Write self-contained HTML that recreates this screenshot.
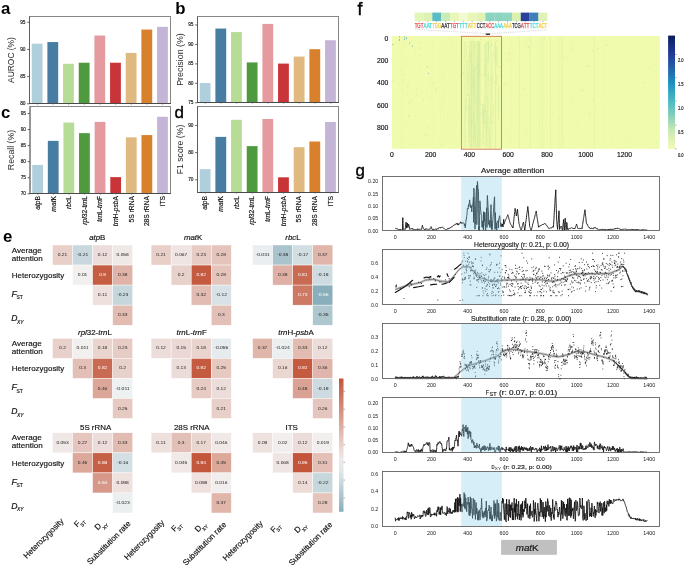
<!DOCTYPE html>
<html><head><meta charset="utf-8"><style>
html,body{margin:0;padding:0;background:#fff;}
svg{display:block;font-family:"Liberation Sans", sans-serif;will-change:transform;}
.gp{text-rendering:geometricPrecision;}
</style></head><body>
<svg width="685" height="565" viewBox="0 0 685 565">
<rect width="685" height="565" fill="#fff"/>
<text x="0.90" y="14.10" font-size="16.8" font-weight="bold">a</text>
<text x="175.20" y="14.00" font-size="16.8" font-weight="bold">b</text>
<text x="1.00" y="118.40" font-size="16.8" font-weight="bold">c</text>
<text x="174.60" y="118.20" font-size="17.0" stroke="#000" stroke-width="0.35">d</text>
<text x="3.00" y="242.00" font-size="16.8" font-weight="bold">e</text>
<text x="357.40" y="14.90" font-size="17.5" stroke="#000" stroke-width="0.45">f</text>
<text x="355.40" y="175.70" font-size="16.0" textLength="9.40" lengthAdjust="spacingAndGlyphs" stroke="#000" stroke-width="0.35">g</text>
<rect x="31.73" y="43.69" width="10.81" height="59.81" fill="#b0cfdc"/>
<rect x="47.39" y="42.06" width="10.81" height="61.44" fill="#477da2"/>
<rect x="63.06" y="63.81" width="10.81" height="39.69" fill="#b7dc96"/>
<rect x="78.73" y="62.72" width="10.81" height="40.78" fill="#4f9a3f"/>
<rect x="94.39" y="35.53" width="10.81" height="67.97" fill="#e49a9e"/>
<rect x="110.06" y="62.72" width="10.81" height="40.78" fill="#c93438"/>
<rect x="125.73" y="52.93" width="10.81" height="50.57" fill="#dfb97f"/>
<rect x="141.40" y="29.55" width="10.81" height="73.95" fill="#d9802c"/>
<rect x="157.06" y="26.83" width="10.81" height="76.67" fill="#c4b5d6"/>
<rect x="29.50" y="16.50" width="141.00" height="87.00" fill="none" stroke="#7a7a7a" stroke-width="0.9"/>
<line x1="29.10" y1="103.50" x2="170.90" y2="103.50" stroke="#444" stroke-width="0.9"/>
<line x1="29.50" y1="16.50" x2="29.50" y2="103.50" stroke="#555" stroke-width="0.8"/>
<line x1="27.10" y1="103.80" x2="29.50" y2="103.80" stroke="#444" stroke-width="0.8"/>
<text x="25.50" y="105.20" font-size="4.8" text-anchor="end" fill="#222" stroke="#222" stroke-width="0.16">80</text>
<line x1="27.10" y1="76.61" x2="29.50" y2="76.61" stroke="#444" stroke-width="0.8"/>
<text x="25.50" y="78.01" font-size="4.8" text-anchor="end" fill="#222" stroke="#222" stroke-width="0.16">85</text>
<line x1="27.10" y1="49.42" x2="29.50" y2="49.42" stroke="#444" stroke-width="0.8"/>
<text x="25.50" y="50.83" font-size="4.8" text-anchor="end" fill="#222" stroke="#222" stroke-width="0.16">90</text>
<line x1="27.10" y1="22.24" x2="29.50" y2="22.24" stroke="#444" stroke-width="0.8"/>
<text x="25.50" y="23.64" font-size="4.8" text-anchor="end" fill="#222" stroke="#222" stroke-width="0.16">95</text>
<line x1="37.33" y1="103.50" x2="37.33" y2="105.10" stroke="#666" stroke-width="0.5"/>
<line x1="53.00" y1="103.50" x2="53.00" y2="105.10" stroke="#666" stroke-width="0.5"/>
<line x1="68.67" y1="103.50" x2="68.67" y2="105.10" stroke="#666" stroke-width="0.5"/>
<line x1="84.33" y1="103.50" x2="84.33" y2="105.10" stroke="#666" stroke-width="0.5"/>
<line x1="100.00" y1="103.50" x2="100.00" y2="105.10" stroke="#666" stroke-width="0.5"/>
<line x1="115.67" y1="103.50" x2="115.67" y2="105.10" stroke="#666" stroke-width="0.5"/>
<line x1="131.33" y1="103.50" x2="131.33" y2="105.10" stroke="#666" stroke-width="0.5"/>
<line x1="147.00" y1="103.50" x2="147.00" y2="105.10" stroke="#666" stroke-width="0.5"/>
<line x1="162.67" y1="103.50" x2="162.67" y2="105.10" stroke="#666" stroke-width="0.5"/>
<text transform="translate(14.10,60.00) rotate(-90)" font-size="8.7" text-anchor="middle" fill="#2a2a2a" stroke="none" textLength="45.8" lengthAdjust="spacingAndGlyphs">AUROC (%)</text>
<rect x="199.73" y="83.04" width="10.81" height="19.46" fill="#b0cfdc"/>
<rect x="215.40" y="28.56" width="10.81" height="73.94" fill="#477da2"/>
<rect x="231.06" y="32.07" width="10.81" height="70.43" fill="#b7dc96"/>
<rect x="246.73" y="62.42" width="10.81" height="40.08" fill="#4f9a3f"/>
<rect x="262.40" y="23.89" width="10.81" height="78.61" fill="#e49a9e"/>
<rect x="278.06" y="63.59" width="10.81" height="38.91" fill="#c93438"/>
<rect x="293.73" y="56.58" width="10.81" height="45.92" fill="#dfb97f"/>
<rect x="309.40" y="49.19" width="10.81" height="53.31" fill="#d9802c"/>
<rect x="325.06" y="40.24" width="10.81" height="62.26" fill="#c4b5d6"/>
<rect x="197.50" y="16.50" width="141.00" height="86.00" fill="none" stroke="#7a7a7a" stroke-width="0.9"/>
<line x1="197.10" y1="102.50" x2="338.90" y2="102.50" stroke="#444" stroke-width="0.9"/>
<line x1="197.50" y1="16.50" x2="197.50" y2="102.50" stroke="#555" stroke-width="0.8"/>
<line x1="195.10" y1="102.80" x2="197.50" y2="102.80" stroke="#444" stroke-width="0.8"/>
<text x="193.50" y="104.20" font-size="4.8" text-anchor="end" fill="#222" stroke="#222" stroke-width="0.16">75</text>
<line x1="195.10" y1="83.34" x2="197.50" y2="83.34" stroke="#444" stroke-width="0.8"/>
<text x="193.50" y="84.74" font-size="4.8" text-anchor="end" fill="#222" stroke="#222" stroke-width="0.16">80</text>
<line x1="195.10" y1="63.89" x2="197.50" y2="63.89" stroke="#444" stroke-width="0.8"/>
<text x="193.50" y="65.29" font-size="4.8" text-anchor="end" fill="#222" stroke="#222" stroke-width="0.16">85</text>
<line x1="195.10" y1="44.43" x2="197.50" y2="44.43" stroke="#444" stroke-width="0.8"/>
<text x="193.50" y="45.83" font-size="4.8" text-anchor="end" fill="#222" stroke="#222" stroke-width="0.16">90</text>
<line x1="195.10" y1="24.97" x2="197.50" y2="24.97" stroke="#444" stroke-width="0.8"/>
<text x="193.50" y="26.37" font-size="4.8" text-anchor="end" fill="#222" stroke="#222" stroke-width="0.16">95</text>
<line x1="205.33" y1="102.50" x2="205.33" y2="104.10" stroke="#666" stroke-width="0.5"/>
<line x1="221.00" y1="102.50" x2="221.00" y2="104.10" stroke="#666" stroke-width="0.5"/>
<line x1="236.67" y1="102.50" x2="236.67" y2="104.10" stroke="#666" stroke-width="0.5"/>
<line x1="252.33" y1="102.50" x2="252.33" y2="104.10" stroke="#666" stroke-width="0.5"/>
<line x1="268.00" y1="102.50" x2="268.00" y2="104.10" stroke="#666" stroke-width="0.5"/>
<line x1="283.67" y1="102.50" x2="283.67" y2="104.10" stroke="#666" stroke-width="0.5"/>
<line x1="299.33" y1="102.50" x2="299.33" y2="104.10" stroke="#666" stroke-width="0.5"/>
<line x1="315.00" y1="102.50" x2="315.00" y2="104.10" stroke="#666" stroke-width="0.5"/>
<line x1="330.67" y1="102.50" x2="330.67" y2="104.10" stroke="#666" stroke-width="0.5"/>
<text transform="translate(183.20,59.50) rotate(-90)" font-size="8.7" text-anchor="middle" fill="#2a2a2a" stroke="none" textLength="52.6" lengthAdjust="spacingAndGlyphs">Precision (%)</text>
<rect x="32.22" y="164.93" width="10.77" height="28.57" fill="#b0cfdc"/>
<rect x="47.83" y="140.85" width="10.77" height="52.65" fill="#477da2"/>
<rect x="63.44" y="122.55" width="10.77" height="70.95" fill="#b7dc96"/>
<rect x="79.05" y="133.15" width="10.77" height="60.35" fill="#4f9a3f"/>
<rect x="94.66" y="121.91" width="10.77" height="71.59" fill="#e49a9e"/>
<rect x="110.28" y="177.13" width="10.77" height="16.37" fill="#c93438"/>
<rect x="125.89" y="137.32" width="10.77" height="56.18" fill="#dfb97f"/>
<rect x="141.50" y="135.07" width="10.77" height="58.43" fill="#d9802c"/>
<rect x="157.11" y="116.77" width="10.77" height="76.73" fill="#c4b5d6"/>
<rect x="30.00" y="106.50" width="140.50" height="87.00" fill="none" stroke="#7a7a7a" stroke-width="0.9"/>
<line x1="29.60" y1="193.50" x2="170.90" y2="193.50" stroke="#444" stroke-width="0.9"/>
<line x1="30.00" y1="106.50" x2="30.00" y2="193.50" stroke="#555" stroke-width="0.8"/>
<line x1="27.60" y1="193.80" x2="30.00" y2="193.80" stroke="#444" stroke-width="0.8"/>
<text x="26.00" y="195.20" font-size="4.8" text-anchor="end" fill="#222" stroke="#222" stroke-width="0.16">70</text>
<line x1="27.60" y1="177.75" x2="30.00" y2="177.75" stroke="#444" stroke-width="0.8"/>
<text x="26.00" y="179.15" font-size="4.8" text-anchor="end" fill="#222" stroke="#222" stroke-width="0.16">75</text>
<line x1="27.60" y1="161.70" x2="30.00" y2="161.70" stroke="#444" stroke-width="0.8"/>
<text x="26.00" y="163.10" font-size="4.8" text-anchor="end" fill="#222" stroke="#222" stroke-width="0.16">80</text>
<line x1="27.60" y1="145.65" x2="30.00" y2="145.65" stroke="#444" stroke-width="0.8"/>
<text x="26.00" y="147.05" font-size="4.8" text-anchor="end" fill="#222" stroke="#222" stroke-width="0.16">85</text>
<line x1="27.60" y1="129.59" x2="30.00" y2="129.59" stroke="#444" stroke-width="0.8"/>
<text x="26.00" y="130.99" font-size="4.8" text-anchor="end" fill="#222" stroke="#222" stroke-width="0.16">90</text>
<line x1="27.60" y1="113.54" x2="30.00" y2="113.54" stroke="#444" stroke-width="0.8"/>
<text x="26.00" y="114.94" font-size="4.8" text-anchor="end" fill="#222" stroke="#222" stroke-width="0.16">95</text>
<line x1="37.81" y1="193.50" x2="37.81" y2="195.10" stroke="#666" stroke-width="0.5"/>
<line x1="53.42" y1="193.50" x2="53.42" y2="195.10" stroke="#666" stroke-width="0.5"/>
<line x1="69.03" y1="193.50" x2="69.03" y2="195.10" stroke="#666" stroke-width="0.5"/>
<line x1="84.64" y1="193.50" x2="84.64" y2="195.10" stroke="#666" stroke-width="0.5"/>
<line x1="100.25" y1="193.50" x2="100.25" y2="195.10" stroke="#666" stroke-width="0.5"/>
<line x1="115.86" y1="193.50" x2="115.86" y2="195.10" stroke="#666" stroke-width="0.5"/>
<line x1="131.47" y1="193.50" x2="131.47" y2="195.10" stroke="#666" stroke-width="0.5"/>
<line x1="147.08" y1="193.50" x2="147.08" y2="195.10" stroke="#666" stroke-width="0.5"/>
<line x1="162.69" y1="193.50" x2="162.69" y2="195.10" stroke="#666" stroke-width="0.5"/>
<text transform="translate(14.10,150.00) rotate(-90)" font-size="8.7" text-anchor="middle" fill="#2a2a2a" stroke="none" textLength="40.3" lengthAdjust="spacingAndGlyphs">Recall (%)</text>
<rect x="199.73" y="169.17" width="10.81" height="23.33" fill="#b0cfdc"/>
<rect x="215.40" y="136.88" width="10.81" height="55.62" fill="#477da2"/>
<rect x="231.06" y="119.79" width="10.81" height="72.71" fill="#b7dc96"/>
<rect x="246.73" y="146.11" width="10.81" height="46.39" fill="#4f9a3f"/>
<rect x="262.40" y="118.98" width="10.81" height="73.52" fill="#e49a9e"/>
<rect x="278.06" y="177.31" width="10.81" height="15.19" fill="#c93438"/>
<rect x="293.73" y="147.19" width="10.81" height="45.31" fill="#dfb97f"/>
<rect x="309.40" y="141.50" width="10.81" height="51.00" fill="#d9802c"/>
<rect x="325.06" y="121.96" width="10.81" height="70.54" fill="#c4b5d6"/>
<rect x="197.50" y="106.50" width="141.00" height="86.00" fill="none" stroke="#7a7a7a" stroke-width="0.9"/>
<line x1="197.10" y1="192.50" x2="338.90" y2="192.50" stroke="#444" stroke-width="0.9"/>
<line x1="197.50" y1="106.50" x2="197.50" y2="192.50" stroke="#555" stroke-width="0.8"/>
<line x1="195.10" y1="179.78" x2="197.50" y2="179.78" stroke="#444" stroke-width="0.8"/>
<text x="193.50" y="181.18" font-size="4.8" text-anchor="end" fill="#222" stroke="#222" stroke-width="0.16">70</text>
<line x1="195.10" y1="152.65" x2="197.50" y2="152.65" stroke="#444" stroke-width="0.8"/>
<text x="193.50" y="154.05" font-size="4.8" text-anchor="end" fill="#222" stroke="#222" stroke-width="0.16">80</text>
<line x1="195.10" y1="125.52" x2="197.50" y2="125.52" stroke="#444" stroke-width="0.8"/>
<text x="193.50" y="126.92" font-size="4.8" text-anchor="end" fill="#222" stroke="#222" stroke-width="0.16">90</text>
<line x1="205.33" y1="192.50" x2="205.33" y2="194.10" stroke="#666" stroke-width="0.5"/>
<line x1="221.00" y1="192.50" x2="221.00" y2="194.10" stroke="#666" stroke-width="0.5"/>
<line x1="236.67" y1="192.50" x2="236.67" y2="194.10" stroke="#666" stroke-width="0.5"/>
<line x1="252.33" y1="192.50" x2="252.33" y2="194.10" stroke="#666" stroke-width="0.5"/>
<line x1="268.00" y1="192.50" x2="268.00" y2="194.10" stroke="#666" stroke-width="0.5"/>
<line x1="283.67" y1="192.50" x2="283.67" y2="194.10" stroke="#666" stroke-width="0.5"/>
<line x1="299.33" y1="192.50" x2="299.33" y2="194.10" stroke="#666" stroke-width="0.5"/>
<line x1="315.00" y1="192.50" x2="315.00" y2="194.10" stroke="#666" stroke-width="0.5"/>
<line x1="330.67" y1="192.50" x2="330.67" y2="194.10" stroke="#666" stroke-width="0.5"/>
<text transform="translate(183.20,149.50) rotate(-90)" font-size="8.7" text-anchor="middle" fill="#2a2a2a" stroke="none" textLength="49.6" lengthAdjust="spacingAndGlyphs">F1 score (%)</text>
<text transform="translate(40.00,196.0) rotate(-90)" font-size="6.7" text-anchor="end" fill="#111" stroke="#111" stroke-width="0.16"><tspan font-style="italic">atp</tspan><tspan>B</tspan></text>
<text transform="translate(55.60,196.0) rotate(-90)" font-size="6.7" text-anchor="end" fill="#111" stroke="#111" stroke-width="0.16"><tspan font-style="italic">mat</tspan><tspan>K</tspan></text>
<text transform="translate(71.20,196.0) rotate(-90)" font-size="6.7" text-anchor="end" fill="#111" stroke="#111" stroke-width="0.16"><tspan font-style="italic">rbc</tspan><tspan>L</tspan></text>
<text transform="translate(86.80,196.0) rotate(-90)" font-size="6.7" text-anchor="end" fill="#111" stroke="#111" stroke-width="0.16"><tspan font-style="italic">rpl</tspan><tspan>32-</tspan><tspan font-style="italic">trn</tspan><tspan>L</tspan></text>
<text transform="translate(102.40,196.0) rotate(-90)" font-size="6.7" text-anchor="end" fill="#111" stroke="#111" stroke-width="0.16"><tspan font-style="italic">trn</tspan><tspan>L-</tspan><tspan font-style="italic">trn</tspan><tspan>F</tspan></text>
<text transform="translate(118.00,196.0) rotate(-90)" font-size="6.7" text-anchor="end" fill="#111" stroke="#111" stroke-width="0.16"><tspan font-style="italic">trn</tspan><tspan>H-</tspan><tspan font-style="italic">psb</tspan><tspan>A</tspan></text>
<text transform="translate(133.60,196.0) rotate(-90)" font-size="6.7" text-anchor="end" fill="#111" stroke="#111" stroke-width="0.16">5S rRNA</text>
<text transform="translate(149.20,196.0) rotate(-90)" font-size="6.7" text-anchor="end" fill="#111" stroke="#111" stroke-width="0.16">28S rRNA</text>
<text transform="translate(164.80,196.0) rotate(-90)" font-size="6.7" text-anchor="end" fill="#111" stroke="#111" stroke-width="0.16">ITS</text>
<text transform="translate(207.24,196.0) rotate(-90)" font-size="6.7" text-anchor="end" fill="#111" stroke="#111" stroke-width="0.16"><tspan font-style="italic">atp</tspan><tspan>B</tspan></text>
<text transform="translate(222.92,196.0) rotate(-90)" font-size="6.7" text-anchor="end" fill="#111" stroke="#111" stroke-width="0.16"><tspan font-style="italic">mat</tspan><tspan>K</tspan></text>
<text transform="translate(238.59,196.0) rotate(-90)" font-size="6.7" text-anchor="end" fill="#111" stroke="#111" stroke-width="0.16"><tspan font-style="italic">rbc</tspan><tspan>L</tspan></text>
<text transform="translate(254.27,196.0) rotate(-90)" font-size="6.7" text-anchor="end" fill="#111" stroke="#111" stroke-width="0.16"><tspan font-style="italic">rpl</tspan><tspan>32-</tspan><tspan font-style="italic">trn</tspan><tspan>L</tspan></text>
<text transform="translate(269.95,196.0) rotate(-90)" font-size="6.7" text-anchor="end" fill="#111" stroke="#111" stroke-width="0.16"><tspan font-style="italic">trn</tspan><tspan>L-</tspan><tspan font-style="italic">trn</tspan><tspan>F</tspan></text>
<text transform="translate(285.63,196.0) rotate(-90)" font-size="6.7" text-anchor="end" fill="#111" stroke="#111" stroke-width="0.16"><tspan font-style="italic">trn</tspan><tspan>H-</tspan><tspan font-style="italic">psb</tspan><tspan>A</tspan></text>
<text transform="translate(301.31,196.0) rotate(-90)" font-size="6.7" text-anchor="end" fill="#111" stroke="#111" stroke-width="0.16">5S rRNA</text>
<text transform="translate(316.98,196.0) rotate(-90)" font-size="6.7" text-anchor="end" fill="#111" stroke="#111" stroke-width="0.16">28S rRNA</text>
<text transform="translate(332.66,196.0) rotate(-90)" font-size="6.7" text-anchor="end" fill="#111" stroke="#111" stroke-width="0.16">ITS</text>
<rect x="52.50" y="245.00" width="20.05" height="20.05" fill="#e8cfc8" stroke="#fff" stroke-width="0.45"/>
<text x="62.52" y="256.12" font-size="4.35" text-anchor="middle" fill="#262626" textLength="9.46" lengthAdjust="spacingAndGlyphs" class="gp">0.21</text>
<rect x="72.55" y="245.00" width="20.05" height="20.05" fill="#c8d8de" stroke="#fff" stroke-width="0.45"/>
<text x="82.58" y="256.12" font-size="4.35" text-anchor="middle" fill="#262626" textLength="11.37" lengthAdjust="spacingAndGlyphs" class="gp">-0.21</text>
<rect x="92.60" y="245.00" width="20.05" height="20.05" fill="#ecddda" stroke="#fff" stroke-width="0.45"/>
<text x="102.62" y="256.12" font-size="4.35" text-anchor="middle" fill="#262626" textLength="9.46" lengthAdjust="spacingAndGlyphs" class="gp">0.12</text>
<rect x="112.65" y="245.00" width="20.05" height="20.05" fill="#f0e8e7" stroke="#fff" stroke-width="0.45"/>
<text x="122.68" y="256.12" font-size="4.35" text-anchor="middle" fill="#262626" textLength="12.16" lengthAdjust="spacingAndGlyphs" class="gp">0.058</text>
<rect x="72.55" y="265.05" width="20.05" height="20.05" fill="#f2f0ef" stroke="#fff" stroke-width="0.45"/>
<text x="82.58" y="276.18" font-size="4.35" text-anchor="middle" fill="#262626" textLength="9.46" lengthAdjust="spacingAndGlyphs" class="gp">0.01</text>
<rect x="92.60" y="265.05" width="20.05" height="20.05" fill="#c55d42" stroke="#fff" stroke-width="0.45"/>
<text x="102.62" y="276.18" font-size="4.35" text-anchor="middle" fill="#ffffff" textLength="6.76" lengthAdjust="spacingAndGlyphs" class="gp">0.9</text>
<rect x="112.65" y="265.05" width="20.05" height="20.05" fill="#dfb3a7" stroke="#fff" stroke-width="0.45"/>
<text x="122.68" y="276.18" font-size="4.35" text-anchor="middle" fill="#262626" textLength="9.46" lengthAdjust="spacingAndGlyphs" class="gp">0.38</text>
<rect x="92.60" y="285.10" width="20.05" height="20.05" fill="#ede0dd" stroke="#fff" stroke-width="0.45"/>
<text x="102.62" y="296.23" font-size="4.35" text-anchor="middle" fill="#262626" textLength="9.46" lengthAdjust="spacingAndGlyphs" class="gp">0.11</text>
<rect x="112.65" y="285.10" width="20.05" height="20.05" fill="#c6d7dc" stroke="#fff" stroke-width="0.45"/>
<text x="122.68" y="296.23" font-size="4.35" text-anchor="middle" fill="#262626" textLength="11.37" lengthAdjust="spacingAndGlyphs" class="gp">-0.23</text>
<rect x="112.65" y="305.15" width="20.05" height="20.05" fill="#e2bbb1" stroke="#fff" stroke-width="0.45"/>
<text x="122.68" y="316.27" font-size="4.35" text-anchor="middle" fill="#262626" textLength="9.46" lengthAdjust="spacingAndGlyphs" class="gp">0.33</text>
<text x="97.25" y="239.60" font-size="7.9" text-anchor="middle" fill="#111" stroke="#111" stroke-width="0.16"><tspan font-style="italic">atp</tspan><tspan>B</tspan></text>
<text x="11.8" y="252.60" font-size="8.1" fill="#111" stroke="#111" stroke-width="0.16">Average</text>
<text x="11.8" y="260.60" font-size="8.1" fill="#111" stroke="#111" stroke-width="0.16">attention</text>
<text x="11.8" y="278.10" font-size="7.95" fill="#111" stroke="#111" stroke-width="0.16">Heterozygosity</text>
<text x="11.4" y="296.70" font-size="8.9" fill="#111" font-style="italic" stroke="#111" stroke-width="0.16">F</text>
<text x="16.6" y="299.30" font-size="4.9" fill="#111" stroke="#111" stroke-width="0.16">ST</text>
<text x="11.200000000000001" y="320.80" font-size="8.6" fill="#111" font-style="italic" stroke="#111" stroke-width="0.16">D</text>
<text x="17.0" y="323.60" font-size="4.9" fill="#111" font-style="italic" stroke="#111" stroke-width="0.16">XY</text>
<rect x="151.10" y="245.00" width="20.05" height="20.05" fill="#e8cfc8" stroke="#fff" stroke-width="0.45"/>
<text x="161.12" y="256.12" font-size="4.35" text-anchor="middle" fill="#262626" textLength="9.46" lengthAdjust="spacingAndGlyphs" class="gp">0.21</text>
<rect x="171.15" y="245.00" width="20.05" height="20.05" fill="#efe6e4" stroke="#fff" stroke-width="0.45"/>
<text x="181.18" y="256.12" font-size="4.35" text-anchor="middle" fill="#262626" textLength="12.16" lengthAdjust="spacingAndGlyphs" class="gp">0.067</text>
<rect x="191.20" y="245.00" width="20.05" height="20.05" fill="#e7ccc6" stroke="#fff" stroke-width="0.45"/>
<text x="201.22" y="256.12" font-size="4.35" text-anchor="middle" fill="#262626" textLength="9.46" lengthAdjust="spacingAndGlyphs" class="gp">0.23</text>
<rect x="211.25" y="245.00" width="20.05" height="20.05" fill="#e5c4bb" stroke="#fff" stroke-width="0.45"/>
<text x="221.28" y="256.12" font-size="4.35" text-anchor="middle" fill="#262626" textLength="9.46" lengthAdjust="spacingAndGlyphs" class="gp">0.28</text>
<rect x="171.15" y="265.05" width="20.05" height="20.05" fill="#e9d1cb" stroke="#fff" stroke-width="0.45"/>
<text x="181.18" y="276.18" font-size="4.35" text-anchor="middle" fill="#262626" textLength="6.76" lengthAdjust="spacingAndGlyphs" class="gp">0.2</text>
<rect x="191.20" y="265.05" width="20.05" height="20.05" fill="#c45a3f" stroke="#fff" stroke-width="0.45"/>
<text x="201.22" y="276.18" font-size="4.35" text-anchor="middle" fill="#ffffff" textLength="9.46" lengthAdjust="spacingAndGlyphs" class="gp">0.92</text>
<rect x="211.25" y="265.05" width="20.05" height="20.05" fill="#e5c4bb" stroke="#fff" stroke-width="0.45"/>
<text x="221.28" y="276.18" font-size="4.35" text-anchor="middle" fill="#262626" textLength="9.46" lengthAdjust="spacingAndGlyphs" class="gp">0.28</text>
<rect x="191.20" y="285.10" width="20.05" height="20.05" fill="#e2bcb3" stroke="#fff" stroke-width="0.45"/>
<text x="201.22" y="296.23" font-size="4.35" text-anchor="middle" fill="#262626" textLength="9.46" lengthAdjust="spacingAndGlyphs" class="gp">0.32</text>
<rect x="211.25" y="285.10" width="20.05" height="20.05" fill="#d9e3e7" stroke="#fff" stroke-width="0.45"/>
<text x="221.28" y="296.23" font-size="4.35" text-anchor="middle" fill="#262626" textLength="11.37" lengthAdjust="spacingAndGlyphs" class="gp">-0.12</text>
<rect x="211.25" y="305.15" width="20.05" height="20.05" fill="#e3c0b7" stroke="#fff" stroke-width="0.45"/>
<text x="221.28" y="316.27" font-size="4.35" text-anchor="middle" fill="#262626" textLength="6.76" lengthAdjust="spacingAndGlyphs" class="gp">0.3</text>
<text x="193.10" y="239.60" font-size="7.9" text-anchor="middle" fill="#111" stroke="#111" stroke-width="0.16"><tspan font-style="italic">mat</tspan><tspan>K</tspan></text>
<rect x="252.60" y="245.00" width="20.05" height="20.05" fill="#eaeef0" stroke="#fff" stroke-width="0.45"/>
<text x="262.62" y="256.12" font-size="4.35" text-anchor="middle" fill="#262626" textLength="14.08" lengthAdjust="spacingAndGlyphs" class="gp">-0.031</text>
<rect x="272.65" y="245.00" width="20.05" height="20.05" fill="#a9c4cc" stroke="#fff" stroke-width="0.45"/>
<text x="282.67" y="256.12" font-size="4.35" text-anchor="middle" fill="#262626" textLength="11.37" lengthAdjust="spacingAndGlyphs" class="gp">-0.38</text>
<rect x="292.70" y="245.00" width="20.05" height="20.05" fill="#d1dee2" stroke="#fff" stroke-width="0.45"/>
<text x="302.72" y="256.12" font-size="4.35" text-anchor="middle" fill="#262626" textLength="11.37" lengthAdjust="spacingAndGlyphs" class="gp">-0.17</text>
<rect x="312.75" y="245.00" width="20.05" height="20.05" fill="#e0b5aa" stroke="#fff" stroke-width="0.45"/>
<text x="322.77" y="256.12" font-size="4.35" text-anchor="middle" fill="#262626" textLength="9.46" lengthAdjust="spacingAndGlyphs" class="gp">0.37</text>
<rect x="272.65" y="265.05" width="20.05" height="20.05" fill="#dfb1a6" stroke="#fff" stroke-width="0.45"/>
<text x="282.67" y="276.18" font-size="4.35" text-anchor="middle" fill="#262626" textLength="9.46" lengthAdjust="spacingAndGlyphs" class="gp">0.39</text>
<rect x="292.70" y="265.05" width="20.05" height="20.05" fill="#c96b53" stroke="#fff" stroke-width="0.45"/>
<text x="302.72" y="276.18" font-size="4.35" text-anchor="middle" fill="#ffffff" textLength="9.46" lengthAdjust="spacingAndGlyphs" class="gp">0.81</text>
<rect x="312.75" y="265.05" width="20.05" height="20.05" fill="#cedce1" stroke="#fff" stroke-width="0.45"/>
<text x="322.77" y="276.18" font-size="4.35" text-anchor="middle" fill="#262626" textLength="11.37" lengthAdjust="spacingAndGlyphs" class="gp">-0.18</text>
<rect x="292.70" y="285.10" width="20.05" height="20.05" fill="#ce7963" stroke="#fff" stroke-width="0.45"/>
<text x="302.72" y="296.23" font-size="4.35" text-anchor="middle" fill="#ffffff" textLength="9.46" lengthAdjust="spacingAndGlyphs" class="gp">0.73</text>
<rect x="312.75" y="285.10" width="20.05" height="20.05" fill="#88afbb" stroke="#fff" stroke-width="0.45"/>
<text x="322.77" y="296.23" font-size="4.35" text-anchor="middle" fill="#ffffff" textLength="11.37" lengthAdjust="spacingAndGlyphs" class="gp">-0.55</text>
<rect x="312.75" y="305.15" width="20.05" height="20.05" fill="#aec7cf" stroke="#fff" stroke-width="0.45"/>
<text x="322.77" y="316.27" font-size="4.35" text-anchor="middle" fill="#262626" textLength="11.37" lengthAdjust="spacingAndGlyphs" class="gp">-0.35</text>
<text x="293.00" y="239.60" font-size="7.9" text-anchor="middle" fill="#111" stroke="#111" stroke-width="0.16"><tspan font-style="italic">rbc</tspan><tspan>L</tspan></text>
<rect x="52.50" y="338.30" width="20.05" height="20.05" fill="#e9d1cb" stroke="#fff" stroke-width="0.45"/>
<text x="62.52" y="349.43" font-size="4.35" text-anchor="middle" fill="#262626" textLength="6.76" lengthAdjust="spacingAndGlyphs" class="gp">0.2</text>
<rect x="72.55" y="338.30" width="20.05" height="20.05" fill="#f2f0ef" stroke="#fff" stroke-width="0.45"/>
<text x="82.58" y="349.43" font-size="4.35" text-anchor="middle" fill="#262626" textLength="12.16" lengthAdjust="spacingAndGlyphs" class="gp">0.011</text>
<rect x="92.60" y="338.30" width="20.05" height="20.05" fill="#e9d4ce" stroke="#fff" stroke-width="0.45"/>
<text x="102.62" y="349.43" font-size="4.35" text-anchor="middle" fill="#262626" textLength="9.46" lengthAdjust="spacingAndGlyphs" class="gp">0.18</text>
<rect x="112.65" y="338.30" width="20.05" height="20.05" fill="#e7ccc6" stroke="#fff" stroke-width="0.45"/>
<text x="122.68" y="349.43" font-size="4.35" text-anchor="middle" fill="#262626" textLength="9.46" lengthAdjust="spacingAndGlyphs" class="gp">0.23</text>
<rect x="72.55" y="358.35" width="20.05" height="20.05" fill="#e3c0b7" stroke="#fff" stroke-width="0.45"/>
<text x="82.58" y="369.48" font-size="4.35" text-anchor="middle" fill="#262626" textLength="6.76" lengthAdjust="spacingAndGlyphs" class="gp">0.3</text>
<rect x="92.60" y="358.35" width="20.05" height="20.05" fill="#c96a52" stroke="#fff" stroke-width="0.45"/>
<text x="102.62" y="369.48" font-size="4.35" text-anchor="middle" fill="#ffffff" textLength="9.46" lengthAdjust="spacingAndGlyphs" class="gp">0.82</text>
<rect x="112.65" y="358.35" width="20.05" height="20.05" fill="#e9d1cb" stroke="#fff" stroke-width="0.45"/>
<text x="122.68" y="369.48" font-size="4.35" text-anchor="middle" fill="#262626" textLength="6.76" lengthAdjust="spacingAndGlyphs" class="gp">0.2</text>
<rect x="92.60" y="378.40" width="20.05" height="20.05" fill="#dca699" stroke="#fff" stroke-width="0.45"/>
<text x="102.62" y="389.53" font-size="4.35" text-anchor="middle" fill="#262626" textLength="9.46" lengthAdjust="spacingAndGlyphs" class="gp">0.46</text>
<rect x="112.65" y="378.40" width="20.05" height="20.05" fill="#eef1f2" stroke="#fff" stroke-width="0.45"/>
<text x="122.68" y="389.53" font-size="4.35" text-anchor="middle" fill="#262626" textLength="14.08" lengthAdjust="spacingAndGlyphs" class="gp">-0.011</text>
<rect x="112.65" y="398.45" width="20.05" height="20.05" fill="#e6c9c1" stroke="#fff" stroke-width="0.45"/>
<text x="122.68" y="409.58" font-size="4.35" text-anchor="middle" fill="#262626" textLength="9.46" lengthAdjust="spacingAndGlyphs" class="gp">0.25</text>
<text x="94.90" y="335.00" font-size="7.9" text-anchor="middle" fill="#111" stroke="#111" stroke-width="0.16"><tspan font-style="italic">rpl</tspan><tspan>32-</tspan><tspan font-style="italic">trn</tspan><tspan>L</tspan></text>
<text x="11.8" y="345.90" font-size="8.1" fill="#111" stroke="#111" stroke-width="0.16">Average</text>
<text x="11.8" y="353.90" font-size="8.1" fill="#111" stroke="#111" stroke-width="0.16">attention</text>
<text x="11.8" y="371.40" font-size="7.95" fill="#111" stroke="#111" stroke-width="0.16">Heterozygosity</text>
<text x="11.4" y="390.00" font-size="8.9" fill="#111" font-style="italic" stroke="#111" stroke-width="0.16">F</text>
<text x="16.6" y="392.60" font-size="4.9" fill="#111" stroke="#111" stroke-width="0.16">ST</text>
<text x="11.200000000000001" y="414.10" font-size="8.6" fill="#111" font-style="italic" stroke="#111" stroke-width="0.16">D</text>
<text x="17.0" y="416.90" font-size="4.9" fill="#111" font-style="italic" stroke="#111" stroke-width="0.16">XY</text>
<rect x="151.10" y="338.30" width="20.05" height="20.05" fill="#ecddda" stroke="#fff" stroke-width="0.45"/>
<text x="161.12" y="349.43" font-size="4.35" text-anchor="middle" fill="#262626" textLength="9.46" lengthAdjust="spacingAndGlyphs" class="gp">0.12</text>
<rect x="171.15" y="338.30" width="20.05" height="20.05" fill="#ebd8d4" stroke="#fff" stroke-width="0.45"/>
<text x="181.18" y="349.43" font-size="4.35" text-anchor="middle" fill="#262626" textLength="9.46" lengthAdjust="spacingAndGlyphs" class="gp">0.15</text>
<rect x="191.20" y="338.30" width="20.05" height="20.05" fill="#e9d4ce" stroke="#fff" stroke-width="0.45"/>
<text x="201.22" y="349.43" font-size="4.35" text-anchor="middle" fill="#262626" textLength="9.46" lengthAdjust="spacingAndGlyphs" class="gp">0.18</text>
<rect x="211.25" y="338.30" width="20.05" height="20.05" fill="#e6ebed" stroke="#fff" stroke-width="0.45"/>
<text x="221.28" y="349.43" font-size="4.35" text-anchor="middle" fill="#262626" textLength="14.08" lengthAdjust="spacingAndGlyphs" class="gp">-0.055</text>
<rect x="171.15" y="358.35" width="20.05" height="20.05" fill="#ecdcd8" stroke="#fff" stroke-width="0.45"/>
<text x="181.18" y="369.48" font-size="4.35" text-anchor="middle" fill="#262626" textLength="9.46" lengthAdjust="spacingAndGlyphs" class="gp">0.13</text>
<rect x="191.20" y="358.35" width="20.05" height="20.05" fill="#c45a3f" stroke="#fff" stroke-width="0.45"/>
<text x="201.22" y="369.48" font-size="4.35" text-anchor="middle" fill="#ffffff" textLength="9.46" lengthAdjust="spacingAndGlyphs" class="gp">0.92</text>
<rect x="211.25" y="358.35" width="20.05" height="20.05" fill="#e6c9c1" stroke="#fff" stroke-width="0.45"/>
<text x="221.28" y="369.48" font-size="4.35" text-anchor="middle" fill="#262626" textLength="9.46" lengthAdjust="spacingAndGlyphs" class="gp">0.25</text>
<rect x="191.20" y="378.40" width="20.05" height="20.05" fill="#e6cac3" stroke="#fff" stroke-width="0.45"/>
<text x="201.22" y="389.53" font-size="4.35" text-anchor="middle" fill="#262626" textLength="9.46" lengthAdjust="spacingAndGlyphs" class="gp">0.24</text>
<rect x="211.25" y="378.40" width="20.05" height="20.05" fill="#ecddda" stroke="#fff" stroke-width="0.45"/>
<text x="221.28" y="389.53" font-size="4.35" text-anchor="middle" fill="#262626" textLength="9.46" lengthAdjust="spacingAndGlyphs" class="gp">0.12</text>
<rect x="211.25" y="398.45" width="20.05" height="20.05" fill="#e8cfc8" stroke="#fff" stroke-width="0.45"/>
<text x="221.28" y="409.58" font-size="4.35" text-anchor="middle" fill="#262626" textLength="9.46" lengthAdjust="spacingAndGlyphs" class="gp">0.21</text>
<text x="191.70" y="335.00" font-size="7.9" text-anchor="middle" fill="#111" stroke="#111" stroke-width="0.16"><tspan font-style="italic">trn</tspan><tspan>L-</tspan><tspan font-style="italic">trn</tspan><tspan>F</tspan></text>
<rect x="252.60" y="338.30" width="20.05" height="20.05" fill="#e0b5aa" stroke="#fff" stroke-width="0.45"/>
<text x="262.62" y="349.43" font-size="4.35" text-anchor="middle" fill="#262626" textLength="9.46" lengthAdjust="spacingAndGlyphs" class="gp">0.37</text>
<rect x="272.65" y="338.30" width="20.05" height="20.05" fill="#ebeff0" stroke="#fff" stroke-width="0.45"/>
<text x="282.67" y="349.43" font-size="4.35" text-anchor="middle" fill="#262626" textLength="14.08" lengthAdjust="spacingAndGlyphs" class="gp">-0.024</text>
<rect x="292.70" y="338.30" width="20.05" height="20.05" fill="#e2bbb1" stroke="#fff" stroke-width="0.45"/>
<text x="302.72" y="349.43" font-size="4.35" text-anchor="middle" fill="#262626" textLength="9.46" lengthAdjust="spacingAndGlyphs" class="gp">0.33</text>
<rect x="312.75" y="338.30" width="20.05" height="20.05" fill="#ecddda" stroke="#fff" stroke-width="0.45"/>
<text x="322.77" y="349.43" font-size="4.35" text-anchor="middle" fill="#262626" textLength="9.46" lengthAdjust="spacingAndGlyphs" class="gp">0.12</text>
<rect x="272.65" y="358.35" width="20.05" height="20.05" fill="#ebd7d2" stroke="#fff" stroke-width="0.45"/>
<text x="282.67" y="369.48" font-size="4.35" text-anchor="middle" fill="#262626" textLength="9.46" lengthAdjust="spacingAndGlyphs" class="gp">0.16</text>
<rect x="292.70" y="358.35" width="20.05" height="20.05" fill="#c45a3f" stroke="#fff" stroke-width="0.45"/>
<text x="302.72" y="369.48" font-size="4.35" text-anchor="middle" fill="#ffffff" textLength="9.46" lengthAdjust="spacingAndGlyphs" class="gp">0.92</text>
<rect x="312.75" y="358.35" width="20.05" height="20.05" fill="#e0b6ac" stroke="#fff" stroke-width="0.45"/>
<text x="322.77" y="369.48" font-size="4.35" text-anchor="middle" fill="#262626" textLength="9.46" lengthAdjust="spacingAndGlyphs" class="gp">0.36</text>
<rect x="292.70" y="378.40" width="20.05" height="20.05" fill="#daa294" stroke="#fff" stroke-width="0.45"/>
<text x="302.72" y="389.53" font-size="4.35" text-anchor="middle" fill="#262626" textLength="9.46" lengthAdjust="spacingAndGlyphs" class="gp">0.48</text>
<rect x="312.75" y="378.40" width="20.05" height="20.05" fill="#cddbe0" stroke="#fff" stroke-width="0.45"/>
<text x="322.77" y="389.53" font-size="4.35" text-anchor="middle" fill="#262626" textLength="11.37" lengthAdjust="spacingAndGlyphs" class="gp">-0.19</text>
<rect x="312.75" y="398.45" width="20.05" height="20.05" fill="#e5c6be" stroke="#fff" stroke-width="0.45"/>
<text x="322.77" y="409.58" font-size="4.35" text-anchor="middle" fill="#262626" textLength="9.46" lengthAdjust="spacingAndGlyphs" class="gp">0.26</text>
<text x="296.00" y="335.00" font-size="7.9" text-anchor="middle" fill="#111" stroke="#111" stroke-width="0.16"><tspan font-style="italic">trn</tspan><tspan>H-</tspan><tspan font-style="italic">psb</tspan><tspan>A</tspan></text>
<rect x="52.50" y="432.80" width="20.05" height="20.05" fill="#f0e8e7" stroke="#fff" stroke-width="0.45"/>
<text x="62.52" y="443.93" font-size="4.35" text-anchor="middle" fill="#262626" textLength="12.16" lengthAdjust="spacingAndGlyphs" class="gp">0.053</text>
<rect x="72.55" y="432.80" width="20.05" height="20.05" fill="#e5c5bd" stroke="#fff" stroke-width="0.45"/>
<text x="82.58" y="443.93" font-size="4.35" text-anchor="middle" fill="#262626" textLength="9.46" lengthAdjust="spacingAndGlyphs" class="gp">0.27</text>
<rect x="92.60" y="432.80" width="20.05" height="20.05" fill="#ecddda" stroke="#fff" stroke-width="0.45"/>
<text x="102.62" y="443.93" font-size="4.35" text-anchor="middle" fill="#262626" textLength="9.46" lengthAdjust="spacingAndGlyphs" class="gp">0.12</text>
<rect x="112.65" y="432.80" width="20.05" height="20.05" fill="#e2bbb1" stroke="#fff" stroke-width="0.45"/>
<text x="122.68" y="443.93" font-size="4.35" text-anchor="middle" fill="#262626" textLength="9.46" lengthAdjust="spacingAndGlyphs" class="gp">0.33</text>
<rect x="72.55" y="452.85" width="20.05" height="20.05" fill="#dca89a" stroke="#fff" stroke-width="0.45"/>
<text x="82.58" y="463.98" font-size="4.35" text-anchor="middle" fill="#262626" textLength="9.46" lengthAdjust="spacingAndGlyphs" class="gp">0.45</text>
<rect x="92.60" y="452.85" width="20.05" height="20.05" fill="#c66047" stroke="#fff" stroke-width="0.45"/>
<text x="102.62" y="463.98" font-size="4.35" text-anchor="middle" fill="#ffffff" textLength="9.46" lengthAdjust="spacingAndGlyphs" class="gp">0.88</text>
<rect x="112.65" y="452.85" width="20.05" height="20.05" fill="#d2dfe3" stroke="#fff" stroke-width="0.45"/>
<text x="122.68" y="463.98" font-size="4.35" text-anchor="middle" fill="#262626" textLength="11.37" lengthAdjust="spacingAndGlyphs" class="gp">-0.16</text>
<rect x="92.60" y="472.90" width="20.05" height="20.05" fill="#d79889" stroke="#fff" stroke-width="0.45"/>
<text x="102.62" y="484.03" font-size="4.35" text-anchor="middle" fill="#ffffff" textLength="9.46" lengthAdjust="spacingAndGlyphs" class="gp">0.54</text>
<rect x="112.65" y="472.90" width="20.05" height="20.05" fill="#eee1de" stroke="#fff" stroke-width="0.45"/>
<text x="122.68" y="484.03" font-size="4.35" text-anchor="middle" fill="#262626" textLength="12.16" lengthAdjust="spacingAndGlyphs" class="gp">0.098</text>
<rect x="112.65" y="492.95" width="20.05" height="20.05" fill="#ebeff0" stroke="#fff" stroke-width="0.45"/>
<text x="122.68" y="504.08" font-size="4.35" text-anchor="middle" fill="#262626" textLength="14.08" lengthAdjust="spacingAndGlyphs" class="gp">-0.023</text>
<text x="95.60" y="430.40" font-size="7.9" text-anchor="middle" fill="#111" stroke="#111" stroke-width="0.16">5S rRNA</text>
<text x="11.8" y="440.40" font-size="8.1" fill="#111" stroke="#111" stroke-width="0.16">Average</text>
<text x="11.8" y="448.40" font-size="8.1" fill="#111" stroke="#111" stroke-width="0.16">attention</text>
<text x="11.8" y="465.90" font-size="7.95" fill="#111" stroke="#111" stroke-width="0.16">Heterozygosity</text>
<text x="11.4" y="484.50" font-size="8.9" fill="#111" font-style="italic" stroke="#111" stroke-width="0.16">F</text>
<text x="16.6" y="487.10" font-size="4.9" fill="#111" stroke="#111" stroke-width="0.16">ST</text>
<text x="11.200000000000001" y="508.60" font-size="8.6" fill="#111" font-style="italic" stroke="#111" stroke-width="0.16">D</text>
<text x="17.0" y="511.40" font-size="4.9" fill="#111" font-style="italic" stroke="#111" stroke-width="0.16">XY</text>
<text transform="translate(64.20,521.60) rotate(-45)" font-size="8.0" text-anchor="end" fill="#111" stroke="#111" stroke-width="0.16">Heterozygosity</text>
<text transform="translate(77.20,527.60) rotate(-45)" font-size="8.0" fill="#111" stroke="#111" stroke-width="0.16">F</text>
<text transform="translate(82.20,527.00) rotate(-45)" font-size="4.8" fill="#111" stroke="#111" stroke-width="0.16">ST</text>
<text transform="translate(97.80,530.50) rotate(-45)" font-size="8.0" fill="#111" stroke="#111" stroke-width="0.16">D</text>
<text transform="translate(104.40,530.00) rotate(-45)" font-size="4.8" fill="#111" stroke="#111" stroke-width="0.16">XY</text>
<text transform="translate(131.20,524.20) rotate(-45)" font-size="8.0" text-anchor="end" fill="#111" stroke="#111" stroke-width="0.16">Substitution rate</text>
<rect x="151.10" y="432.80" width="20.05" height="20.05" fill="#ede0dd" stroke="#fff" stroke-width="0.45"/>
<text x="161.12" y="443.93" font-size="4.35" text-anchor="middle" fill="#262626" textLength="9.46" lengthAdjust="spacingAndGlyphs" class="gp">0.11</text>
<rect x="171.15" y="432.80" width="20.05" height="20.05" fill="#e3c0b7" stroke="#fff" stroke-width="0.45"/>
<text x="181.18" y="443.93" font-size="4.35" text-anchor="middle" fill="#262626" textLength="6.76" lengthAdjust="spacingAndGlyphs" class="gp">0.3</text>
<rect x="191.20" y="432.80" width="20.05" height="20.05" fill="#ead6d1" stroke="#fff" stroke-width="0.45"/>
<text x="201.22" y="443.93" font-size="4.35" text-anchor="middle" fill="#262626" textLength="9.46" lengthAdjust="spacingAndGlyphs" class="gp">0.17</text>
<rect x="211.25" y="432.80" width="20.05" height="20.05" fill="#f0e9e8" stroke="#fff" stroke-width="0.45"/>
<text x="221.28" y="443.93" font-size="4.35" text-anchor="middle" fill="#262626" textLength="12.16" lengthAdjust="spacingAndGlyphs" class="gp">0.046</text>
<rect x="171.15" y="452.85" width="20.05" height="20.05" fill="#f0e9e8" stroke="#fff" stroke-width="0.45"/>
<text x="181.18" y="463.98" font-size="4.35" text-anchor="middle" fill="#262626" textLength="12.16" lengthAdjust="spacingAndGlyphs" class="gp">0.045</text>
<rect x="191.20" y="452.85" width="20.05" height="20.05" fill="#c3573b" stroke="#fff" stroke-width="0.45"/>
<text x="201.22" y="463.98" font-size="4.35" text-anchor="middle" fill="#ffffff" textLength="9.46" lengthAdjust="spacingAndGlyphs" class="gp">0.94</text>
<rect x="211.25" y="452.85" width="20.05" height="20.05" fill="#dca89a" stroke="#fff" stroke-width="0.45"/>
<text x="221.28" y="463.98" font-size="4.35" text-anchor="middle" fill="#262626" textLength="9.46" lengthAdjust="spacingAndGlyphs" class="gp">0.45</text>
<rect x="191.20" y="472.90" width="20.05" height="20.05" fill="#eee1de" stroke="#fff" stroke-width="0.45"/>
<text x="201.22" y="484.03" font-size="4.35" text-anchor="middle" fill="#262626" textLength="12.16" lengthAdjust="spacingAndGlyphs" class="gp">0.098</text>
<rect x="211.25" y="472.90" width="20.05" height="20.05" fill="#f2eeee" stroke="#fff" stroke-width="0.45"/>
<text x="221.28" y="484.03" font-size="4.35" text-anchor="middle" fill="#262626" textLength="12.16" lengthAdjust="spacingAndGlyphs" class="gp">0.016</text>
<rect x="211.25" y="492.95" width="20.05" height="20.05" fill="#e0b5aa" stroke="#fff" stroke-width="0.45"/>
<text x="221.28" y="504.08" font-size="4.35" text-anchor="middle" fill="#262626" textLength="9.46" lengthAdjust="spacingAndGlyphs" class="gp">0.37</text>
<text x="191.70" y="430.40" font-size="7.9" text-anchor="middle" fill="#111" stroke="#111" stroke-width="0.16">28S rRNA</text>
<text transform="translate(164.80,523.10) rotate(-45)" font-size="8.0" text-anchor="end" fill="#111" stroke="#111" stroke-width="0.16">Heterozygosity</text>
<text transform="translate(174.40,532.00) rotate(-45)" font-size="8.0" fill="#111" stroke="#111" stroke-width="0.16">F</text>
<text transform="translate(179.30,531.00) rotate(-45)" font-size="4.8" fill="#111" stroke="#111" stroke-width="0.16">ST</text>
<text transform="translate(197.90,532.50) rotate(-45)" font-size="8.0" fill="#111" stroke="#111" stroke-width="0.16">D</text>
<text transform="translate(204.10,531.20) rotate(-45)" font-size="4.8" fill="#111" stroke="#111" stroke-width="0.16">XY</text>
<text transform="translate(226.80,525.20) rotate(-45)" font-size="8.0" text-anchor="end" fill="#111" stroke="#111" stroke-width="0.16">Substitution rate</text>
<rect x="252.60" y="432.80" width="20.05" height="20.05" fill="#eee2df" stroke="#fff" stroke-width="0.45"/>
<text x="262.62" y="443.93" font-size="4.35" text-anchor="middle" fill="#262626" textLength="9.46" lengthAdjust="spacingAndGlyphs" class="gp">0.09</text>
<rect x="272.65" y="432.80" width="20.05" height="20.05" fill="#f2eeee" stroke="#fff" stroke-width="0.45"/>
<text x="282.67" y="443.93" font-size="4.35" text-anchor="middle" fill="#262626" textLength="9.46" lengthAdjust="spacingAndGlyphs" class="gp">0.02</text>
<rect x="292.70" y="432.80" width="20.05" height="20.05" fill="#ecddda" stroke="#fff" stroke-width="0.45"/>
<text x="302.72" y="443.93" font-size="4.35" text-anchor="middle" fill="#262626" textLength="9.46" lengthAdjust="spacingAndGlyphs" class="gp">0.12</text>
<rect x="312.75" y="432.80" width="20.05" height="20.05" fill="#f2eeee" stroke="#fff" stroke-width="0.45"/>
<text x="322.77" y="443.93" font-size="4.35" text-anchor="middle" fill="#262626" textLength="12.16" lengthAdjust="spacingAndGlyphs" class="gp">0.019</text>
<rect x="272.65" y="452.85" width="20.05" height="20.05" fill="#efe6e4" stroke="#fff" stroke-width="0.45"/>
<text x="282.67" y="463.98" font-size="4.35" text-anchor="middle" fill="#262626" textLength="12.16" lengthAdjust="spacingAndGlyphs" class="gp">0.068</text>
<rect x="292.70" y="452.85" width="20.05" height="20.05" fill="#c3553a" stroke="#fff" stroke-width="0.45"/>
<text x="302.72" y="463.98" font-size="4.35" text-anchor="middle" fill="#ffffff" textLength="9.46" lengthAdjust="spacingAndGlyphs" class="gp">0.95</text>
<rect x="312.75" y="452.85" width="20.05" height="20.05" fill="#e3bfb6" stroke="#fff" stroke-width="0.45"/>
<text x="322.77" y="463.98" font-size="4.35" text-anchor="middle" fill="#262626" textLength="9.46" lengthAdjust="spacingAndGlyphs" class="gp">0.31</text>
<rect x="292.70" y="472.90" width="20.05" height="20.05" fill="#ecdbd7" stroke="#fff" stroke-width="0.45"/>
<text x="302.72" y="484.03" font-size="4.35" text-anchor="middle" fill="#262626" textLength="9.46" lengthAdjust="spacingAndGlyphs" class="gp">0.14</text>
<rect x="312.75" y="472.90" width="20.05" height="20.05" fill="#c7d8dd" stroke="#fff" stroke-width="0.45"/>
<text x="322.77" y="484.03" font-size="4.35" text-anchor="middle" fill="#262626" textLength="11.37" lengthAdjust="spacingAndGlyphs" class="gp">-0.22</text>
<rect x="312.75" y="492.95" width="20.05" height="20.05" fill="#e5c4bb" stroke="#fff" stroke-width="0.45"/>
<text x="322.77" y="504.08" font-size="4.35" text-anchor="middle" fill="#262626" textLength="9.46" lengthAdjust="spacingAndGlyphs" class="gp">0.28</text>
<text x="291.70" y="430.40" font-size="7.9" text-anchor="middle" fill="#111" stroke="#111" stroke-width="0.16">ITS</text>
<text transform="translate(263.30,523.90) rotate(-45)" font-size="8.0" text-anchor="end" fill="#111" stroke="#111" stroke-width="0.16">Heterozygosity</text>
<text transform="translate(273.80,533.10) rotate(-45)" font-size="8.0" fill="#111" stroke="#111" stroke-width="0.16">F</text>
<text transform="translate(278.30,532.00) rotate(-45)" font-size="4.8" fill="#111" stroke="#111" stroke-width="0.16">ST</text>
<text transform="translate(297.50,533.50) rotate(-45)" font-size="8.0" fill="#111" stroke="#111" stroke-width="0.16">D</text>
<text transform="translate(304.00,532.00) rotate(-45)" font-size="4.8" fill="#111" stroke="#111" stroke-width="0.16">XY</text>
<text transform="translate(332.80,525.20) rotate(-45)" font-size="8.0" text-anchor="end" fill="#111" stroke="#111" stroke-width="0.16">Substitution rate</text>
<defs><linearGradient id="gE" x1="0" y1="1" x2="0" y2="0">
<stop offset="0.000" stop-color="#88afbb"/>
<stop offset="0.100" stop-color="#a6c2cb"/>
<stop offset="0.200" stop-color="#c2d4da"/>
<stop offset="0.300" stop-color="#dde6e9"/>
<stop offset="0.400" stop-color="#f0e9e8"/>
<stop offset="0.500" stop-color="#e9d1cb"/>
<stop offset="0.600" stop-color="#e1b7ad"/>
<stop offset="0.700" stop-color="#d99f90"/>
<stop offset="0.800" stop-color="#d28673"/>
<stop offset="0.900" stop-color="#ca6e56"/>
<stop offset="1.000" stop-color="#c3553a"/>
</linearGradient></defs>
<rect x="339.0" y="378.5" width="4.5" height="133.3" fill="url(#gE)"/>
<line x1="343.5" y1="391.4" x2="345.0" y2="391.4" stroke="#555" stroke-width="0.5"/>
<line x1="343.5" y1="409.2" x2="345.0" y2="409.2" stroke="#555" stroke-width="0.5"/>
<line x1="343.5" y1="427.0" x2="345.0" y2="427.0" stroke="#555" stroke-width="0.5"/>
<line x1="343.5" y1="444.7" x2="345.0" y2="444.7" stroke="#555" stroke-width="0.5"/>
<line x1="343.5" y1="462.3" x2="345.0" y2="462.3" stroke="#555" stroke-width="0.5"/>
<line x1="343.5" y1="480.1" x2="345.0" y2="480.1" stroke="#555" stroke-width="0.5"/>
<line x1="343.5" y1="497.9" x2="345.0" y2="497.9" stroke="#555" stroke-width="0.5"/>
<rect x="414.60" y="12.6" width="8.90" height="8.5" fill="#e3f5b8"/>
<rect x="418.67" y="21.4" width="0.7" height="0.7" fill="#555"/>
<rect x="423.45" y="12.6" width="8.90" height="8.5" fill="#dcf1b2"/>
<rect x="427.52" y="21.4" width="0.7" height="0.7" fill="#555"/>
<rect x="432.29" y="12.6" width="8.90" height="8.5" fill="#5bbcc3"/>
<rect x="436.37" y="21.4" width="0.7" height="0.7" fill="#555"/>
<rect x="441.14" y="12.6" width="8.90" height="8.5" fill="#c8ebb8"/>
<rect x="445.21" y="21.4" width="0.7" height="0.7" fill="#555"/>
<rect x="449.99" y="12.6" width="8.90" height="8.5" fill="#e9f7b8"/>
<rect x="454.06" y="21.4" width="0.7" height="0.7" fill="#555"/>
<rect x="458.83" y="12.6" width="8.90" height="8.5" fill="#f4fad0"/>
<rect x="462.91" y="21.4" width="0.7" height="0.7" fill="#555"/>
<rect x="467.68" y="12.6" width="8.90" height="8.5" fill="#e8f6b6"/>
<rect x="471.75" y="21.4" width="0.7" height="0.7" fill="#555"/>
<rect x="476.53" y="12.6" width="8.90" height="8.5" fill="#e2f4b4"/>
<rect x="480.60" y="21.4" width="0.7" height="0.7" fill="#555"/>
<rect x="485.37" y="12.6" width="8.90" height="8.5" fill="#89d3c0"/>
<rect x="489.45" y="21.4" width="0.7" height="0.7" fill="#555"/>
<rect x="494.22" y="12.6" width="8.90" height="8.5" fill="#8cd4c0"/>
<rect x="498.29" y="21.4" width="0.7" height="0.7" fill="#555"/>
<rect x="503.07" y="12.6" width="8.90" height="8.5" fill="#90d5bf"/>
<rect x="507.14" y="21.4" width="0.7" height="0.7" fill="#555"/>
<rect x="511.91" y="12.6" width="8.90" height="8.5" fill="#dbf1b0"/>
<rect x="515.99" y="21.4" width="0.7" height="0.7" fill="#555"/>
<rect x="520.76" y="12.6" width="8.90" height="8.5" fill="#2a3e9c"/>
<rect x="524.83" y="21.4" width="0.7" height="0.7" fill="#555"/>
<rect x="529.61" y="12.6" width="8.90" height="8.5" fill="#3f80bb"/>
<rect x="533.68" y="21.4" width="0.7" height="0.7" fill="#555"/>
<rect x="538.45" y="12.6" width="8.90" height="8.5" fill="#e0f3b6"/>
<rect x="542.53" y="21.4" width="0.7" height="0.7" fill="#555"/>
<text x="414.70" y="28.2" font-size="6.4" fill="#e04848" stroke="#e04848" stroke-width="0.25" textLength="8.65" lengthAdjust="spacingAndGlyphs">TGT</text>
<text x="423.55" y="28.2" font-size="6.4" fill="#3fd5d8" stroke="#3fd5d8" stroke-width="0.25" textLength="8.65" lengthAdjust="spacingAndGlyphs">AAT</text>
<text x="432.39" y="28.2" font-size="6.4" fill="#eecb3a" stroke="#eecb3a" stroke-width="0.25" textLength="8.65" lengthAdjust="spacingAndGlyphs">TGG</text>
<text x="441.24" y="28.2" font-size="6.4" fill="#2a2a2a" stroke="#2a2a2a" stroke-width="0.25" textLength="8.65" lengthAdjust="spacingAndGlyphs">AAT</text>
<text x="450.09" y="28.2" font-size="6.4" fill="#e04848" stroke="#e04848" stroke-width="0.25" textLength="8.65" lengthAdjust="spacingAndGlyphs">TGT</text>
<text x="458.93" y="28.2" font-size="6.4" fill="#3fd5d8" stroke="#3fd5d8" stroke-width="0.25" textLength="8.65" lengthAdjust="spacingAndGlyphs">TTT</text>
<text x="467.78" y="28.2" font-size="6.4" fill="#eecb3a" stroke="#eecb3a" stroke-width="0.25" textLength="8.65" lengthAdjust="spacingAndGlyphs">ATT</text>
<text x="476.63" y="28.2" font-size="6.4" fill="#2a2a2a" stroke="#2a2a2a" stroke-width="0.25" textLength="8.65" lengthAdjust="spacingAndGlyphs">CCT</text>
<text x="485.47" y="28.2" font-size="6.4" fill="#e04848" stroke="#e04848" stroke-width="0.25" textLength="8.65" lengthAdjust="spacingAndGlyphs">ACC</text>
<text x="494.32" y="28.2" font-size="6.4" fill="#3fd5d8" stroke="#3fd5d8" stroke-width="0.25" textLength="8.65" lengthAdjust="spacingAndGlyphs">AAA</text>
<text x="503.17" y="28.2" font-size="6.4" fill="#eecb3a" stroke="#eecb3a" stroke-width="0.25" textLength="8.65" lengthAdjust="spacingAndGlyphs">AAA</text>
<text x="512.01" y="28.2" font-size="6.4" fill="#2a2a2a" stroke="#2a2a2a" stroke-width="0.25" textLength="8.65" lengthAdjust="spacingAndGlyphs">TCG</text>
<text x="520.86" y="28.2" font-size="6.4" fill="#e04848" stroke="#e04848" stroke-width="0.25" textLength="8.65" lengthAdjust="spacingAndGlyphs">ATT</text>
<text x="529.71" y="28.2" font-size="6.4" fill="#3fd5d8" stroke="#3fd5d8" stroke-width="0.25" textLength="8.65" lengthAdjust="spacingAndGlyphs">TCT</text>
<text x="538.55" y="28.2" font-size="6.4" fill="#eecb3a" stroke="#eecb3a" stroke-width="0.25" textLength="8.65" lengthAdjust="spacingAndGlyphs">ACT</text>
<path d="M415.5,29.3 Q450,31.5 486,33.6" fill="none" stroke="#999" stroke-width="0.55" stroke-dasharray="0.7,1.1"/>
<path d="M490,33.6 Q520,32 547.5,29.6" fill="none" stroke="#999" stroke-width="0.55" stroke-dasharray="0.7,1.1"/>
<rect x="485.8" y="33.5" width="4.2" height="1.4" fill="#222"/>
<rect x="391.8" y="36.0" width="268.0" height="112.8" fill="#f1fbad"/>
<rect x="558.7" y="36.0" width="0.66" height="112.8" fill="#eaf7aa" opacity="0.45"/>
<rect x="451.9" y="36.0" width="0.42" height="112.8" fill="#e5f4a9" opacity="0.45"/>
<rect x="625.0" y="36.0" width="0.30" height="112.8" fill="#eaf7aa" opacity="0.45"/>
<rect x="604.6" y="36.0" width="0.49" height="112.8" fill="#e5f4a9" opacity="0.45"/>
<rect x="472.7" y="36.0" width="0.41" height="112.8" fill="#e5f4a9" opacity="0.45"/>
<rect x="510.6" y="36.0" width="0.50" height="112.8" fill="#e8f6a9" opacity="0.45"/>
<rect x="539.6" y="36.0" width="0.70" height="112.8" fill="#e5f4a9" opacity="0.45"/>
<rect x="557.9" y="36.0" width="0.70" height="112.8" fill="#e5f4a9" opacity="0.45"/>
<rect x="449.3" y="36.0" width="0.36" height="112.8" fill="#e5f4a9" opacity="0.45"/>
<rect x="403.5" y="36.0" width="0.31" height="112.8" fill="#eaf7aa" opacity="0.45"/>
<rect x="529.3" y="36.0" width="0.49" height="112.8" fill="#e5f4a9" opacity="0.45"/>
<rect x="559.8" y="36.0" width="0.51" height="112.8" fill="#e5f4a9" opacity="0.45"/>
<rect x="524.5" y="36.0" width="0.40" height="112.8" fill="#e5f4a9" opacity="0.45"/>
<rect x="443.2" y="36.0" width="0.58" height="112.8" fill="#e8f6a9" opacity="0.45"/>
<rect x="445.4" y="36.0" width="0.45" height="112.8" fill="#eaf7aa" opacity="0.45"/>
<rect x="613.4" y="36.0" width="0.36" height="112.8" fill="#e8f6a9" opacity="0.45"/>
<rect x="463.2" y="36.0" width="0.65" height="112.8" fill="#e8f6a9" opacity="0.45"/>
<rect x="618.0" y="36.0" width="0.56" height="112.8" fill="#eaf7aa" opacity="0.45"/>
<rect x="589.9" y="36.0" width="0.34" height="112.8" fill="#e8f6a9" opacity="0.45"/>
<rect x="527.4" y="36.0" width="0.65" height="112.8" fill="#eaf7aa" opacity="0.45"/>
<rect x="488.3" y="36.0" width="0.54" height="112.8" fill="#e8f6a9" opacity="0.45"/>
<rect x="495.3" y="36.0" width="0.43" height="112.8" fill="#e8f6a9" opacity="0.45"/>
<rect x="431.9" y="36.0" width="0.63" height="112.8" fill="#eaf7aa" opacity="0.45"/>
<rect x="653.1" y="36.0" width="0.54" height="112.8" fill="#eaf7aa" opacity="0.45"/>
<rect x="553.4" y="36.0" width="0.56" height="112.8" fill="#eaf7aa" opacity="0.45"/>
<rect x="432.1" y="36.0" width="0.48" height="112.8" fill="#e5f4a9" opacity="0.45"/>
<rect x="455.8" y="36.0" width="0.46" height="112.8" fill="#e5f4a9" opacity="0.45"/>
<rect x="650.2" y="36.0" width="0.39" height="112.8" fill="#e8f6a9" opacity="0.45"/>
<rect x="571.2" y="36.0" width="0.42" height="112.8" fill="#eaf7aa" opacity="0.45"/>
<rect x="568.6" y="36.0" width="0.35" height="112.8" fill="#e5f4a9" opacity="0.45"/>
<rect x="617.4" y="36.0" width="0.68" height="112.8" fill="#eaf7aa" opacity="0.45"/>
<rect x="543.9" y="36.0" width="0.36" height="112.8" fill="#e5f4a9" opacity="0.45"/>
<rect x="443.2" y="36.0" width="0.67" height="112.8" fill="#e8f6a9" opacity="0.45"/>
<rect x="440.0" y="36.0" width="0.65" height="112.8" fill="#eaf7aa" opacity="0.45"/>
<rect x="563.1" y="36.0" width="0.53" height="112.8" fill="#e8f6a9" opacity="0.45"/>
<rect x="501.5" y="36.0" width="0.40" height="112.8" fill="#eaf7aa" opacity="0.45"/>
<rect x="402.0" y="36.0" width="0.65" height="112.8" fill="#eaf7aa" opacity="0.45"/>
<rect x="538.0" y="36.0" width="0.43" height="112.8" fill="#eaf7aa" opacity="0.45"/>
<rect x="592.4" y="36.0" width="0.31" height="112.8" fill="#e5f4a9" opacity="0.45"/>
<rect x="399.9" y="36.0" width="0.35" height="112.8" fill="#eaf7aa" opacity="0.45"/>
<rect x="519.0" y="36.0" width="0.8" height="112.8" fill="#e0f1a7" opacity="0.8"/>
<rect x="541.9" y="36.0" width="0.8" height="112.8" fill="#e0f1a7" opacity="0.8"/>
<rect x="561.6" y="36.0" width="0.8" height="112.8" fill="#e0f1a7" opacity="0.8"/>
<rect x="594.0" y="36.0" width="0.8" height="112.8" fill="#e0f1a7" opacity="0.8"/>
<rect x="530.0" y="36.0" width="0.8" height="112.8" fill="#e0f1a7" opacity="0.8"/>
<rect x="550.0" y="36.0" width="0.8" height="112.8" fill="#e0f1a7" opacity="0.8"/>
<rect x="468.8" y="41.0" width="7.4" height="106.8" fill="#e6f4a8"/>
<rect x="476.8" y="41.0" width="3.7" height="106.8" fill="#dcf0a6"/>
<rect x="485.5" y="41.0" width="0.9" height="106.8" fill="#dcefa5"/>
<rect x="487.6" y="41.0" width="0.8" height="106.8" fill="#dcefa5"/>
<rect x="495.0" y="41.0" width="0.8" height="106.8" fill="#dcefa5"/>
<rect x="464.5" y="41.0" width="0.8" height="106.8" fill="#e0f1a6"/>
<rect x="471.0" y="41.0" width="0.8" height="106.8" fill="#d8eea4"/>
<rect x="473.5" y="41.0" width="0.7" height="106.8" fill="#d8eea4"/>
<rect x="490.5" y="41.0" width="0.7" height="106.8" fill="#e0f1a6"/>
<rect x="497.9" y="98.4" width="0.84" height="20.6" fill="#d4eca2" opacity="0.8"/>
<rect x="476.7" y="92.4" width="0.58" height="29.2" fill="#cfe9a2" opacity="0.8"/>
<rect x="482.6" y="108.0" width="0.87" height="36.9" fill="#daeea6" opacity="0.8"/>
<rect x="465.2" y="106.9" width="0.47" height="33.6" fill="#d4eca2" opacity="0.8"/>
<rect x="479.2" y="112.4" width="0.80" height="6.5" fill="#daeea6" opacity="0.8"/>
<rect x="482.4" y="104.5" width="0.50" height="13.7" fill="#cfe9a2" opacity="0.8"/>
<rect x="477.3" y="55.9" width="0.69" height="17.8" fill="#d4eca2" opacity="0.8"/>
<rect x="476.6" y="64.1" width="0.62" height="38.4" fill="#daeea6" opacity="0.8"/>
<rect x="498.3" y="85.8" width="0.77" height="23.7" fill="#daeea6" opacity="0.8"/>
<rect x="484.7" y="77.9" width="0.61" height="35.9" fill="#daeea6" opacity="0.8"/>
<rect x="496.4" y="46.1" width="0.88" height="20.6" fill="#d4eca2" opacity="0.8"/>
<rect x="473.5" y="111.6" width="0.76" height="29.0" fill="#cfe9a2" opacity="0.8"/>
<rect x="486.4" y="126.3" width="0.50" height="17.3" fill="#cfe9a2" opacity="0.8"/>
<rect x="466.7" y="58.9" width="0.82" height="37.1" fill="#cfe9a2" opacity="0.8"/>
<rect x="468.8" y="93.6" width="0.73" height="22.3" fill="#d4eca2" opacity="0.8"/>
<rect x="475.4" y="125.4" width="0.71" height="21.8" fill="#cfe9a2" opacity="0.8"/>
<rect x="486.6" y="56.3" width="0.78" height="8.1" fill="#daeea6" opacity="0.8"/>
<rect x="492.7" y="104.8" width="0.86" height="9.8" fill="#cfe9a2" opacity="0.8"/>
<rect x="492.3" y="117.9" width="0.42" height="23.8" fill="#daeea6" opacity="0.8"/>
<rect x="466.0" y="41.8" width="0.52" height="14.6" fill="#daeea6" opacity="0.8"/>
<rect x="471.4" y="90.4" width="0.48" height="7.3" fill="#d4eca2" opacity="0.8"/>
<rect x="488.0" y="41.9" width="0.87" height="16.6" fill="#cfe9a2" opacity="0.8"/>
<rect x="483.3" y="112.1" width="0.50" height="28.4" fill="#d4eca2" opacity="0.8"/>
<rect x="484.5" y="43.5" width="0.88" height="33.3" fill="#cfe9a2" opacity="0.8"/>
<rect x="494.0" y="44.5" width="0.46" height="17.5" fill="#daeea6" opacity="0.8"/>
<rect x="486.3" y="110.8" width="0.83" height="16.7" fill="#d4eca2" opacity="0.8"/>
<rect x="492.1" y="51.5" width="0.50" height="32.1" fill="#daeea6" opacity="0.8"/>
<rect x="484.5" y="96.7" width="0.45" height="26.7" fill="#daeea6" opacity="0.8"/>
<rect x="487.5" y="96.1" width="0.56" height="34.0" fill="#daeea6" opacity="0.8"/>
<rect x="489.5" y="117.0" width="0.48" height="31.8" fill="#daeea6" opacity="0.8"/>
<rect x="465.9" y="97.8" width="0.87" height="13.3" fill="#d4eca2" opacity="0.8"/>
<rect x="477.9" y="62.4" width="0.73" height="21.5" fill="#cfe9a2" opacity="0.8"/>
<rect x="468.4" y="73.8" width="0.82" height="10.5" fill="#d4eca2" opacity="0.8"/>
<rect x="477.8" y="73.0" width="0.51" height="24.3" fill="#cfe9a2" opacity="0.8"/>
<rect x="473.4" y="69.3" width="0.78" height="21.6" fill="#cfe9a2" opacity="0.8"/>
<rect x="484.7" y="66.6" width="0.78" height="8.6" fill="#d4eca2" opacity="0.8"/>
<rect x="469.5" y="51.8" width="0.85" height="10.4" fill="#cfe9a2" opacity="0.8"/>
<rect x="474.2" y="67.2" width="0.71" height="34.3" fill="#d4eca2" opacity="0.8"/>
<rect x="471.4" y="78.6" width="0.76" height="36.1" fill="#daeea6" opacity="0.8"/>
<rect x="468.3" y="104.6" width="0.81" height="32.4" fill="#cfe9a2" opacity="0.8"/>
<rect x="487.9" y="72.9" width="0.78" height="8.2" fill="#d4eca2" opacity="0.8"/>
<rect x="471.5" y="63.6" width="0.77" height="24.2" fill="#cfe9a2" opacity="0.8"/>
<rect x="495.5" y="51.2" width="0.72" height="12.3" fill="#d4eca2" opacity="0.8"/>
<rect x="489.5" y="128.5" width="0.82" height="20.3" fill="#daeea6" opacity="0.8"/>
<rect x="491.4" y="75.1" width="0.78" height="27.8" fill="#d4eca2" opacity="0.8"/>
<rect x="490.8" y="104.1" width="0.59" height="21.1" fill="#d4eca2" opacity="0.8"/>
<rect x="479.3" y="43.0" width="0.59" height="34.7" fill="#cfe9a2" opacity="0.8"/>
<rect x="483.6" y="104.1" width="0.82" height="19.0" fill="#cfe9a2" opacity="0.8"/>
<rect x="496.3" y="74.4" width="0.90" height="10.7" fill="#d4eca2" opacity="0.8"/>
<rect x="470.0" y="103.3" width="0.86" height="34.1" fill="#daeea6" opacity="0.8"/>
<rect x="466.7" y="47.2" width="0.7" height="0.7" fill="#dbf0a8"/>
<rect x="468.7" y="100.7" width="0.7" height="1.0" fill="#c4e5aa"/>
<rect x="490.5" y="58.1" width="0.7" height="0.8" fill="#d0eba6"/>
<rect x="491.2" y="44.5" width="0.7" height="1.1" fill="#c4e5aa"/>
<rect x="463.2" y="71.8" width="0.7" height="1.3" fill="#d0eba6"/>
<rect x="479.3" y="43.3" width="0.7" height="1.6" fill="#d0eba6"/>
<rect x="495.8" y="138.5" width="0.7" height="1.0" fill="#dbf0a8"/>
<rect x="470.6" y="50.8" width="0.7" height="0.6" fill="#d6eea6"/>
<rect x="481.1" y="50.6" width="0.7" height="1.5" fill="#d6eea6"/>
<rect x="480.4" y="57.4" width="0.7" height="1.3" fill="#d6eea6"/>
<rect x="472.1" y="95.4" width="0.7" height="1.1" fill="#c4e5aa"/>
<rect x="485.9" y="96.4" width="0.7" height="1.0" fill="#d0eba6"/>
<rect x="492.1" y="133.8" width="0.7" height="0.7" fill="#d0eba6"/>
<rect x="466.3" y="145.5" width="0.7" height="1.5" fill="#d6eea6"/>
<rect x="470.8" y="144.5" width="0.7" height="1.1" fill="#c4e5aa"/>
<rect x="480.9" y="138.4" width="0.7" height="0.6" fill="#d6eea6"/>
<rect x="474.0" y="103.5" width="0.7" height="0.8" fill="#c4e5aa"/>
<rect x="479.7" y="134.6" width="0.7" height="1.4" fill="#d6eea6"/>
<rect x="493.5" y="121.3" width="0.7" height="1.4" fill="#c4e5aa"/>
<rect x="487.9" y="118.5" width="0.7" height="0.9" fill="#dbf0a8"/>
<rect x="468.4" y="120.8" width="0.7" height="1.5" fill="#c4e5aa"/>
<rect x="484.7" y="73.5" width="0.7" height="1.5" fill="#d6eea6"/>
<rect x="467.9" y="94.0" width="0.7" height="1.6" fill="#d0eba6"/>
<rect x="483.9" y="126.0" width="0.7" height="0.9" fill="#d6eea6"/>
<rect x="492.5" y="114.9" width="0.7" height="1.6" fill="#c4e5aa"/>
<rect x="478.5" y="83.0" width="0.7" height="1.3" fill="#dbf0a8"/>
<rect x="493.7" y="74.1" width="0.7" height="0.8" fill="#d0eba6"/>
<rect x="483.0" y="122.2" width="0.7" height="0.7" fill="#dbf0a8"/>
<rect x="489.7" y="38.7" width="0.7" height="1.1" fill="#dbf0a8"/>
<rect x="477.5" y="116.8" width="0.7" height="1.1" fill="#c4e5aa"/>
<rect x="489.8" y="46.4" width="0.7" height="1.2" fill="#c4e5aa"/>
<rect x="497.4" y="41.4" width="0.7" height="1.1" fill="#dbf0a8"/>
<rect x="486.0" y="98.0" width="0.7" height="1.2" fill="#c4e5aa"/>
<rect x="470.4" y="58.7" width="0.7" height="1.5" fill="#d6eea6"/>
<rect x="469.5" y="87.3" width="0.7" height="1.3" fill="#c4e5aa"/>
<rect x="483.0" y="126.4" width="0.7" height="1.1" fill="#c4e5aa"/>
<rect x="485.6" y="127.7" width="0.7" height="1.2" fill="#d0eba6"/>
<rect x="477.4" y="98.9" width="0.7" height="1.0" fill="#dbf0a8"/>
<rect x="490.3" y="79.2" width="0.7" height="1.4" fill="#d0eba6"/>
<rect x="481.1" y="74.5" width="0.7" height="1.4" fill="#d0eba6"/>
<rect x="476.5" y="130.6" width="0.7" height="1.0" fill="#d6eea6"/>
<rect x="489.1" y="40.8" width="0.7" height="1.0" fill="#c4e5aa"/>
<rect x="494.7" y="101.2" width="0.7" height="1.3" fill="#d0eba6"/>
<rect x="487.8" y="101.7" width="0.7" height="1.0" fill="#dbf0a8"/>
<rect x="469.0" y="69.4" width="0.7" height="1.0" fill="#dbf0a8"/>
<rect x="500.0" y="76.1" width="0.7" height="1.0" fill="#d0eba6"/>
<rect x="476.1" y="101.4" width="0.7" height="1.5" fill="#c4e5aa"/>
<rect x="476.3" y="66.6" width="0.7" height="1.5" fill="#c4e5aa"/>
<rect x="480.8" y="113.0" width="0.7" height="1.5" fill="#d6eea6"/>
<rect x="473.9" y="91.8" width="0.7" height="0.8" fill="#d6eea6"/>
<rect x="478.0" y="128.7" width="0.7" height="1.1" fill="#d0eba6"/>
<rect x="491.2" y="87.8" width="0.7" height="1.0" fill="#c4e5aa"/>
<rect x="482.7" y="59.3" width="0.7" height="1.3" fill="#dbf0a8"/>
<rect x="491.3" y="43.3" width="0.7" height="1.3" fill="#d0eba6"/>
<rect x="493.1" y="86.3" width="0.7" height="1.3" fill="#d6eea6"/>
<rect x="471.4" y="108.3" width="0.7" height="1.0" fill="#d6eea6"/>
<rect x="486.2" y="65.6" width="0.7" height="1.1" fill="#d0eba6"/>
<rect x="486.0" y="59.5" width="0.7" height="1.6" fill="#d0eba6"/>
<rect x="473.0" y="70.9" width="0.7" height="0.7" fill="#d6eea6"/>
<rect x="478.1" y="122.5" width="0.7" height="1.3" fill="#d0eba6"/>
<rect x="469.4" y="52.2" width="0.7" height="1.4" fill="#d6eea6"/>
<rect x="480.5" y="139.3" width="0.7" height="1.3" fill="#d0eba6"/>
<rect x="485.6" y="122.1" width="0.7" height="0.9" fill="#d0eba6"/>
<rect x="471.8" y="85.5" width="0.7" height="1.1" fill="#c4e5aa"/>
<rect x="467.4" y="85.9" width="0.7" height="0.7" fill="#d6eea6"/>
<rect x="467.2" y="56.2" width="0.7" height="0.9" fill="#dbf0a8"/>
<rect x="498.5" y="39.9" width="0.7" height="0.8" fill="#d6eea6"/>
<rect x="480.0" y="38.7" width="0.7" height="1.1" fill="#d6eea6"/>
<rect x="468.2" y="66.9" width="0.7" height="0.8" fill="#c4e5aa"/>
<rect x="485.5" y="82.0" width="0.7" height="1.0" fill="#c4e5aa"/>
<rect x="493.0" y="54.8" width="0.7" height="1.5" fill="#dbf0a8"/>
<rect x="487.4" y="42.5" width="0.7" height="1.3" fill="#c4e5aa"/>
<rect x="484.8" y="122.6" width="0.7" height="1.6" fill="#c4e5aa"/>
<rect x="495.7" y="49.7" width="0.7" height="0.9" fill="#d6eea6"/>
<rect x="463.2" y="129.1" width="0.7" height="1.6" fill="#dbf0a8"/>
<rect x="485.3" y="110.8" width="0.7" height="1.3" fill="#c4e5aa"/>
<rect x="483.7" y="142.5" width="0.7" height="0.9" fill="#c4e5aa"/>
<rect x="481.5" y="39.1" width="0.7" height="1.3" fill="#dbf0a8"/>
<rect x="488.4" y="83.7" width="0.7" height="1.4" fill="#dbf0a8"/>
<rect x="474.8" y="45.6" width="0.7" height="0.7" fill="#c4e5aa"/>
<rect x="469.0" y="70.7" width="0.7" height="1.5" fill="#c4e5aa"/>
<rect x="472.6" y="136.6" width="0.7" height="1.3" fill="#d0eba6"/>
<rect x="494.4" y="81.7" width="0.7" height="1.4" fill="#d0eba6"/>
<rect x="471.3" y="52.8" width="0.7" height="1.4" fill="#d6eea6"/>
<rect x="488.1" y="60.5" width="0.7" height="1.5" fill="#d6eea6"/>
<rect x="472.2" y="114.8" width="0.7" height="0.7" fill="#d0eba6"/>
<rect x="493.0" y="50.0" width="0.7" height="0.6" fill="#c4e5aa"/>
<rect x="482.9" y="130.8" width="0.7" height="0.7" fill="#dbf0a8"/>
<rect x="472.4" y="121.7" width="0.7" height="0.9" fill="#c4e5aa"/>
<rect x="485.9" y="87.4" width="0.7" height="1.5" fill="#dbf0a8"/>
<rect x="470.7" y="121.0" width="0.7" height="1.3" fill="#c4e5aa"/>
<rect x="493.4" y="117.3" width="0.7" height="1.3" fill="#dbf0a8"/>
<rect x="495.9" y="39.9" width="0.7" height="1.3" fill="#d0eba6"/>
<rect x="447.3" y="118.0" width="0.7" height="0.9" fill="#c4e5aa"/>
<rect x="517.6" y="132.3" width="0.7" height="0.9" fill="#d0eba6"/>
<rect x="474.1" y="45.5" width="0.7" height="0.8" fill="#d0eba6"/>
<rect x="464.9" y="56.2" width="0.7" height="1.1" fill="#dbf0a8"/>
<rect x="449.8" y="118.9" width="0.7" height="1.5" fill="#d6eea6"/>
<rect x="465.4" y="100.4" width="0.7" height="0.7" fill="#dbf0a8"/>
<rect x="426.0" y="135.0" width="0.7" height="1.1" fill="#dbf0a8"/>
<rect x="606.8" y="44.4" width="0.7" height="1.5" fill="#c4e5aa"/>
<rect x="623.4" y="37.6" width="0.7" height="1.1" fill="#dbf0a8"/>
<rect x="491.0" y="121.2" width="0.7" height="0.9" fill="#c4e5aa"/>
<rect x="609.0" y="89.0" width="0.7" height="1.1" fill="#d6eea6"/>
<rect x="650.4" y="72.4" width="0.7" height="1.0" fill="#d0eba6"/>
<rect x="433.6" y="46.1" width="0.7" height="1.2" fill="#d6eea6"/>
<rect x="646.5" y="101.2" width="0.7" height="0.9" fill="#dbf0a8"/>
<rect x="544.7" y="120.3" width="0.7" height="1.2" fill="#dbf0a8"/>
<rect x="606.3" y="98.0" width="0.7" height="1.2" fill="#d0eba6"/>
<rect x="523.4" y="55.4" width="0.7" height="1.2" fill="#d6eea6"/>
<rect x="610.1" y="52.0" width="0.7" height="1.3" fill="#c4e5aa"/>
<rect x="500.0" y="66.9" width="0.7" height="1.0" fill="#dbf0a8"/>
<rect x="536.9" y="113.1" width="0.7" height="0.7" fill="#d6eea6"/>
<rect x="610.4" y="139.4" width="0.7" height="0.7" fill="#dbf0a8"/>
<rect x="459.2" y="56.2" width="0.7" height="1.5" fill="#dbf0a8"/>
<rect x="404.6" y="73.8" width="0.7" height="0.8" fill="#c4e5aa"/>
<rect x="517.7" y="139.1" width="0.7" height="0.8" fill="#c4e5aa"/>
<rect x="522.3" y="95.1" width="0.7" height="1.3" fill="#d6eea6"/>
<rect x="509.2" y="52.6" width="0.7" height="1.6" fill="#c4e5aa"/>
<rect x="592.5" y="49.9" width="0.7" height="1.4" fill="#d0eba6"/>
<rect x="475.5" y="123.6" width="0.7" height="1.5" fill="#d0eba6"/>
<rect x="436.0" y="87.5" width="0.7" height="1.3" fill="#d6eea6"/>
<rect x="527.9" y="55.3" width="0.7" height="0.9" fill="#d0eba6"/>
<rect x="406.7" y="61.0" width="0.7" height="0.7" fill="#d6eea6"/>
<rect x="516.4" y="76.5" width="0.7" height="0.9" fill="#d0eba6"/>
<rect x="401.8" y="73.7" width="0.7" height="1.4" fill="#dbf0a8"/>
<rect x="460.9" y="81.8" width="0.7" height="1.0" fill="#d0eba6"/>
<rect x="628.8" y="138.7" width="0.7" height="0.9" fill="#c4e5aa"/>
<rect x="588.6" y="65.0" width="0.7" height="1.0" fill="#d0eba6"/>
<rect x="553.1" y="140.7" width="0.7" height="0.7" fill="#d6eea6"/>
<rect x="582.3" y="89.7" width="0.7" height="1.6" fill="#c4e5aa"/>
<rect x="577.9" y="51.3" width="0.7" height="1.5" fill="#d6eea6"/>
<rect x="420.2" y="47.3" width="0.7" height="1.5" fill="#c4e5aa"/>
<rect x="401.6" y="138.7" width="0.7" height="1.2" fill="#d0eba6"/>
<rect x="410.6" y="100.0" width="0.7" height="1.2" fill="#c4e5aa"/>
<rect x="588.9" y="112.2" width="0.7" height="1.6" fill="#d0eba6"/>
<rect x="434.5" y="127.1" width="0.7" height="1.4" fill="#d0eba6"/>
<rect x="630.0" y="146.9" width="0.7" height="0.9" fill="#d0eba6"/>
<rect x="513.3" y="141.5" width="0.7" height="1.0" fill="#d0eba6"/>
<rect x="642.9" y="82.0" width="0.7" height="1.0" fill="#c4e5aa"/>
<rect x="594.1" y="89.2" width="0.7" height="1.0" fill="#d0eba6"/>
<rect x="507.9" y="52.5" width="0.7" height="0.7" fill="#d0eba6"/>
<rect x="593.4" y="99.5" width="0.7" height="1.4" fill="#d0eba6"/>
<rect x="454.0" y="62.9" width="0.7" height="0.9" fill="#dbf0a8"/>
<rect x="473.6" y="121.3" width="0.7" height="0.9" fill="#dbf0a8"/>
<rect x="562.1" y="57.7" width="0.7" height="0.7" fill="#d0eba6"/>
<rect x="578.2" y="120.8" width="0.7" height="1.2" fill="#d0eba6"/>
<rect x="401.9" y="81.8" width="0.7" height="1.2" fill="#d0eba6"/>
<rect x="460.2" y="75.6" width="0.7" height="1.2" fill="#c4e5aa"/>
<rect x="433.8" y="115.3" width="0.7" height="0.7" fill="#dbf0a8"/>
<rect x="650.7" y="59.4" width="0.7" height="0.8" fill="#dbf0a8"/>
<rect x="656.5" y="68.8" width="0.7" height="1.2" fill="#d0eba6"/>
<rect x="656.3" y="142.3" width="0.7" height="1.1" fill="#c4e5aa"/>
<rect x="552.7" y="114.8" width="0.7" height="0.9" fill="#d6eea6"/>
<rect x="480.0" y="37.5" width="0.7" height="1.2" fill="#d0eba6"/>
<rect x="413.0" y="59.4" width="0.7" height="0.9" fill="#d6eea6"/>
<rect x="411.5" y="40.4" width="0.7" height="1.0" fill="#d6eea6"/>
<rect x="447.3" y="115.5" width="0.7" height="0.6" fill="#c4e5aa"/>
<rect x="458.0" y="143.5" width="0.7" height="1.2" fill="#dbf0a8"/>
<rect x="417.6" y="72.2" width="0.7" height="0.6" fill="#c4e5aa"/>
<rect x="451.1" y="39.8" width="0.7" height="1.2" fill="#d6eea6"/>
<rect x="419.5" y="54.3" width="0.7" height="1.5" fill="#d6eea6"/>
<rect x="482.0" y="73.9" width="0.7" height="1.4" fill="#d6eea6"/>
<rect x="572.7" y="97.6" width="0.7" height="1.2" fill="#d6eea6"/>
<rect x="419.5" y="65.8" width="0.7" height="1.6" fill="#d6eea6"/>
<rect x="610.2" y="108.0" width="0.7" height="1.1" fill="#dbf0a8"/>
<rect x="396.8" y="135.7" width="0.7" height="0.7" fill="#d0eba6"/>
<rect x="577.2" y="127.0" width="0.7" height="1.4" fill="#d6eea6"/>
<rect x="513.1" y="56.6" width="0.7" height="1.5" fill="#dbf0a8"/>
<rect x="652.9" y="64.1" width="0.7" height="1.5" fill="#d6eea6"/>
<rect x="499.9" y="71.5" width="0.7" height="0.6" fill="#d0eba6"/>
<rect x="510.6" y="59.1" width="0.7" height="1.3" fill="#dbf0a8"/>
<rect x="526.5" y="133.3" width="0.7" height="0.9" fill="#c4e5aa"/>
<rect x="467.4" y="141.1" width="0.7" height="1.1" fill="#c4e5aa"/>
<rect x="418.5" y="42.1" width="0.7" height="1.2" fill="#d0eba6"/>
<rect x="407.3" y="93.6" width="0.7" height="1.1" fill="#c4e5aa"/>
<rect x="508.6" y="142.4" width="0.7" height="0.7" fill="#d0eba6"/>
<rect x="433.2" y="82.1" width="0.7" height="1.4" fill="#c4e5aa"/>
<rect x="558.7" y="117.9" width="0.7" height="0.8" fill="#c4e5aa"/>
<rect x="610.3" y="38.6" width="0.7" height="1.3" fill="#dbf0a8"/>
<rect x="444.5" y="89.2" width="0.7" height="1.1" fill="#d0eba6"/>
<rect x="407.9" y="84.5" width="0.7" height="1.3" fill="#c4e5aa"/>
<rect x="407.9" y="65.0" width="0.7" height="1.1" fill="#dbf0a8"/>
<rect x="494.3" y="92.8" width="0.7" height="0.9" fill="#d6eea6"/>
<rect x="567.5" y="56.2" width="0.7" height="1.6" fill="#dbf0a8"/>
<rect x="523.9" y="88.6" width="0.7" height="1.5" fill="#c4e5aa"/>
<rect x="469.9" y="126.0" width="0.7" height="1.3" fill="#dbf0a8"/>
<rect x="481.6" y="103.8" width="0.7" height="1.5" fill="#d0eba6"/>
<rect x="407.3" y="126.4" width="0.7" height="1.0" fill="#dbf0a8"/>
<rect x="486.0" y="44.7" width="0.7" height="0.9" fill="#dbf0a8"/>
<rect x="558.6" y="47.8" width="0.7" height="1.6" fill="#dbf0a8"/>
<rect x="653.7" y="135.5" width="0.7" height="1.4" fill="#dbf0a8"/>
<rect x="440.1" y="144.5" width="0.7" height="1.5" fill="#d0eba6"/>
<rect x="626.3" y="105.9" width="0.7" height="1.1" fill="#d6eea6"/>
<rect x="446.1" y="94.6" width="0.7" height="0.7" fill="#c4e5aa"/>
<rect x="426.9" y="125.8" width="0.7" height="1.5" fill="#d0eba6"/>
<rect x="430.5" y="38.5" width="0.7" height="0.7" fill="#d0eba6"/>
<rect x="443.0" y="101.6" width="0.7" height="1.0" fill="#d0eba6"/>
<rect x="507.0" y="59.8" width="0.7" height="0.9" fill="#c4e5aa"/>
<rect x="499.0" y="88.3" width="0.7" height="1.5" fill="#dbf0a8"/>
<rect x="458.3" y="116.6" width="0.7" height="1.5" fill="#d0eba6"/>
<rect x="497.6" y="93.0" width="0.7" height="1.5" fill="#d0eba6"/>
<rect x="571.8" y="47.5" width="0.7" height="1.6" fill="#c4e5aa"/>
<rect x="400.5" y="70.3" width="0.7" height="1.6" fill="#d6eea6"/>
<rect x="396.8" y="54.9" width="0.7" height="0.7" fill="#d0eba6"/>
<rect x="518.3" y="102.6" width="0.7" height="0.9" fill="#d6eea6"/>
<rect x="421.7" y="126.9" width="0.7" height="1.2" fill="#dbf0a8"/>
<rect x="429.4" y="97.0" width="0.7" height="1.2" fill="#c4e5aa"/>
<rect x="506.7" y="132.7" width="0.7" height="1.1" fill="#d0eba6"/>
<rect x="423.2" y="99.4" width="0.7" height="1.4" fill="#d0eba6"/>
<rect x="587.3" y="65.5" width="0.7" height="1.3" fill="#c4e5aa"/>
<rect x="505.5" y="83.0" width="0.7" height="1.4" fill="#c4e5aa"/>
<rect x="439.5" y="107.9" width="0.7" height="1.1" fill="#dbf0a8"/>
<rect x="625.1" y="88.9" width="0.7" height="1.1" fill="#dbf0a8"/>
<rect x="468.5" y="138.9" width="0.7" height="1.3" fill="#c4e5aa"/>
<rect x="501.7" y="140.6" width="0.7" height="1.5" fill="#d0eba6"/>
<rect x="400.8" y="147.2" width="0.7" height="0.7" fill="#d0eba6"/>
<rect x="525.0" y="42.5" width="0.7" height="1.1" fill="#dbf0a8"/>
<rect x="442.1" y="77.8" width="0.7" height="1.2" fill="#dbf0a8"/>
<rect x="611.5" y="140.8" width="0.7" height="0.9" fill="#d0eba6"/>
<rect x="544.3" y="37.7" width="0.7" height="1.6" fill="#c4e5aa"/>
<rect x="424.4" y="133.4" width="0.7" height="1.3" fill="#d0eba6"/>
<rect x="471.0" y="123.2" width="0.7" height="1.5" fill="#c4e5aa"/>
<rect x="414.8" y="50.2" width="0.7" height="1.4" fill="#d0eba6"/>
<rect x="512.3" y="53.3" width="0.7" height="0.9" fill="#c4e5aa"/>
<rect x="538.9" y="119.4" width="0.7" height="1.5" fill="#dbf0a8"/>
<rect x="408.5" y="102.6" width="0.7" height="1.1" fill="#d6eea6"/>
<rect x="597.5" y="47.8" width="0.7" height="1.5" fill="#c4e5aa"/>
<rect x="547.6" y="135.4" width="0.7" height="1.5" fill="#dbf0a8"/>
<rect x="408.0" y="116.3" width="0.7" height="0.8" fill="#c4e5aa"/>
<rect x="463.5" y="73.0" width="0.7" height="1.2" fill="#dbf0a8"/>
<rect x="640.6" y="38.4" width="0.7" height="0.8" fill="#dbf0a8"/>
<rect x="489.1" y="127.6" width="0.7" height="1.1" fill="#d0eba6"/>
<rect x="595.0" y="109.6" width="0.7" height="0.9" fill="#dbf0a8"/>
<rect x="416.0" y="88.2" width="0.7" height="1.2" fill="#d0eba6"/>
<rect x="407.0" y="85.8" width="0.7" height="1.0" fill="#c4e5aa"/>
<rect x="547.7" y="102.1" width="0.7" height="0.9" fill="#d6eea6"/>
<rect x="501.4" y="105.0" width="0.7" height="1.5" fill="#c4e5aa"/>
<rect x="580.6" y="89.2" width="0.7" height="1.1" fill="#dbf0a8"/>
<rect x="649.1" y="68.3" width="0.7" height="0.7" fill="#c4e5aa"/>
<rect x="613.7" y="69.9" width="0.7" height="1.2" fill="#d0eba6"/>
<rect x="528.2" y="46.6" width="0.7" height="1.4" fill="#c4e5aa"/>
<rect x="410.3" y="143.9" width="0.7" height="0.9" fill="#c4e5aa"/>
<rect x="426.8" y="135.1" width="0.7" height="1.1" fill="#c4e5aa"/>
<rect x="426.0" y="92.2" width="0.7" height="1.0" fill="#c4e5aa"/>
<rect x="563.1" y="138.4" width="0.7" height="1.4" fill="#d6eea6"/>
<rect x="435.6" y="89.9" width="0.7" height="1.6" fill="#c4e5aa"/>
<rect x="415.9" y="93.6" width="0.7" height="1.5" fill="#d0eba6"/>
<rect x="498.9" y="66.0" width="0.7" height="0.9" fill="#c4e5aa"/>
<rect x="639.4" y="46.4" width="0.7" height="0.8" fill="#dbf0a8"/>
<rect x="415.1" y="115.9" width="0.7" height="1.5" fill="#d6eea6"/>
<rect x="630.5" y="140.8" width="0.7" height="0.9" fill="#d0eba6"/>
<rect x="393.0" y="79.9" width="0.7" height="1.4" fill="#c4e5aa"/>
<rect x="408.7" y="114.8" width="0.7" height="1.5" fill="#c4e5aa"/>
<rect x="650.2" y="116.3" width="0.7" height="1.4" fill="#dbf0a8"/>
<rect x="488.1" y="48.0" width="0.7" height="1.3" fill="#c4e5aa"/>
<rect x="429.2" y="79.6" width="0.7" height="1.2" fill="#c4e5aa"/>
<rect x="531.6" y="142.0" width="0.7" height="0.9" fill="#c4e5aa"/>
<rect x="658.6" y="138.0" width="0.7" height="0.9" fill="#d6eea6"/>
<rect x="426.5" y="138.5" width="0.7" height="0.8" fill="#d0eba6"/>
<rect x="399.1" y="36.3" width="0.8" height="1.2" fill="#4f9fbf" opacity="0.9"/>
<rect x="399.1" y="39.2" width="0.8" height="1.5" fill="#4f9fbf" opacity="0.9"/>
<rect x="404.0" y="36.5" width="0.8" height="1.0" fill="#4f9fbf" opacity="0.9"/>
<rect x="404.2" y="38.6" width="0.8" height="1.6" fill="#4f9fbf" opacity="0.9"/>
<rect x="406.2" y="37.3" width="0.8" height="1.8" fill="#4f9fbf" opacity="0.9"/>
<rect x="409.3" y="42.6" width="0.8" height="1.0" fill="#4f9fbf" opacity="0.9"/>
<rect x="412.2" y="45.6" width="0.8" height="1.0" fill="#4f9fbf" opacity="0.9"/>
<rect x="392.5" y="44.0" width="0.8" height="1.0" fill="#4f9fbf" opacity="0.9"/>
<rect x="426.8" y="66.4" width="0.8" height="0.8" fill="#4f9fbf" opacity="0.9"/>
<rect x="428.2" y="73.0" width="0.8" height="0.8" fill="#4f9fbf" opacity="0.9"/>
<rect x="461.4" y="36.3" width="40.1" height="112.9" fill="none" stroke="#d6704a" stroke-width="0.85"/>
<text x="388.30" y="41.20" font-size="6.8" text-anchor="end" fill="#111" stroke="#111" stroke-width="0.16">0</text>
<text x="388.30" y="63.30" font-size="6.8" text-anchor="end" fill="#111" stroke="#111" stroke-width="0.16">200</text>
<text x="388.30" y="85.40" font-size="6.8" text-anchor="end" fill="#111" stroke="#111" stroke-width="0.16">400</text>
<text x="388.30" y="107.50" font-size="6.8" text-anchor="end" fill="#111" stroke="#111" stroke-width="0.16">600</text>
<text x="388.30" y="129.60" font-size="6.8" text-anchor="end" fill="#111" stroke="#111" stroke-width="0.16">800</text>
<text x="391.80" y="156.70" font-size="6.8" text-anchor="middle" fill="#111" stroke="#111" stroke-width="0.16">0</text>
<text x="430.60" y="156.70" font-size="6.8" text-anchor="middle" fill="#111" stroke="#111" stroke-width="0.16">200</text>
<text x="469.40" y="156.70" font-size="6.8" text-anchor="middle" fill="#111" stroke="#111" stroke-width="0.16">400</text>
<text x="508.20" y="156.70" font-size="6.8" text-anchor="middle" fill="#111" stroke="#111" stroke-width="0.16">600</text>
<text x="547.00" y="156.70" font-size="6.8" text-anchor="middle" fill="#111" stroke="#111" stroke-width="0.16">800</text>
<text x="585.80" y="156.70" font-size="6.8" text-anchor="middle" fill="#111" stroke="#111" stroke-width="0.16">1000</text>
<text x="624.60" y="156.70" font-size="6.8" text-anchor="middle" fill="#111" stroke="#111" stroke-width="0.16">1200</text>
<defs><linearGradient id="gF" x1="0" y1="1" x2="0" y2="0">
<stop offset="0.000" stop-color="#f1faba"/>
<stop offset="0.083" stop-color="#dff2b2"/>
<stop offset="0.167" stop-color="#c6e9b4"/>
<stop offset="0.250" stop-color="#9cd8b8"/>
<stop offset="0.333" stop-color="#73c8bd"/>
<stop offset="0.417" stop-color="#4ebbc2"/>
<stop offset="0.500" stop-color="#33a7c2"/>
<stop offset="0.583" stop-color="#1d91c0"/>
<stop offset="0.667" stop-color="#2072b1"/>
<stop offset="0.750" stop-color="#2355a4"/>
<stop offset="0.833" stop-color="#243c98"/>
<stop offset="0.917" stop-color="#192b7c"/>
<stop offset="1.000" stop-color="#081d58"/>
</linearGradient></defs>
<rect x="668.1" y="35.6" width="6.9" height="113.4" fill="url(#gF)"/>
<line x1="675.0" y1="54.4" x2="676.4" y2="54.4" stroke="#444" stroke-width="0.5"/>
<text x="678.00" y="62.30" font-size="4.8" fill="#111" textLength="5.60" lengthAdjust="spacingAndGlyphs" stroke="#111" stroke-width="0.16">2.0</text>
<line x1="675.0" y1="77.7" x2="676.4" y2="77.7" stroke="#444" stroke-width="0.5"/>
<text x="678.00" y="86.20" font-size="4.8" fill="#111" textLength="5.60" lengthAdjust="spacingAndGlyphs" stroke="#111" stroke-width="0.16">1.5</text>
<line x1="675.0" y1="101.1" x2="676.4" y2="101.1" stroke="#444" stroke-width="0.5"/>
<text x="678.00" y="109.90" font-size="4.8" fill="#111" textLength="5.60" lengthAdjust="spacingAndGlyphs" stroke="#111" stroke-width="0.16">1.0</text>
<line x1="675.0" y1="125.2" x2="676.4" y2="125.2" stroke="#444" stroke-width="0.5"/>
<text x="678.00" y="133.60" font-size="4.8" fill="#111" textLength="5.60" lengthAdjust="spacingAndGlyphs" stroke="#111" stroke-width="0.16">0.5</text>
<line x1="675.0" y1="148.8" x2="676.4" y2="148.8" stroke="#444" stroke-width="0.5"/>
<text x="678.00" y="157.40" font-size="4.8" fill="#111" textLength="5.60" lengthAdjust="spacingAndGlyphs" stroke="#111" stroke-width="0.16">0.0</text>
<path d="M395.2,228.2 L395.4,228.3 L395.6,228.4 L395.7,228.6 L395.9,228.8 L396.1,228.7 L396.3,228.6 L396.5,228.8 L396.7,229.0 L396.8,229.0 L397.0,228.9 L397.2,228.8 L397.4,228.7 L397.6,228.9 L397.7,229.2 L397.9,229.5 L398.1,229.7 L398.3,229.6 L398.5,229.6 L398.6,229.7 L398.8,229.8 L399.0,229.8 L399.2,229.8 L399.4,229.4 L399.6,229.1 L399.7,229.3 L399.9,229.5 L400.1,229.7 L400.3,230.0 L400.5,229.7 L400.6,229.4 L400.8,229.4 L401.0,229.3 L401.2,229.6 L401.4,229.8 L401.6,229.9 L401.7,230.0 L401.9,229.9 L402.1,229.9 L402.3,229.8 L402.5,229.8 L402.6,223.7 L402.8,217.6 L403.0,223.6 L403.2,229.5 L403.4,229.4 L403.5,229.4 L403.7,229.3 L403.9,229.2 L404.1,229.2 L404.3,229.1 L404.5,229.1 L404.6,229.1 L404.8,229.4 L405.0,229.6 L405.2,229.4 L405.4,227.7 L405.5,226.2 L405.7,224.8 L405.9,223.4 L406.1,222.1 L406.3,224.0 L406.4,225.8 L406.6,228.1 L406.8,227.0 L407.0,225.9 L407.2,224.7 L407.4,223.1 L407.5,224.3 L407.7,225.9 L407.9,227.5 L408.1,226.7 L408.3,226.0 L408.4,225.1 L408.6,224.2 L408.8,224.9 L409.0,225.5 L409.2,226.3 L409.4,227.1 L409.5,228.2 L409.7,229.4 L409.9,229.1 L410.1,228.9 L410.3,228.9 L410.4,228.9 L410.6,229.0 L410.8,229.1 L411.0,228.9 L411.2,228.8 L411.3,228.6 L411.5,228.5 L411.7,228.8 L411.9,229.1 L412.1,229.2 L412.3,229.3 L412.4,228.9 L412.6,228.4 L412.8,228.8 L413.0,229.2 L413.2,229.3 L413.3,229.5 L413.5,229.3 L413.7,229.1 L413.9,229.1 L414.1,229.1 L414.3,229.3 L414.4,229.5 L414.6,229.3 L414.8,229.1 L415.0,229.3 L415.2,229.5 L415.3,229.6 L415.5,229.7 L415.7,229.6 L415.9,229.4 L416.1,229.4 L416.2,229.3 L416.4,229.5 L416.6,229.8 L416.8,229.6 L417.0,229.5 L417.2,229.6 L417.3,229.6 L417.5,229.2 L417.7,228.7 L417.9,229.3 L418.1,229.8 L418.2,229.4 L418.4,229.1 L418.6,229.3 L418.8,229.5 L419.0,229.5 L419.1,229.5 L419.3,229.4 L419.5,229.3 L419.7,229.2 L419.9,229.2 L420.1,229.1 L420.2,229.1 L420.4,229.2 L420.6,229.3 L420.8,229.4 L421.0,229.6 L421.1,229.6 L421.3,229.5 L421.5,229.4 L421.7,228.5 L421.9,227.7 L422.1,227.0 L422.2,226.1 L422.4,225.3 L422.6,226.1 L422.8,226.9 L423.0,227.5 L423.1,228.1 L423.3,228.7 L423.5,228.7 L423.7,228.9 L423.9,229.1 L424.0,229.3 L424.2,229.6 L424.4,229.6 L424.6,229.5 L424.8,229.6 L425.0,229.6 L425.1,229.2 L425.3,228.7 L425.5,229.1 L425.7,229.5 L425.9,229.2 L426.0,228.9 L426.2,229.0 L426.4,229.1 L426.6,228.9 L426.8,228.8 L427.0,228.9 L427.1,229.0 L427.3,229.1 L427.5,229.3 L427.7,229.3 L427.9,229.4 L428.0,229.3 L428.2,229.3 L428.4,229.3 L428.6,229.3 L428.8,229.4 L428.9,229.5 L429.1,229.4 L429.3,229.4 L429.5,229.1 L429.7,228.9 L429.9,229.0 L430.0,229.2 L430.2,228.6 L430.4,227.9 L430.6,227.8 L430.8,227.6 L430.9,227.1 L431.1,226.6 L431.3,227.0 L431.5,227.4 L431.7,228.0 L431.8,228.6 L432.0,229.0 L432.2,229.4 L432.4,229.7 L432.6,230.0 L432.8,229.6 L432.9,229.2 L433.1,229.4 L433.3,229.7 L433.5,229.5 L433.7,229.3 L433.8,229.3 L434.0,229.4 L434.2,229.8 L434.4,230.2 L434.6,229.9 L434.8,229.6 L434.9,229.4 L435.1,229.2 L435.3,229.0 L435.5,228.8 L435.7,229.0 L435.8,229.2 L436.0,229.1 L436.2,229.1 L436.4,229.4 L436.6,229.6 L436.7,229.1 L436.9,228.7 L437.1,228.6 L437.3,228.5 L437.5,228.7 L437.7,228.9 L437.8,228.8 L438.0,228.8 L438.2,228.9 L438.4,229.1 L438.6,228.6 L438.7,228.2 L438.9,227.9 L439.1,227.5 L439.3,227.8 L439.5,228.0 L439.7,227.8 L439.8,227.7 L440.0,227.7 L440.2,227.8 L440.4,227.9 L440.6,228.1 L440.7,227.7 L440.9,227.3 L441.1,227.6 L441.3,227.9 L441.5,227.7 L441.6,227.5 L441.8,227.3 L442.0,227.2 L442.2,227.1 L442.4,226.9 L442.6,227.1 L442.7,227.3 L442.9,227.4 L443.1,227.5 L443.3,227.8 L443.5,228.1 L443.6,228.3 L443.8,228.5 L444.0,228.4 L444.2,228.4 L444.4,228.6 L444.5,228.8 L444.7,229.1 L444.9,229.3 L445.1,229.4 L445.3,229.5 L445.5,229.5 L445.6,229.5 L445.8,229.8 L446.0,230.2 L446.2,230.0 L446.4,229.9 L446.5,229.8 L446.7,229.8 L446.9,229.5 L447.1,229.1 L447.3,229.0 L447.5,228.9 L447.6,228.6 L447.8,228.3 L448.0,228.7 L448.2,229.2 L448.4,229.0 L448.5,228.8 L448.7,228.5 L448.9,228.2 L449.1,228.3 L449.3,228.4 L449.4,228.3 L449.6,228.2 L449.8,227.8 L450.0,227.4 L450.2,227.6 L450.4,227.7 L450.5,227.7 L450.7,227.7 L450.9,227.6 L451.1,227.5 L451.3,227.2 L451.4,226.8 L451.6,226.7 L451.8,226.6 L452.0,226.7 L452.2,226.8 L452.4,226.6 L452.5,226.5 L452.7,226.1 L452.9,225.8 L453.1,225.6 L453.3,225.5 L453.4,225.6 L453.6,225.6 L453.8,225.3 L454.0,225.0 L454.2,224.9 L454.3,224.8 L454.5,225.0 L454.7,225.2 L454.9,224.9 L455.1,224.5 L455.3,224.3 L455.4,224.1 L455.6,224.1 L455.8,224.1 L456.0,224.2 L456.2,224.3 L456.3,223.9 L456.5,223.5 L456.7,223.3 L456.9,223.0 L457.1,223.1 L457.2,223.1 L457.4,223.9 L457.6,224.7 L457.8,224.1 L458.0,223.6 L458.2,224.4 L458.3,225.1 L458.5,225.0 L458.7,224.9 L458.9,224.5 L459.1,224.2 L459.2,223.9 L459.4,223.6 L459.6,223.4 L459.8,223.2 L460.0,223.1 L460.2,223.0 L460.3,222.4 L460.5,221.8 L460.7,222.2 L460.9,222.6 L461.1,223.1 L461.2,223.6 L461.4,223.0 L461.6,222.4 L461.8,222.7 L462.0,223.0 L462.1,222.8 L462.3,222.7 L462.5,223.1 L462.7,223.5 L462.9,223.1 L463.1,222.8 L463.2,222.8 L463.4,222.8 L463.6,222.8 L463.8,222.9 L464.0,223.1 L464.1,223.4 L464.3,224.7 L464.5,225.9 L464.7,224.9 L464.9,224.0 L465.1,226.0 L465.2,228.0 L465.4,226.6 L465.6,225.1 L465.8,222.3 L466.0,219.6 L466.1,219.7 L466.3,219.8 L466.5,218.0 L466.7,216.2 L466.9,215.2 L467.0,214.3 L467.2,211.4 L467.4,208.5 L467.6,208.2 L467.8,208.0 L468.0,208.4 L468.1,208.9 L468.3,206.8 L468.5,204.6 L468.7,205.7 L468.9,206.8 L469.0,205.5 L469.2,204.1 L469.4,202.0 L469.6,199.9 L469.8,201.2 L469.9,204.1 L470.1,204.1 L470.3,204.0 L470.5,205.9 L470.7,207.8 L470.9,207.3 L471.0,206.7 L471.2,206.1 L471.4,205.5 L471.6,208.7 L471.8,211.9 L471.9,209.5 L472.1,207.0 L472.3,206.7 L472.5,206.3 L472.7,205.1 L472.9,203.8 L473.0,202.4 L473.2,201.1 L473.4,196.9 L473.6,222.3 L473.8,216.3 L473.9,188.1 L474.1,196.3 L474.3,204.6 L474.5,212.1 L474.7,219.7 L474.8,224.5 L475.0,229.2 L475.2,222.0 L475.4,223.4 L475.6,205.5 L475.8,200.7 L475.9,197.5 L476.1,194.4 L476.3,190.7 L476.5,188.2 L476.7,185.4 L476.8,224.7 L477.0,213.8 L477.2,213.1 L477.4,181.5 L477.6,182.8 L477.8,185.7 L477.9,188.5 L478.1,188.8 L478.3,189.1 L478.5,191.6 L478.7,225.1 L478.8,230.0 L479.0,226.0 L479.2,230.6 L479.4,225.2 L479.6,216.8 L479.7,208.4 L479.9,200.8 L480.1,202.1 L480.3,205.6 L480.5,209.1 L480.7,210.2 L480.8,211.2 L481.0,213.0 L481.2,214.8 L481.4,214.8 L481.6,214.7 L481.7,215.4 L481.9,224.3 L482.1,227.2 L482.3,220.8 L482.5,223.6 L482.6,226.4 L482.8,227.0 L483.0,227.7 L483.2,224.3 L483.4,229.9 L483.6,211.7 L483.7,226.1 L483.9,212.5 L484.1,215.4 L484.3,218.4 L484.5,221.3 L484.6,216.8 L484.8,212.3 L485.0,214.1 L485.2,218.3 L485.4,229.8 L485.6,229.6 L485.7,230.6 L485.9,226.2 L486.1,222.6 L486.3,218.9 L486.5,214.5 L486.6,210.2 L486.8,207.7 L487.0,227.5 L487.2,200.4 L487.4,195.5 L487.5,197.9 L487.7,200.3 L487.9,204.1 L488.1,207.8 L488.3,210.4 L488.5,212.9 L488.6,224.3 L488.8,222.2 L489.0,223.5 L489.2,224.7 L489.4,225.5 L489.5,226.4 L489.7,223.2 L489.9,220.0 L490.1,227.7 L490.3,219.9 L490.5,217.0 L490.6,214.1 L490.8,209.4 L491.0,204.6 L491.2,210.5 L491.4,216.5 L491.5,229.0 L491.7,220.9 L491.9,230.1 L492.1,229.5 L492.3,228.1 L492.4,226.6 L492.6,223.5 L492.8,220.4 L493.0,218.2 L493.2,215.9 L493.4,213.5 L493.5,211.1 L493.7,207.4 L493.9,203.8 L494.1,201.5 L494.3,199.2 L494.4,198.0 L494.6,196.8 L494.8,218.2 L495.0,229.4 L495.2,223.6 L495.3,212.6 L495.5,217.3 L495.7,222.1 L495.9,225.3 L496.1,228.6 L496.3,225.7 L496.4,222.9 L496.6,228.2 L496.8,230.4 L497.0,223.5 L497.2,223.1 L497.3,222.0 L497.5,220.9 L497.7,221.1 L497.9,221.4 L498.1,221.0 L498.3,220.7 L498.4,228.0 L498.6,220.1 L498.8,219.1 L499.0,218.1 L499.2,217.7 L499.3,217.3 L499.5,215.8 L499.7,215.8 L499.9,218.1 L500.1,220.4 L500.2,221.4 L500.4,222.4 L500.6,224.6 L500.8,226.7 L501.0,225.1 L501.2,223.5 L501.3,225.8 L501.5,226.8 L501.7,225.4 L501.9,224.0 L502.1,224.9 L502.2,225.7 L502.4,224.9 L502.6,224.1 L502.8,225.7 L503.0,227.0 L503.2,225.6 L503.3,224.2 L503.5,221.8 L503.7,219.4 L503.9,222.8 L504.1,224.2 L504.2,223.4 L504.4,222.6 L504.6,222.1 L504.8,221.6 L505.0,221.3 L505.1,221.1 L505.3,220.6 L505.5,220.1 L505.7,219.6 L505.9,219.1 L506.1,218.9 L506.2,218.8 L506.4,218.2 L506.6,217.6 L506.8,217.3 L507.0,217.1 L507.1,216.6 L507.3,216.1 L507.5,215.7 L507.7,215.2 L507.9,214.7 L508.0,215.4 L508.2,216.0 L508.4,216.7 L508.6,217.4 L508.8,218.1 L509.0,219.1 L509.1,220.1 L509.3,220.3 L509.5,220.5 L509.7,221.3 L509.9,222.2 L510.0,222.9 L510.2,223.3 L510.4,223.8 L510.6,224.3 L510.8,224.5 L511.0,224.8 L511.1,225.0 L511.3,225.2 L511.5,225.5 L511.7,225.9 L511.9,226.5 L512.0,227.1 L512.2,227.1 L512.4,227.0 L512.6,227.0 L512.8,227.0 L512.9,228.0 L513.1,227.0 L513.3,224.9 L513.5,222.9 L513.7,221.3 L513.9,219.7 L514.0,218.1 L514.2,216.6 L514.4,214.7 L514.6,212.8 L514.8,211.5 L514.9,210.2 L515.1,208.4 L515.3,209.3 L515.5,210.1 L515.7,211.0 L515.9,212.4 L516.0,213.7 L516.2,214.8 L516.4,216.0 L516.6,214.9 L516.8,213.8 L516.9,212.8 L517.1,211.9 L517.3,210.5 L517.5,209.2 L517.7,211.3 L517.8,213.3 L518.0,214.8 L518.2,216.2 L518.4,218.2 L518.6,220.2 L518.8,221.6 L518.9,223.0 L519.1,223.7 L519.3,224.5 L519.5,225.5 L519.7,226.5 L519.8,226.7 L520.0,226.9 L520.2,227.7 L520.4,228.5 L520.6,229.0 L520.7,229.5 L520.9,229.8 L521.1,230.1 L521.3,229.9 L521.5,229.6 L521.7,228.9 L521.8,228.3 L522.0,227.2 L522.2,226.2 L522.4,225.7 L522.6,225.3 L522.7,224.4 L522.9,223.5 L523.1,223.0 L523.3,222.6 L523.5,222.1 L523.7,223.5 L523.8,224.6 L524.0,225.7 L524.2,226.7 L524.4,227.8 L524.6,229.0 L524.7,230.3 L524.9,229.0 L525.1,227.8 L525.3,226.3 L525.5,224.9 L525.6,223.5 L525.8,222.1 L526.0,220.8 L526.2,219.4 L526.4,217.6 L526.6,215.8 L526.7,214.7 L526.9,213.6 L527.1,212.3 L527.3,211.1 L527.5,209.6 L527.6,208.1 L527.8,206.5 L528.0,208.2 L528.2,210.1 L528.4,212.1 L528.6,214.1 L528.7,216.1 L528.9,218.1 L529.1,220.1 L529.3,221.9 L529.5,223.8 L529.6,225.9 L529.8,226.7 L530.0,227.2 L530.2,227.7 L530.4,227.9 L530.5,228.2 L530.7,228.9 L530.9,229.7 L531.1,230.1 L531.3,230.5 L531.5,229.6 L531.6,228.8 L531.8,228.1 L532.0,227.5 L532.2,226.9 L532.4,226.2 L532.5,225.2 L532.7,224.1 L532.9,223.6 L533.1,223.1 L533.3,222.5 L533.4,222.0 L533.6,221.1 L533.8,220.2 L534.0,219.5 L534.2,218.8 L534.4,218.3 L534.5,217.7 L534.7,216.9 L534.9,216.0 L535.1,215.3 L535.3,214.6 L535.4,214.2 L535.6,213.7 L535.8,212.7 L536.0,211.7 L536.2,211.0 L536.4,212.2 L536.5,213.5 L536.7,214.7 L536.9,216.2 L537.1,217.6 L537.3,218.6 L537.4,219.6 L537.6,220.8 L537.8,222.0 L538.0,223.2 L538.2,224.4 L538.3,225.8 L538.5,227.3 L538.7,226.9 L538.9,226.5 L539.1,226.7 L539.3,226.9 L539.4,226.6 L539.6,226.3 L539.8,226.0 L540.0,225.7 L540.2,225.9 L540.3,226.1 L540.5,225.9 L540.7,225.8 L540.9,225.5 L541.1,225.1 L541.3,225.2 L541.4,225.3 L541.6,225.2 L541.8,225.1 L542.0,224.9 L542.2,224.7 L542.3,224.5 L542.5,224.3 L542.7,224.7 L542.9,225.0 L543.1,224.7 L543.2,224.4 L543.4,224.3 L543.6,224.3 L543.8,224.2 L544.0,224.1 L544.2,223.9 L544.3,223.8 L544.5,223.7 L544.7,223.6 L544.9,223.3 L545.1,223.4 L545.2,223.8 L545.4,224.2 L545.6,224.3 L545.8,224.4 L546.0,224.6 L546.1,224.7 L546.3,225.2 L546.5,225.6 L546.7,225.7 L546.9,225.8 L547.1,225.8 L547.2,225.8 L547.4,226.2 L547.6,226.7 L547.8,227.0 L548.0,227.4 L548.1,227.6 L548.3,227.7 L548.5,228.1 L548.7,228.4 L548.9,228.5 L549.1,228.6 L549.2,228.4 L549.4,228.2 L549.6,228.4 L549.8,228.6 L550.0,228.4 L550.1,228.3 L550.3,228.0 L550.5,227.7 L550.7,227.9 L550.9,228.1 L551.0,227.9 L551.2,227.7 L551.4,227.8 L551.6,227.9 L551.8,227.8 L552.0,227.7 L552.1,227.6 L552.3,227.5 L552.5,227.0 L552.7,226.6 L552.9,226.9 L553.0,227.2 L553.2,227.1 L553.4,227.1 L553.6,224.2 L553.8,221.2 L554.0,218.3 L554.1,215.3 L554.3,212.2 L554.5,209.2 L554.7,206.3 L554.9,203.5 L555.0,200.5 L555.2,197.5 L555.4,195.1 L555.6,192.7 L555.8,189.8 L555.9,195.7 L556.1,202.1 L556.3,208.4 L556.5,214.5 L556.7,220.6 L556.9,222.6 L557.0,224.6 L557.2,226.2 L557.4,227.7 L557.6,229.4 L557.8,227.1 L557.9,224.8 L558.1,222.5 L558.3,220.5 L558.5,218.5 L558.7,215.7 L558.8,213.0 L559.0,210.8 L559.2,217.2 L559.4,223.3 L559.6,229.5 L559.8,229.1 L559.9,228.6 L560.1,228.2 L560.3,227.8 L560.5,227.3 L560.7,226.8 L560.8,226.6 L561.0,226.5 L561.2,226.0 L561.4,226.7 L561.6,227.2 L561.8,227.7 L561.9,228.4 L562.1,229.2 L562.3,229.9 L562.5,230.6 L562.7,228.9 L562.8,227.1 L563.0,225.3 L563.2,223.5 L563.4,221.5 L563.6,219.5 L563.7,222.1 L563.9,224.7 L564.1,227.8 L564.3,230.6 L564.5,228.1 L564.7,225.2 L564.8,222.9 L565.0,220.5 L565.2,218.2 L565.4,220.6 L565.6,222.7 L565.7,224.7 L565.9,227.3 L566.1,229.8 L566.3,228.0 L566.5,226.2 L566.7,224.3 L566.8,222.4 L567.0,224.1 L567.2,225.8 L567.4,227.6 L567.6,229.5 L567.7,229.4 L567.9,229.3 L568.1,229.2 L568.3,229.0 L568.5,229.2 L568.6,229.5 L568.8,229.0 L569.0,228.5 L569.2,228.7 L569.4,228.9 L569.6,228.7 L569.7,228.5 L569.9,228.4 L570.1,228.3 L570.3,228.3 L570.5,228.3 L570.6,228.3 L570.8,228.2 L571.0,228.1 L571.2,227.9 L571.4,227.8 L571.5,227.7 L571.7,227.7 L571.9,227.7 L572.1,227.7 L572.3,227.8 L572.5,228.1 L572.6,228.3 L572.8,228.4 L573.0,228.4 L573.2,228.4 L573.4,228.5 L573.5,228.4 L573.7,228.2 L573.9,228.6 L574.1,229.0 L574.3,228.6 L574.5,228.2 L574.6,228.5 L574.8,228.8 L575.0,228.4 L575.2,228.0 L575.4,227.4 L575.5,226.9 L575.7,226.3 L575.9,225.8 L576.1,225.5 L576.3,225.2 L576.4,224.7 L576.6,224.1 L576.8,225.0 L577.0,225.8 L577.2,226.3 L577.4,226.9 L577.5,227.6 L577.7,228.3 L577.9,228.4 L578.1,228.6 L578.3,228.4 L578.4,228.1 L578.6,228.3 L578.8,228.5 L579.0,228.5 L579.2,228.4 L579.4,228.6 L579.5,228.7 L579.7,228.6 L579.9,228.5 L580.1,228.3 L580.3,228.1 L580.4,228.4 L580.6,228.7 L580.8,228.4 L581.0,228.1 L581.2,228.1 L581.3,228.1 L581.5,228.1 L581.7,228.1 L581.9,228.4 L582.1,228.8 L582.3,227.3 L582.4,225.7 L582.6,224.4 L582.8,223.0 L583.0,222.0 L583.2,221.0 L583.3,219.6 L583.5,218.3 L583.7,217.4 L583.9,216.5 L584.1,215.1 L584.3,213.7 L584.4,212.9 L584.6,212.1 L584.8,210.9 L585.0,209.7 L585.2,211.7 L585.3,213.8 L585.5,215.1 L585.7,216.4 L585.9,218.2 L586.1,220.0 L586.2,221.5 L586.4,223.0 L586.6,223.5 L586.8,224.1 L587.0,224.4 L587.2,224.6 L587.3,224.5 L587.5,224.4 L587.7,225.2 L587.9,225.9 L588.1,226.2 L588.2,226.5 L588.4,226.7 L588.6,227.0 L588.8,227.4 L589.0,227.8 L589.1,227.8 L589.3,227.8 L589.5,227.7 L589.7,227.7 L589.9,228.1 L590.1,228.4 L590.2,228.6 L590.4,228.8 L590.6,228.4 L590.8,228.0 L591.0,228.0 L591.1,228.1 L591.3,228.1 L591.5,228.2 L591.7,228.2 L591.9,228.1 L592.1,228.5 L592.2,228.8 L592.4,228.7 L592.6,228.6 L592.8,228.8 L593.0,229.0 L593.1,228.9 L593.3,228.9 L593.5,228.4 L593.7,227.9 L593.9,228.1 L594.0,228.2 L594.2,227.7 L594.4,227.2 L594.6,227.4 L594.8,227.6 L595.0,227.8 L595.1,228.0 L595.3,227.9 L595.5,227.8 L595.7,227.8 L595.9,227.7 L596.0,228.0 L596.2,228.3 L596.4,228.6 L596.6,229.0 L596.8,228.9 L597.0,228.7 L597.1,228.7 L597.3,228.6 L597.5,229.0 L597.7,229.4 L597.9,229.5 L598.0,229.6 L598.2,229.5 L598.4,229.3 L598.6,229.4 L598.8,229.6 L598.9,229.7 L599.1,229.9 L599.3,229.8 L599.5,229.7 L599.7,229.8 L599.9,229.8 L600.0,229.7 L600.2,229.5 L600.4,229.5 L600.6,229.5 L600.8,229.4 L600.9,229.2 L601.1,229.3 L601.3,229.4 L601.5,229.7 L601.7,230.0 L601.8,229.7 L602.0,229.4 L602.2,229.4 L602.4,229.3 L602.6,229.3 L602.8,229.4 L602.9,229.3 L603.1,229.2 L603.3,229.5 L603.5,229.7 L603.7,229.7 L603.8,229.8 L604.0,229.5 L604.2,229.2 L604.4,229.5 L604.6,229.8 L604.8,230.0 L604.9,230.1 L605.1,229.7 L605.3,229.2 L605.5,229.5 L605.7,229.7 L605.8,229.6 L606.0,229.6 L606.2,229.7 L606.4,229.9 L606.6,229.9 L606.7,229.9 L606.9,229.8 L607.1,229.8 L607.3,229.7 L607.5,229.6 L607.7,229.5 L607.8,229.3 L608.0,229.7 L608.2,230.1 L608.4,229.7 L608.6,229.2 L608.7,229.5 L608.9,229.8 L609.1,229.8 L609.3,229.7 L609.5,229.5 L609.7,229.2 L609.8,229.3 L610.0,229.4 L610.2,229.7 L610.4,229.9 L610.6,229.4 L610.7,228.9 L610.9,229.3 L611.1,229.7 L611.3,229.5 L611.5,229.3 L611.6,229.3 L611.8,229.3 L612.0,229.1 L612.2,229.0 L612.4,229.2 L612.6,229.5 L612.7,229.3 L612.9,229.1 L613.1,229.3 L613.3,229.5 L613.5,229.2 L613.6,228.9 L613.8,229.1 L614.0,229.3 L614.2,229.2 L614.4,229.1 L614.5,228.8 L614.7,228.4 L614.9,228.6 L615.1,228.8 L615.3,228.8 L615.5,228.8 L615.6,228.4 L615.8,228.1 L616.0,228.3 L616.2,228.5 L616.4,228.7 L616.5,228.8 L616.7,228.5 L616.9,228.3 L617.1,228.5 L617.3,228.7 L617.5,228.4 L617.6,228.0 L617.8,227.9 L618.0,227.9 L618.2,228.1 L618.4,228.3 L618.5,228.4 L618.7,228.5 L618.9,228.5 L619.1,228.5 L619.3,228.6 L619.4,228.7 L619.6,229.0 L619.8,229.2 L620.0,229.1 L620.2,229.0 L620.4,229.4 L620.5,229.9 L620.7,229.8 L620.9,229.6 L621.1,229.7 L621.3,229.7 L621.4,229.6 L621.6,229.6 L621.8,229.4 L622.0,229.3 L622.2,229.5 L622.4,229.7 L622.5,229.4 L622.7,229.1 L622.9,229.1 L623.1,229.2 L623.3,229.2 L623.4,229.2 L623.6,229.3 L623.8,229.4 L624.0,229.3 L624.2,229.2 L624.3,229.1 L624.5,228.9 L624.7,229.1 L624.9,229.4 L625.1,229.3 L625.3,229.2 L625.4,229.1 L625.6,229.0 L625.8,229.1 L626.0,229.1 L626.2,229.1 L626.3,229.1 L626.5,229.4 L626.7,229.7 L626.9,229.9 L627.1,230.1 L627.2,229.8 L627.4,229.6 L627.6,229.7 L627.8,229.7 L628.0,229.6 L628.2,229.5 L628.3,229.6 L628.5,229.8 L628.7,229.6 L628.9,229.4 L629.1,229.4 L629.2,229.5 L629.4,229.5 L629.6,229.5 L629.8,229.5 L630.0,229.5 L630.2,229.5 L630.3,229.5 L630.5,229.6 L630.7,229.6 L630.9,229.6 L631.1,229.5 L631.2,229.4 L631.4,229.3 L631.6,229.6 L631.8,229.8 L632.0,229.5 L632.1,229.1 L632.3,229.4 L632.5,229.7 L632.7,229.5 L632.9,229.4 L633.1,229.5 L633.2,229.7 L633.4,229.7 L633.6,229.8 L633.8,229.4 L634.0,229.1 L634.1,229.5 L634.3,229.8 L634.5,230.0 L634.7,230.1 L634.9,230.0 L635.1,229.9 L635.2,229.9 L635.4,229.8 L635.6,229.5 L635.8,229.1 L636.0,229.4 L636.1,229.7 L636.3,229.6 L636.5,229.5 L636.7,229.8 L636.9,230.1 L637.0,229.9 L637.2,229.7 L637.4,229.7 L637.6,229.6 L637.8,229.5 L638.0,229.3 L638.1,229.7 L638.3,230.0 L638.5,229.9 L638.7,229.7 L638.9,229.7 L639.0,229.8 L639.2,230.0 L639.4,230.2 L639.6,230.0 L639.8,229.9 L639.9,229.9 L640.1,230.0 L640.3,230.3 L640.5,230.6 L640.7,230.2 L640.9,229.7 L641.0,229.8 L641.2,229.8 L641.4,229.9 L641.6,230.1 L641.8,230.2 L641.9,230.3 L642.1,229.9 L642.3,229.5 L642.5,229.7 L642.7,229.9 L642.9,229.8 L643.0,229.7 L643.2,229.6 L643.4,229.6 L643.6,229.9 L643.8,230.2 L643.9,230.0 L644.1,229.8 L644.3,229.9 L644.5,230.1 L644.7,230.1 L644.8,230.1 L645.0,230.1 L645.2,230.1 L645.4,230.1 L645.6,230.1 L645.8,229.9 L645.9,229.7 L646.1,229.9 L646.3,230.0 L646.5,230.1 L646.7,230.1 L646.8,230.2 L647.0,230.2 L647.2,230.1" fill="none" stroke="#111" stroke-width="0.9" stroke-linejoin="round"/>
<rect x="461.2" y="176.9" width="40.6" height="53.2" fill="#87ceeb" opacity="0.35"/>
<rect x="382.5" y="176.5" width="277.0" height="54.0" fill="none" stroke="#5a5a5a" stroke-width="0.85"/>
<text x="378.30" y="232.50" font-size="4.7" text-anchor="end" fill="#222" textLength="10.24" lengthAdjust="spacingAndGlyphs">0.00</text>
<text x="378.30" y="220.20" font-size="4.7" text-anchor="end" fill="#222" textLength="10.24" lengthAdjust="spacingAndGlyphs">0.05</text>
<text x="378.30" y="207.90" font-size="4.7" text-anchor="end" fill="#222" textLength="10.24" lengthAdjust="spacingAndGlyphs">0.10</text>
<text x="378.30" y="195.60" font-size="4.7" text-anchor="end" fill="#222" textLength="10.24" lengthAdjust="spacingAndGlyphs">0.15</text>
<text x="378.30" y="183.30" font-size="4.7" text-anchor="end" fill="#222" textLength="10.24" lengthAdjust="spacingAndGlyphs">0.20</text>
<text x="395.20" y="238.50" font-size="4.7" text-anchor="middle" fill="#222" textLength="2.99" lengthAdjust="spacingAndGlyphs">0</text>
<text x="431.49" y="238.50" font-size="4.7" text-anchor="middle" fill="#222" textLength="8.97" lengthAdjust="spacingAndGlyphs">200</text>
<text x="467.77" y="238.50" font-size="4.7" text-anchor="middle" fill="#222" textLength="8.97" lengthAdjust="spacingAndGlyphs">400</text>
<text x="504.06" y="238.50" font-size="4.7" text-anchor="middle" fill="#222" textLength="8.97" lengthAdjust="spacingAndGlyphs">600</text>
<text x="540.34" y="238.50" font-size="4.7" text-anchor="middle" fill="#222" textLength="8.97" lengthAdjust="spacingAndGlyphs">800</text>
<text x="576.63" y="238.50" font-size="4.7" text-anchor="middle" fill="#222" textLength="11.96" lengthAdjust="spacingAndGlyphs">1000</text>
<text x="612.92" y="238.50" font-size="4.7" text-anchor="middle" fill="#222" textLength="11.96" lengthAdjust="spacingAndGlyphs">1200</text>
<text x="649.20" y="238.50" font-size="4.7" text-anchor="middle" fill="#222" textLength="11.96" lengthAdjust="spacingAndGlyphs">1400</text>
<text x="481.00" y="172.80" font-size="7.0" fill="#222" textLength="63.20" lengthAdjust="spacingAndGlyphs" stroke="#222" stroke-width="0.16">Average attention</text>
<path d="M395.2,288.1 L395.9,287.8 L396.7,287.6 L397.4,287.3 L398.1,287.1 L398.8,286.8 L399.6,286.6 L400.3,286.3 L401.0,286.1 L401.7,285.8 L402.5,285.6 L403.2,285.3 L403.9,285.1 L404.6,284.8 L405.4,284.6 L406.1,284.4 L406.8,284.3 L407.5,284.1 L408.3,283.9 L409.0,283.7 L409.7,283.6 L410.4,283.4 L411.2,283.2 L411.9,283.1 L412.6,282.9 L413.3,282.7 L414.1,282.6 L414.8,282.4 L415.5,282.2 L416.2,282.1 L417.0,281.9 L417.7,281.7 L418.4,281.6 L419.1,281.4 L419.9,281.2 L420.6,281.0 L421.3,280.7 L422.1,280.3 L422.8,280.0 L423.5,279.6 L424.2,279.3 L425.0,278.9 L425.7,278.6 L426.4,278.6 L427.1,278.5 L427.9,278.5 L428.6,278.4 L429.3,278.3 L430.0,278.3 L430.8,278.2 L431.5,278.1 L432.2,278.1 L432.9,278.0 L433.7,278.0 L434.4,278.2 L435.1,278.4 L435.8,278.5 L436.6,278.7 L437.3,278.9 L438.0,279.1 L438.7,279.3 L439.5,279.4 L440.2,279.6 L440.9,279.7 L441.6,279.8 L442.4,279.9 L443.1,280.0 L443.8,280.0 L444.5,280.1 L445.3,280.2 L446.0,280.2 L446.7,280.3 L447.5,280.4 L448.2,280.0 L448.9,279.4 L449.6,278.8 L450.4,278.2 L451.1,277.6 L451.8,277.1 L452.5,276.2 L453.3,275.3 L454.0,274.4 L454.7,273.5 L455.4,272.6 L456.2,271.7 L456.9,270.8 L457.6,269.9 L458.3,269.0 L459.1,268.3 L459.8,267.7 L460.5,267.1 L461.2,266.6 L462.0,266.0 L462.7,265.4 L463.4,265.4 L464.1,265.4 L464.9,265.4 L465.6,265.4 L466.3,265.4 L467.0,265.4 L467.8,265.4 L468.5,265.4 L469.2,265.4 L469.9,265.9 L470.7,266.8 L471.4,267.7 L472.1,268.6 L472.9,269.5 L473.6,270.3 L474.3,270.9 L475.0,271.5 L475.8,272.1 L476.5,272.8 L477.2,273.4 L477.9,274.0 L478.7,274.7 L479.4,275.3 L480.1,275.9 L480.8,276.3 L481.6,276.6 L482.3,276.9 L483.0,277.1 L483.7,277.4 L484.5,277.6 L485.2,277.9 L485.9,278.1 L486.6,278.4 L487.4,278.6 L488.1,278.9 L488.8,279.1 L489.5,279.4 L490.3,279.4 L491.0,279.4 L491.7,279.5 L492.4,279.5 L493.2,279.5 L493.9,279.6 L494.6,279.6 L495.3,279.6 L496.1,279.7 L496.8,279.7 L497.5,279.6 L498.3,279.5 L499.0,279.4 L499.7,279.3 L500.4,279.2 L501.2,279.1 L501.9,279.0 L502.6,278.9 L503.3,278.8 L504.1,278.7 L504.8,278.6 L505.5,278.6 L506.2,278.6 L507.0,278.6 L507.7,278.6 L508.4,278.6 L509.1,278.6 L509.9,278.6 L510.6,278.5 L511.3,278.5 L512.0,278.5 L512.8,278.5 L513.5,278.5 L514.2,278.5 L514.9,278.5 L515.7,278.4 L516.4,278.4 L517.1,278.4 L517.8,278.4 L518.6,278.4 L519.3,278.4 L520.0,278.4 L520.7,278.3 L521.5,278.3 L522.2,278.3 L522.9,278.3 L523.7,278.3 L524.4,278.3 L525.1,278.3 L525.8,278.3 L526.6,278.3 L527.3,278.3 L528.0,278.3 L528.7,278.3 L529.5,278.3 L530.2,278.3 L530.9,278.3 L531.6,278.3 L532.4,278.3 L533.1,278.3 L533.8,278.3 L534.5,278.3 L535.3,278.3 L536.0,278.3 L536.7,278.3 L537.4,278.3 L538.2,278.3 L538.9,278.3 L539.6,278.3 L540.3,278.3 L541.1,278.4 L541.8,278.5 L542.5,278.6 L543.2,278.7 L544.0,278.8 L544.7,278.9 L545.4,279.0 L546.1,279.1 L546.9,279.2 L547.6,279.3 L548.3,279.4 L549.1,279.5 L549.8,279.6 L550.5,279.7 L551.2,279.8 L552.0,279.9 L552.7,280.0 L553.4,280.0 L554.1,279.8 L554.9,279.6 L555.6,279.4 L556.3,279.2 L557.0,279.0 L557.8,278.8 L558.5,278.6 L559.2,278.4 L559.9,278.2 L560.7,278.0 L561.4,277.8 L562.1,277.6 L562.8,277.3 L563.6,276.9 L564.3,276.6 L565.0,276.2 L565.7,275.9 L566.5,275.5 L567.2,275.2 L567.9,274.8 L568.6,274.5 L569.4,274.1 L570.1,274.0 L570.8,273.8 L571.5,273.6 L572.3,273.4 L573.0,273.3 L573.7,273.1 L574.5,272.9 L575.2,272.7 L575.9,272.6 L576.6,272.4 L577.4,272.4 L578.1,272.4 L578.8,272.4 L579.5,272.4 L580.3,272.4 L581.0,272.4 L581.7,272.4 L582.4,272.4 L583.2,272.4 L583.9,272.4 L584.6,272.4 L585.3,272.4 L586.1,272.4 L586.8,272.4 L587.5,272.4 L588.2,272.4 L589.0,272.4 L589.7,272.4 L590.4,272.4 L591.1,272.4 L591.9,272.4 L592.6,272.4 L593.3,272.4 L594.0,272.4 L594.8,272.4 L595.5,272.4 L596.2,272.4 L597.0,272.3 L597.7,272.3 L598.4,272.3 L599.1,272.3 L599.9,272.3 L600.6,272.3 L601.3,272.2 L602.0,272.2 L602.8,272.2 L603.5,272.2 L604.2,272.2 L604.9,272.1 L605.7,272.1 L606.4,272.1 L607.1,272.1 L607.8,272.1 L608.6,272.1 L609.3,272.0 L610.0,271.8 L610.7,271.5 L611.5,271.2 L612.2,270.9 L612.9,270.6 L613.6,270.4 L614.4,270.1 L615.1,269.8 L615.8,269.5 L616.5,269.3 L617.3,269.0 L618.0,268.7 L618.7,268.2 L619.4,267.6 L620.2,267.0 L620.9,266.4 L621.6,265.8 L622.4,265.2 L623.1,265.0 L623.8,266.0 L624.5,267.0 L625.3,268.0 L626.0,269.5 L626.7,271.5 L627.4,273.4 L628.2,275.4 L628.9,277.3 L629.6,279.2 L630.3,281.1 L631.1,283.0 L631.8,284.8 L632.5,286.1 L633.2,287.2 L634.0,288.4 L634.7,289.5 L635.4,289.6 L636.1,289.7 L636.9,289.9 L637.6,290.0 L638.3,290.2 L639.0,290.3 L639.8,290.4 L640.5,290.6 L641.2,290.8 L641.9,291.0 L642.7,291.3 L643.4,291.5 L644.1,291.7 L644.8,291.9 L645.6,292.1 L646.3,292.3 L647.0,292.5 L647.2,295.4 L646.5,295.2 L645.8,295.0 L645.0,294.7 L644.3,294.5 L643.6,294.3 L642.9,294.1 L642.1,293.9 L641.4,293.7 L640.7,293.5 L639.9,293.3 L639.2,293.1 L638.5,293.0 L637.8,292.8 L637.0,292.7 L636.3,292.6 L635.6,292.4 L634.9,292.3 L634.1,291.4 L633.4,290.3 L632.7,289.2 L632.0,288.1 L631.2,286.2 L630.5,284.4 L629.8,282.5 L629.1,280.6 L628.3,278.7 L627.6,276.7 L626.9,274.8 L626.2,272.8 L625.4,271.1 L624.7,270.1 L624.0,269.0 L623.3,268.0 L622.5,267.8 L621.8,268.4 L621.1,269.0 L620.4,269.7 L619.6,270.3 L618.9,270.9 L618.2,271.4 L617.5,271.7 L616.7,272.0 L616.0,272.3 L615.3,272.5 L614.5,272.8 L613.8,273.1 L613.1,273.4 L612.4,273.6 L611.6,273.9 L610.9,274.2 L610.2,274.5 L609.5,274.8 L608.7,274.8 L608.0,274.9 L607.3,274.9 L606.6,274.9 L605.8,274.9 L605.1,274.9 L604.4,274.9 L603.7,275.0 L602.9,275.0 L602.2,275.0 L601.5,275.0 L600.8,275.0 L600.0,275.1 L599.3,275.1 L598.6,275.1 L597.9,275.1 L597.1,275.1 L596.4,275.1 L595.7,275.2 L595.0,275.2 L594.2,275.2 L593.5,275.2 L592.8,275.2 L592.1,275.2 L591.3,275.2 L590.6,275.2 L589.9,275.2 L589.1,275.2 L588.4,275.2 L587.7,275.2 L587.0,275.2 L586.2,275.2 L585.5,275.2 L584.8,275.2 L584.1,275.2 L583.3,275.2 L582.6,275.2 L581.9,275.2 L581.2,275.2 L580.4,275.2 L579.7,275.2 L579.0,275.2 L578.3,275.2 L577.5,275.2 L576.8,275.2 L576.1,275.3 L575.4,275.5 L574.6,275.7 L573.9,275.8 L573.2,276.0 L572.5,276.2 L571.7,276.4 L571.0,276.5 L570.3,276.7 L569.6,276.9 L568.8,277.2 L568.1,277.5 L567.4,277.9 L566.7,278.2 L565.9,278.6 L565.2,278.9 L564.5,279.3 L563.7,279.6 L563.0,280.0 L562.3,280.3 L561.6,280.6 L560.8,280.7 L560.1,280.9 L559.4,281.1 L558.7,281.3 L557.9,281.5 L557.2,281.7 L556.5,281.9 L555.8,282.1 L555.0,282.3 L554.3,282.5 L553.6,282.7 L552.9,282.8 L552.1,282.7 L551.4,282.6 L550.7,282.5 L550.0,282.4 L549.2,282.3 L548.5,282.2 L547.8,282.1 L547.1,282.0 L546.3,281.9 L545.6,281.8 L544.9,281.7 L544.2,281.6 L543.4,281.5 L542.7,281.4 L542.0,281.3 L541.3,281.2 L540.5,281.1 L539.8,281.1 L539.1,281.1 L538.3,281.1 L537.6,281.1 L536.9,281.1 L536.2,281.1 L535.4,281.1 L534.7,281.1 L534.0,281.1 L533.3,281.1 L532.5,281.1 L531.8,281.1 L531.1,281.1 L530.4,281.1 L529.6,281.1 L528.9,281.1 L528.2,281.1 L527.5,281.1 L526.7,281.1 L526.0,281.1 L525.3,281.1 L524.6,281.1 L523.8,281.1 L523.1,281.1 L522.4,281.1 L521.7,281.1 L520.9,281.1 L520.2,281.1 L519.5,281.2 L518.8,281.2 L518.0,281.2 L517.3,281.2 L516.6,281.2 L515.9,281.2 L515.1,281.2 L514.4,281.3 L513.7,281.3 L512.9,281.3 L512.2,281.3 L511.5,281.3 L510.8,281.3 L510.0,281.3 L509.3,281.3 L508.6,281.4 L507.9,281.4 L507.1,281.4 L506.4,281.4 L505.7,281.4 L505.0,281.4 L504.2,281.4 L503.5,281.5 L502.8,281.6 L502.1,281.7 L501.3,281.8 L500.6,281.9 L499.9,282.1 L499.2,282.2 L498.4,282.3 L497.7,282.4 L497.0,282.5 L496.3,282.5 L495.5,282.4 L494.8,282.4 L494.1,282.4 L493.4,282.3 L492.6,282.3 L491.9,282.3 L491.2,282.2 L490.5,282.2 L489.7,282.2 L489.0,282.0 L488.3,281.7 L487.5,281.5 L486.8,281.2 L486.1,281.0 L485.4,280.7 L484.6,280.5 L483.9,280.2 L483.2,280.0 L482.5,279.7 L481.7,279.5 L481.0,279.2 L480.3,278.9 L479.6,278.2 L478.8,277.6 L478.1,277.0 L477.4,276.3 L476.7,275.7 L475.9,275.1 L475.2,274.5 L474.5,273.8 L473.8,273.2 L473.0,272.5 L472.3,271.6 L471.6,270.7 L470.9,269.8 L470.1,268.9 L469.4,268.2 L468.7,268.2 L468.0,268.2 L467.2,268.2 L466.5,268.2 L465.8,268.2 L465.1,268.2 L464.3,268.2 L463.6,268.2 L462.9,268.2 L462.1,268.6 L461.4,269.2 L460.7,269.8 L460.0,270.3 L459.2,270.9 L458.5,271.6 L457.8,272.5 L457.1,273.4 L456.3,274.3 L455.6,275.2 L454.9,276.1 L454.2,277.0 L453.4,277.9 L452.7,278.8 L452.0,279.7 L451.3,280.3 L450.5,280.9 L449.8,281.5 L449.1,282.0 L448.4,282.6 L447.6,283.2 L446.9,283.1 L446.2,283.1 L445.5,283.0 L444.7,282.9 L444.0,282.8 L443.3,282.8 L442.6,282.7 L441.8,282.6 L441.1,282.5 L440.4,282.5 L439.7,282.3 L438.9,282.1 L438.2,281.9 L437.5,281.7 L436.7,281.6 L436.0,281.4 L435.3,281.2 L434.6,281.0 L433.8,280.8 L433.1,280.8 L432.4,280.8 L431.7,280.9 L430.9,281.0 L430.2,281.0 L429.5,281.1 L428.8,281.2 L428.0,281.2 L427.3,281.3 L426.6,281.4 L425.9,281.4 L425.1,281.6 L424.4,282.0 L423.7,282.3 L423.0,282.7 L422.2,283.0 L421.5,283.4 L420.8,283.7 L420.1,284.0 L419.3,284.1 L418.6,284.3 L417.9,284.5 L417.2,284.6 L416.4,284.8 L415.7,285.0 L415.0,285.1 L414.3,285.3 L413.5,285.5 L412.8,285.7 L412.1,285.8 L411.3,286.0 L410.6,286.2 L409.9,286.3 L409.2,286.5 L408.4,286.7 L407.7,286.8 L407.0,287.0 L406.3,287.2 L405.5,287.3 L404.8,287.6 L404.1,287.8 L403.4,288.1 L402.6,288.3 L401.9,288.6 L401.2,288.8 L400.5,289.1 L399.7,289.3 L399.0,289.6 L398.3,289.8 L397.6,290.1 L396.8,290.3 L396.1,290.5 L395.4,290.8Z" fill="#d0d0d0"/>
<path d="M399.7,288.2h0.9M408.8,286.8h0.9M409.9,283.6h0.9M410.8,285.0h0.9M411.3,284.1h0.9M418.1,282.4h0.9M419.9,282.6h0.9M421.1,283.5h0.9M429.1,279.0h0.9M430.4,277.6h0.9M433.3,278.5h0.9M434.6,279.8h0.9M435.1,280.8h0.9M439.1,281.9h0.9M440.6,282.1h0.9M445.1,279.9h0.9M448.7,278.6h0.9M451.4,279.0h0.9M452.9,278.2h0.9M454.9,274.6h0.9M461.4,274.2h0.9M461.6,262.1h0.9M461.8,279.8h0.9M462.0,278.8h0.9M462.1,282.7h0.9M462.3,260.8h0.9M462.5,279.7h0.9M462.7,280.1h0.9M462.9,265.3h0.9M463.4,253.2h0.9M463.6,255.4h0.9M463.8,257.6h0.9M464.0,279.3h0.9M464.1,277.9h0.9M464.3,272.9h0.9M464.7,279.3h0.9M464.9,278.3h0.9M465.1,277.3h0.9M465.2,261.1h0.9M465.6,268.0h0.9M465.8,269.5h0.9M466.0,265.2h0.9M466.1,272.1h0.9M466.3,270.6h0.9M466.7,265.9h0.9M466.9,258.5h0.9M467.0,261.3h0.9M467.4,262.1h0.9M467.6,253.2h0.9M467.8,259.6h0.9M468.0,275.7h0.9M468.1,278.2h0.9M468.3,264.3h0.9M468.5,257.2h0.9M468.7,257.5h0.9M468.9,257.0h0.9M469.0,262.3h0.9M469.2,277.9h0.9M469.4,276.1h0.9M469.6,284.7h0.9M469.8,275.6h0.9M469.9,281.2h0.9M470.1,270.9h0.9M470.3,270.2h0.9M470.5,285.0h0.9M470.7,267.2h0.9M470.9,261.8h0.9M471.2,270.6h0.9M471.4,263.6h0.9M471.8,262.7h0.9M471.9,266.2h0.9M472.3,265.7h0.9M472.5,270.5h0.9M472.7,266.5h0.9M472.9,263.1h0.9M473.0,266.8h0.9M473.2,273.9h0.9M473.4,278.9h0.9M473.6,277.1h0.9M473.8,278.3h0.9M474.1,270.9h0.9M474.3,272.7h0.9M474.5,272.7h0.9M474.7,271.3h0.9M474.8,259.4h0.9M475.0,258.9h0.9M475.2,273.8h0.9M475.4,270.0h0.9M475.6,275.3h0.9M475.8,275.0h0.9M475.9,276.3h0.9M476.1,280.0h0.9M476.3,287.4h0.9M476.5,295.7h0.9M476.7,280.2h0.9M477.0,280.0h0.9M477.2,272.3h0.9M477.4,277.6h0.9M477.6,273.7h0.9M477.8,281.8h0.9M477.9,279.5h0.9M478.3,295.7h0.9M478.7,278.7h0.9M478.8,295.7h0.9M479.0,277.6h0.9M479.2,277.3h0.9M479.4,275.4h0.9M479.6,273.6h0.9M479.7,279.7h0.9M480.5,260.9h0.9M480.7,257.3h0.9M480.8,275.9h0.9M481.0,280.9h0.9M481.2,276.3h0.9M481.4,272.9h0.9M481.6,282.5h0.9M481.7,288.1h0.9M481.9,265.0h0.9M482.1,265.6h0.9M482.3,287.8h0.9M482.5,295.7h0.9M482.6,290.9h0.9M482.8,280.6h0.9M483.0,274.7h0.9M483.2,280.5h0.9M483.4,293.1h0.9M483.6,281.4h0.9M483.9,277.8h0.9M484.1,283.0h0.9M484.3,275.6h0.9M484.5,278.7h0.9M484.6,288.7h0.9M484.8,281.5h0.9M485.0,291.1h0.9M485.4,274.3h0.9M485.6,286.6h0.9M485.7,280.1h0.9M485.9,269.4h0.9M486.1,294.9h0.9M486.3,285.7h0.9M486.5,267.8h0.9M486.6,289.6h0.9M486.8,284.4h0.9M487.0,293.6h0.9M487.2,284.9h0.9M487.4,295.7h0.9M487.5,295.7h0.9M487.9,282.6h0.9M488.1,278.0h0.9M488.3,276.3h0.9M488.5,269.7h0.9M488.6,271.6h0.9M488.8,271.8h0.9M489.0,286.6h0.9M489.2,284.0h0.9M489.4,254.9h0.9M489.5,254.0h0.9M489.7,265.9h0.9M489.9,270.3h0.9M490.1,269.5h0.9M490.3,281.1h0.9M490.5,264.4h0.9M490.6,279.4h0.9M490.8,281.3h0.9M491.0,262.7h0.9M491.2,293.4h0.9M491.4,281.8h0.9M491.5,295.7h0.9M491.7,291.3h0.9M491.9,285.0h0.9M492.1,285.4h0.9M492.3,281.0h0.9M492.4,287.8h0.9M492.6,284.1h0.9M492.8,292.3h0.9M493.0,287.9h0.9M493.2,295.2h0.9M493.4,279.8h0.9M493.7,278.6h0.9M493.9,284.1h0.9M494.1,284.8h0.9M494.3,272.3h0.9M494.4,277.7h0.9M494.8,281.6h0.9M495.0,295.7h0.9M495.2,286.6h0.9M495.3,286.4h0.9M495.5,294.9h0.9M495.7,284.8h0.9M495.9,285.1h0.9M496.1,265.3h0.9M496.3,280.4h0.9M496.4,264.4h0.9M496.6,264.4h0.9M496.8,281.6h0.9M497.0,288.5h0.9M497.2,272.2h0.9M497.3,279.8h0.9M497.5,279.5h0.9M497.7,283.0h0.9M497.9,292.2h0.9M498.1,287.8h0.9M498.3,291.5h0.9M498.4,295.7h0.9M498.6,288.6h0.9M498.8,268.0h0.9M499.0,263.2h0.9M499.2,276.3h0.9M499.5,275.9h0.9M500.1,283.1h0.9M500.2,285.0h0.9M500.4,272.3h0.9M500.6,255.8h0.9M500.8,278.8h0.9M501.0,295.7h0.9M501.2,279.0h0.9M501.3,280.9h0.9M501.7,269.7h0.9M501.9,276.8h0.9M502.1,291.0h0.9M502.4,287.1h0.9M502.6,292.6h0.9M503.0,292.0h0.9M503.3,295.2h0.9M503.7,286.6h0.9M503.9,277.1h0.9M504.2,278.2h0.9M504.4,287.2h0.9M504.6,265.5h0.9M504.8,272.8h0.9M505.0,272.8h0.9M505.3,265.5h0.9M505.5,267.1h0.9M505.7,270.5h0.9M505.9,270.7h0.9M506.1,284.9h0.9M506.2,287.0h0.9M506.4,283.3h0.9M506.6,280.4h0.9M507.0,277.6h0.9M507.3,283.7h0.9M507.5,295.4h0.9M507.7,277.6h0.9M507.9,274.4h0.9M508.0,286.2h0.9M508.2,277.7h0.9M508.4,276.1h0.9M508.6,278.4h0.9M508.8,295.7h0.9M509.0,295.4h0.9M509.1,290.0h0.9M509.3,269.2h0.9M509.7,284.5h0.9M509.9,291.2h0.9M510.4,295.7h0.9M510.6,295.7h0.9M510.8,283.5h0.9M511.0,280.9h0.9M511.1,285.7h0.9M511.3,273.4h0.9M511.5,269.8h0.9M511.7,295.3h0.9M511.9,286.2h0.9M512.0,272.4h0.9M512.2,283.7h0.9M512.4,284.0h0.9M512.6,273.0h0.9M512.9,290.7h0.9M513.3,294.5h0.9M513.5,279.7h0.9M513.7,295.0h0.9M513.9,275.9h0.9M514.0,293.2h0.9M514.4,294.0h0.9M514.6,287.1h0.9M514.9,268.4h0.9M515.1,265.3h0.9M515.3,276.5h0.9M515.5,278.1h0.9M515.7,277.5h0.9M515.9,274.0h0.9M516.0,281.8h0.9M516.2,271.1h0.9M516.6,268.5h0.9M516.9,271.9h0.9M517.1,284.0h0.9M517.5,292.8h0.9M517.7,286.5h0.9M517.8,283.6h0.9M518.0,273.9h0.9M518.2,289.2h0.9M518.6,273.5h0.9M518.8,267.2h0.9M518.9,267.2h0.9M519.1,295.7h0.9M519.3,287.8h0.9M519.5,269.6h0.9M520.0,287.7h0.9M520.2,286.4h0.9M520.4,280.0h0.9M520.6,295.7h0.9M520.7,283.2h0.9M520.9,286.6h0.9M521.1,288.6h0.9M521.3,276.5h0.9M521.5,253.2h0.9M521.7,267.6h0.9M521.8,271.5h0.9M522.0,277.9h0.9M522.2,285.7h0.9M522.4,279.5h0.9M522.7,274.4h0.9M522.9,270.6h0.9M523.1,279.2h0.9M523.3,257.8h0.9M523.5,287.8h0.9M523.7,277.3h0.9M523.8,274.5h0.9M524.0,276.1h0.9M524.2,288.6h0.9M524.4,292.6h0.9M524.6,285.9h0.9M524.7,281.0h0.9M524.9,290.9h0.9M525.1,292.6h0.9M525.3,279.0h0.9M525.5,270.8h0.9M525.6,282.2h0.9M525.8,286.8h0.9M526.0,288.5h0.9M526.2,261.0h0.9M526.6,277.7h0.9M526.7,270.6h0.9M527.1,263.1h0.9M527.3,287.5h0.9M527.5,283.1h0.9M527.8,284.5h0.9M528.2,287.2h0.9M528.4,291.7h0.9M528.6,280.7h0.9M528.7,279.9h0.9M528.9,292.4h0.9M529.1,295.7h0.9M529.3,289.9h0.9M529.5,277.4h0.9M529.8,279.2h0.9M530.0,295.7h0.9M530.2,293.1h0.9M530.4,290.5h0.9M530.5,286.2h0.9M530.7,292.7h0.9M530.9,287.7h0.9M531.1,288.3h0.9M531.3,258.9h0.9M531.5,267.7h0.9M531.6,278.1h0.9M531.8,280.0h0.9M532.0,281.2h0.9M532.2,278.9h0.9M532.4,283.3h0.9M532.7,271.6h0.9M532.9,270.4h0.9M533.1,274.6h0.9M533.3,266.9h0.9M533.4,274.2h0.9M533.8,295.7h0.9M534.5,270.1h0.9M534.7,282.2h0.9M535.1,275.8h0.9M535.3,268.6h0.9M535.4,280.9h0.9M535.6,277.5h0.9M535.8,267.4h0.9M536.0,273.6h0.9M536.2,278.7h0.9M536.4,295.7h0.9M536.5,273.9h0.9M536.7,272.7h0.9M536.9,276.9h0.9M537.1,283.3h0.9M537.3,292.0h0.9M537.6,282.5h0.9M537.8,271.3h0.9M538.2,270.0h0.9M538.3,276.8h0.9M538.5,268.8h0.9M538.7,285.3h0.9M538.9,278.7h0.9M539.1,269.1h0.9M539.4,291.7h0.9M539.6,286.6h0.9M539.8,277.4h0.9M540.0,291.6h0.9M540.2,295.7h0.9M540.5,289.4h0.9M540.7,277.0h0.9M540.9,289.6h0.9M541.1,295.7h0.9M541.3,292.8h0.9M541.4,271.1h0.9M541.6,285.1h0.9M541.8,281.9h0.9M542.0,278.7h0.9M542.2,288.2h0.9M542.3,273.3h0.9M542.5,276.8h0.9M542.7,275.5h0.9M543.1,295.7h0.9M543.2,295.7h0.9M543.4,291.2h0.9M543.6,285.8h0.9M544.0,266.3h0.9M544.2,278.6h0.9M544.3,282.4h0.9M544.5,277.3h0.9M544.7,266.4h0.9M545.2,281.6h0.9M545.4,284.0h0.9M545.8,286.0h0.9M546.0,291.8h0.9M546.1,278.4h0.9M546.3,280.4h0.9M546.5,283.1h0.9M546.9,277.3h0.9M547.1,283.2h0.9M547.2,275.1h0.9M547.4,275.7h0.9M547.6,266.6h0.9M547.8,265.8h0.9M548.0,269.1h0.9M548.1,279.4h0.9M548.3,279.7h0.9M548.5,286.0h0.9M548.7,257.8h0.9M548.9,276.2h0.9M549.1,275.0h0.9M549.2,267.6h0.9M549.4,289.1h0.9M549.6,290.9h0.9M549.8,287.7h0.9M550.1,295.7h0.9M550.3,290.3h0.9M550.5,272.9h0.9M550.9,278.6h0.9M551.2,295.7h0.9M551.4,279.8h0.9M551.6,277.4h0.9M552.0,282.3h0.9M552.3,286.8h0.9M552.5,291.9h0.9M552.7,290.7h0.9M552.9,292.7h0.9M553.0,281.1h0.9M553.2,278.4h0.9M553.4,277.9h0.9M553.6,282.1h0.9M553.8,285.3h0.9M554.0,264.9h0.9M554.1,292.8h0.9M554.3,274.4h0.9M554.5,276.2h0.9M554.7,279.2h0.9M554.9,285.1h0.9M555.0,284.3h0.9M555.4,295.7h0.9M555.6,286.8h0.9M556.1,270.5h0.9M556.5,295.7h0.9M556.7,284.9h0.9M556.9,280.2h0.9M557.0,279.6h0.9M557.2,276.7h0.9M557.4,272.9h0.9M557.8,262.0h0.9M558.1,271.2h0.9M558.3,291.7h0.9M558.5,284.9h0.9M558.7,292.3h0.9M559.0,257.3h0.9M559.2,268.5h0.9M559.6,283.4h0.9M559.8,280.7h0.9M560.1,269.9h0.9M560.3,268.5h0.9M560.5,295.7h0.9M560.7,273.7h0.9M560.8,282.2h0.9M561.0,285.2h0.9M561.4,278.6h0.9M561.6,291.1h0.9M561.8,294.5h0.9M562.1,272.6h0.9M562.7,282.2h0.9M562.8,265.8h0.9M563.0,278.9h0.9M563.4,272.8h0.9M563.7,279.4h0.9M563.9,276.1h0.9M564.3,285.2h0.9M564.5,281.4h0.9M564.7,284.7h0.9M564.8,277.3h0.9M565.0,277.0h0.9M565.2,279.8h0.9M565.4,280.1h0.9M565.6,280.3h0.9M565.7,263.2h0.9M565.9,273.2h0.9M566.1,281.3h0.9M566.3,281.0h0.9M566.5,272.6h0.9M566.8,278.5h0.9M567.0,279.6h0.9M567.4,273.2h0.9M567.7,289.4h0.9M567.9,289.6h0.9M568.1,295.7h0.9M568.5,266.9h0.9M568.8,270.6h0.9M569.0,264.3h0.9M569.2,272.7h0.9M569.4,275.9h0.9M569.6,289.2h0.9M569.9,284.1h0.9M570.1,270.2h0.9M570.3,259.5h0.9M570.5,274.8h0.9M570.6,272.1h0.9M570.8,272.0h0.9M571.0,281.1h0.9M571.2,292.1h0.9M571.4,286.9h0.9M571.5,291.3h0.9M571.7,282.8h0.9M572.1,277.8h0.9M572.3,277.4h0.9M572.5,271.6h0.9M572.6,282.1h0.9M572.8,269.4h0.9M573.0,287.8h0.9M573.2,278.2h0.9M573.4,272.5h0.9M573.7,290.5h0.9M573.9,273.9h0.9M574.1,280.3h0.9M574.5,266.4h0.9M574.6,272.2h0.9M574.8,273.8h0.9M575.0,265.7h0.9M575.2,268.6h0.9M575.4,280.8h0.9M575.7,269.7h0.9M575.9,271.1h0.9M576.1,271.7h0.9M576.3,274.7h0.9M576.4,275.3h0.9M576.6,282.6h0.9M576.8,289.1h0.9M577.0,268.8h0.9M577.2,278.1h0.9M577.7,276.6h0.9M577.9,282.0h0.9M578.3,275.9h0.9M578.4,283.0h0.9M578.6,268.6h0.9M578.8,262.6h0.9M579.0,288.9h0.9M579.2,276.4h0.9M579.4,267.2h0.9M579.5,282.7h0.9M579.9,277.7h0.9M580.1,283.9h0.9M580.3,280.1h0.9M580.6,287.9h0.9M580.8,258.9h0.9M581.0,273.5h0.9M581.2,280.4h0.9M581.3,268.6h0.9M581.5,273.1h0.9M581.7,262.3h0.9M581.9,272.9h0.9M582.1,270.7h0.9M582.3,272.3h0.9M582.4,272.1h0.9M582.6,275.3h0.9M582.8,275.4h0.9M583.0,260.0h0.9M583.2,275.8h0.9M583.3,279.4h0.9M583.5,278.7h0.9M583.7,270.6h0.9M583.9,269.6h0.9M584.1,264.7h0.9M584.3,282.9h0.9M584.4,274.5h0.9M584.6,275.8h0.9M585.0,273.6h0.9M585.2,291.0h0.9M585.5,273.7h0.9M585.7,286.4h0.9M585.9,278.6h0.9M586.1,262.1h0.9M586.4,268.9h0.9M586.6,274.5h0.9M586.8,281.3h0.9M587.2,280.6h0.9M587.3,264.9h0.9M587.5,264.3h0.9M587.9,266.5h0.9M588.1,272.9h0.9M588.2,279.7h0.9M588.6,281.4h0.9M588.8,289.9h0.9M589.0,267.7h0.9M589.1,288.0h0.9M589.3,273.6h0.9M589.5,287.1h0.9M589.7,278.3h0.9M589.9,277.1h0.9M590.1,278.8h0.9M590.6,276.6h0.9M590.8,282.6h0.9M591.0,277.3h0.9M591.1,266.5h0.9M591.3,278.0h0.9M591.5,273.1h0.9M591.9,273.7h0.9M592.2,253.2h0.9M592.4,259.4h0.9M592.6,266.0h0.9M592.8,259.5h0.9M593.0,278.3h0.9M593.1,266.1h0.9M593.3,276.4h0.9M593.5,280.1h0.9M593.7,266.5h0.9M593.9,269.8h0.9M594.0,261.4h0.9M594.2,282.7h0.9M594.4,274.3h0.9M594.6,278.7h0.9M594.8,277.8h0.9M595.0,291.6h0.9M595.1,271.3h0.9M595.3,271.4h0.9M595.5,281.7h0.9M595.7,287.9h0.9M595.9,285.6h0.9M596.0,265.5h0.9M596.2,272.3h0.9M596.4,276.4h0.9M596.8,272.8h0.9M597.0,271.6h0.9M597.1,266.9h0.9M597.3,269.0h0.9M597.5,264.9h0.9M597.7,281.4h0.9M598.0,277.5h0.9M598.4,274.3h0.9M598.6,279.4h0.9M598.8,278.5h0.9M598.9,267.1h0.9M599.3,285.3h0.9M599.5,272.2h0.9M600.0,272.6h0.9M600.2,280.6h0.9M600.4,277.5h0.9M600.6,265.4h0.9M600.9,269.6h0.9M601.3,288.0h0.9M601.5,275.3h0.9M601.7,270.2h0.9M601.8,263.6h0.9M602.0,253.4h0.9M602.2,264.4h0.9M602.4,262.7h0.9M602.6,279.9h0.9M602.8,265.2h0.9M603.1,259.0h0.9M603.5,266.7h0.9M603.7,258.9h0.9M603.8,274.8h0.9M604.0,268.4h0.9M604.4,277.0h0.9M604.8,273.1h0.9M604.9,272.3h0.9M605.1,267.9h0.9M605.3,266.3h0.9M605.5,277.8h0.9M605.8,263.4h0.9M606.0,273.4h0.9M606.2,275.8h0.9M606.4,283.7h0.9M606.6,269.5h0.9M606.7,255.6h0.9M606.9,279.7h0.9M607.3,264.3h0.9M607.7,277.1h0.9M607.8,283.3h0.9M608.0,283.0h0.9M608.2,274.8h0.9M608.4,268.2h0.9M608.6,270.8h0.9M608.7,265.3h0.9M609.1,281.9h0.9M609.3,263.5h0.9M609.5,260.2h0.9M609.7,275.2h0.9M609.8,258.6h0.9M610.0,264.6h0.9M610.2,269.3h0.9M610.4,255.4h0.9M610.7,291.1h0.9M611.1,274.4h0.9M611.3,281.0h0.9M611.5,262.1h0.9M611.6,265.1h0.9M611.8,280.9h0.9M612.0,280.3h0.9M612.2,267.3h0.9M612.4,255.4h0.9M612.6,283.9h0.9M612.7,273.3h0.9M612.9,275.4h0.9M613.1,287.6h0.9M613.3,277.8h0.9M613.5,287.0h0.9M613.8,260.4h0.9M614.0,263.6h0.9M614.2,262.3h0.9M614.4,263.4h0.9M614.5,265.7h0.9M614.7,261.1h0.9M614.9,277.9h0.9M615.1,276.0h0.9M615.3,265.0h0.9M615.5,275.2h0.9M615.6,275.7h0.9M615.8,261.8h0.9M616.0,254.8h0.9M616.2,270.8h0.9M616.4,277.4h0.9M616.5,267.4h0.9M616.7,267.0h0.9M616.9,274.8h0.9M617.1,266.4h0.9M617.3,264.1h0.9M617.5,267.4h0.9M618.0,256.9h0.9M618.2,257.0h0.9M618.4,253.2h0.9M618.5,253.2h0.9M618.7,269.9h0.9M618.9,266.5h0.9M619.1,267.5h0.9M619.3,273.1h0.9M619.6,266.0h0.9M619.8,268.0h0.9M620.0,272.1h0.9M620.2,262.1h0.9M620.4,279.6h0.9M620.5,264.1h0.9M620.7,266.3h0.9M620.9,264.6h0.9M621.1,286.6h0.9M621.3,258.5h0.9M621.4,279.0h0.9M621.8,264.3h0.9M622.0,270.9h0.9M622.2,271.0h0.9M622.4,286.5h0.9M622.5,275.8h0.9M622.7,266.9h0.9M622.9,260.1h0.9M623.1,266.7h0.9M623.3,264.5h0.9M623.4,262.1h0.9M623.6,271.1h0.9M624.0,253.2h0.9M624.2,267.8h0.9M624.7,268.5h0.9M624.9,269.2h0.9M625.6,270.1h0.9M625.8,269.9h0.9M626.0,271.1h0.9M626.3,271.5h0.9M627.4,275.1h0.9M628.2,276.2h0.9M628.5,277.9h0.9M628.7,278.9h0.9M629.2,280.2h0.9M629.6,280.7h0.9M630.3,282.9h0.9M630.5,283.0h0.9M630.7,282.7h0.9M631.1,284.2h0.9M631.8,286.2h0.9M632.1,287.1h0.9M632.3,287.1h0.9M632.5,287.5h0.9M632.7,287.8h0.9M633.2,289.0h0.9M633.4,288.6h0.9M633.6,289.3h0.9M634.1,289.4h0.9M634.3,290.1h0.9M634.5,290.1h0.9M635.1,291.4h0.9M635.2,291.7h0.9M635.4,291.3h0.9M635.8,290.6h0.9M636.0,291.1h0.9M636.3,291.1h0.9M637.2,291.5h0.9M637.6,290.8h0.9M638.0,291.3h0.9M638.3,290.7h0.9M638.9,290.9h0.9M639.0,291.3h0.9M639.2,291.5h0.9M640.3,291.9h0.9M640.7,292.2h0.9M640.9,292.4h0.9M641.0,291.7h0.9M641.6,292.9h0.9M641.9,291.9h0.9M642.3,292.4h0.9M643.0,293.0h0.9M643.2,292.9h0.9M643.4,292.8h0.9M643.6,292.3h0.9M643.9,292.9h0.9M644.1,293.0h0.9M644.3,293.6h0.9M644.5,293.1h0.9M645.2,293.6h0.9M645.9,293.5h0.9M646.5,294.1h0.9M646.7,294.0h0.9M647.2,294.8h0.9" stroke="#1a1a1a" stroke-width="0.9" fill="none"/>
<path d="M395.3,292.4 L399.5,290.0 L405.0,286.6 M405.6,286.0 L409.5,283.0 L412.6,280.3 M413.6,287.6 L418.5,286.8 L423.6,285.7 M424.0,277.9 L426.5,277.0 L428.5,277.6 L430.8,276.6 M430.6,284.9 L433.5,284.4 L436.6,284.2 M437.4,276.8 L438.5,275.6 L439.3,277.0 L440.2,276.0 M447.0,273.8 L447.6,275.5 L448.3,276.4 M442.0,284.3 L444.8,283.6 L447.2,282.8 M449.0,282.5 L451.8,279.8 L454.2,277.2 M454.6,269.2 L457.0,267.6 L459.0,265.6 L461.2,264.0 M396.0,287.0 L396.3,285.0" stroke="#111" stroke-width="1.15" fill="none" stroke-linecap="round"/>
<path d="M403.5,298.6h0.9 M437.4,300.1h0.9 M459.6,300.6h0.9 M462.2,300.0h0.9" stroke="#111" stroke-width="0.9"/>
<path d="M395.2,289.5 L395.7,289.3 L396.3,289.1 L396.8,288.9 L397.4,288.7 L397.9,288.5 L398.5,288.3 L399.0,288.2 L399.6,288.0 L400.1,287.8 L400.6,287.6 L401.2,287.4 L401.7,287.2 L402.3,287.0 L402.8,286.9 L403.4,286.7 L403.9,286.5 L404.5,286.3 L405.0,286.1 L405.5,285.9 L406.1,285.8 L406.6,285.7 L407.2,285.6 L407.7,285.4 L408.3,285.3 L408.8,285.2 L409.4,285.1 L409.9,284.9 L410.4,284.8 L411.0,284.7 L411.5,284.6 L412.1,284.4 L412.6,284.3 L413.2,284.2 L413.7,284.0 L414.3,283.9 L414.8,283.8 L415.3,283.7 L415.9,283.5 L416.4,283.4 L417.0,283.3 L417.5,283.2 L418.1,283.0 L418.6,282.9 L419.1,282.8 L419.7,282.7 L420.2,282.5 L420.8,282.3 L421.3,282.1 L421.9,281.8 L422.4,281.5 L423.0,281.3 L423.5,281.0 L424.0,280.8 L424.6,280.5 L425.1,280.2 L425.7,280.0 L426.2,280.0 L426.8,279.9 L427.3,279.9 L427.9,279.9 L428.4,279.8 L428.9,279.8 L429.5,279.7 L430.0,279.7 L430.6,279.6 L431.1,279.6 L431.7,279.5 L432.2,279.5 L432.8,279.4 L433.3,279.4 L433.8,279.4 L434.4,279.6 L434.9,279.7 L435.5,279.9 L436.0,280.0 L436.6,280.1 L437.1,280.3 L437.7,280.4 L438.2,280.5 L438.7,280.7 L439.3,280.8 L439.8,280.9 L440.4,281.1 L440.9,281.1 L441.5,281.2 L442.0,281.2 L442.6,281.3 L443.1,281.4 L443.6,281.4 L444.2,281.5 L444.7,281.5 L445.3,281.6 L445.8,281.6 L446.4,281.7 L446.9,281.7 L447.5,281.8 L448.0,281.5 L448.5,281.1 L449.1,280.6 L449.6,280.2 L450.2,279.8 L450.7,279.3 L451.3,278.9 L451.8,278.5 L452.4,277.9 L452.9,277.2 L453.4,276.5 L454.0,275.8 L454.5,275.1 L455.1,274.5 L455.6,273.8 L456.2,273.1 L456.7,272.4 L457.2,271.8 L457.8,271.1 L458.3,270.4 L458.9,269.8 L459.4,269.4 L460.0,269.0 L460.5,268.5 L461.1,268.1 L461.6,267.7 L462.1,267.2 L462.7,266.8 L463.2,266.8 L463.8,266.8 L464.3,266.8 L464.9,266.8 L465.4,266.8 L466.0,266.8 L466.5,266.8 L467.0,266.8 L467.6,266.8 L468.1,266.8 L468.7,266.8 L469.2,266.8 L469.8,267.0 L470.3,267.7 L470.9,268.4 L471.4,269.1 L471.9,269.8 L472.5,270.4 L473.0,271.1 L473.6,271.7 L474.1,272.1 L474.7,272.6 L475.2,273.1 L475.8,273.5 L476.3,274.0 L476.8,274.5 L477.4,275.0 L477.9,275.4 L478.5,275.9 L479.0,276.4 L479.6,276.8 L480.1,277.3 L480.7,277.7 L481.2,277.9 L481.7,278.1 L482.3,278.2 L482.8,278.4 L483.4,278.6 L483.9,278.8 L484.5,279.0 L485.0,279.2 L485.6,279.4 L486.1,279.6 L486.6,279.7 L487.2,279.9 L487.7,280.1 L488.3,280.3 L488.8,280.5 L489.4,280.7 L489.9,280.8 L490.5,280.8 L491.0,280.8 L491.5,280.8 L492.1,280.9 L492.6,280.9 L493.2,280.9 L493.7,281.0 L494.3,281.0 L494.8,281.0 L495.3,281.0 L495.9,281.1 L496.4,281.1 L497.0,281.1 L497.5,281.0 L498.1,280.9 L498.6,280.8 L499.2,280.8 L499.7,280.7 L500.2,280.6 L500.8,280.5 L501.3,280.4 L501.9,280.4 L502.4,280.3 L503.0,280.2 L503.5,280.1 L504.1,280.1 L504.6,280.0 L505.1,280.0 L505.7,280.0 L506.2,280.0 L506.8,280.0 L507.3,280.0 L507.9,280.0 L508.4,280.0 L509.0,280.0 L509.5,280.0 L510.0,279.9 L510.6,279.9 L511.1,279.9 L511.7,279.9 L512.2,279.9 L512.8,279.9 L513.3,279.9 L513.9,279.9 L514.4,279.9 L514.9,279.8 L515.5,279.8 L516.0,279.8 L516.6,279.8 L517.1,279.8 L517.7,279.8 L518.2,279.8 L518.8,279.8 L519.3,279.8 L519.8,279.8 L520.4,279.7 L520.9,279.7 L521.5,279.7 L522.0,279.7 L522.6,279.7 L523.1,279.7 L523.7,279.7 L524.2,279.7 L524.7,279.7 L525.3,279.7 L525.8,279.7 L526.4,279.7 L526.9,279.7 L527.5,279.7 L528.0,279.7 L528.6,279.7 L529.1,279.7 L529.6,279.7 L530.2,279.7 L530.7,279.7 L531.3,279.7 L531.8,279.7 L532.4,279.7 L532.9,279.7 L533.4,279.7 L534.0,279.7 L534.5,279.7 L535.1,279.7 L535.6,279.7 L536.2,279.7 L536.7,279.7 L537.3,279.7 L537.8,279.7 L538.3,279.7 L538.9,279.7 L539.4,279.7 L540.0,279.7 L540.5,279.7 L541.1,279.8 L541.6,279.9 L542.2,280.0 L542.7,280.0 L543.2,280.1 L543.8,280.2 L544.3,280.3 L544.9,280.3 L545.4,280.4 L546.0,280.5 L546.5,280.6 L547.1,280.6 L547.6,280.7 L548.1,280.8 L548.7,280.9 L549.2,280.9 L549.8,281.0 L550.3,281.1 L550.9,281.2 L551.4,281.2 L552.0,281.3 L552.5,281.4 L553.0,281.5 L553.6,281.3 L554.1,281.2 L554.7,281.0 L555.2,280.9 L555.8,280.7 L556.3,280.6 L556.9,280.4 L557.4,280.3 L557.9,280.1 L558.5,280.0 L559.0,279.8 L559.6,279.7 L560.1,279.5 L560.7,279.4 L561.2,279.3 L561.8,279.1 L562.3,278.9 L562.8,278.7 L563.4,278.4 L563.9,278.1 L564.5,277.9 L565.0,277.6 L565.6,277.4 L566.1,277.1 L566.7,276.8 L567.2,276.6 L567.7,276.3 L568.3,276.0 L568.8,275.8 L569.4,275.5 L569.9,275.4 L570.5,275.3 L571.0,275.1 L571.5,275.0 L572.1,274.9 L572.6,274.7 L573.2,274.6 L573.7,274.5 L574.3,274.3 L574.8,274.2 L575.4,274.1 L575.9,274.0 L576.4,273.8 L577.0,273.8 L577.5,273.8 L578.1,273.8 L578.6,273.8 L579.2,273.8 L579.7,273.8 L580.3,273.8 L580.8,273.8 L581.3,273.8 L581.9,273.8 L582.4,273.8 L583.0,273.8 L583.5,273.8 L584.1,273.8 L584.6,273.8 L585.2,273.8 L585.7,273.8 L586.2,273.8 L586.8,273.8 L587.3,273.8 L587.9,273.8 L588.4,273.8 L589.0,273.8 L589.5,273.8 L590.1,273.8 L590.6,273.8 L591.1,273.8 L591.7,273.8 L592.2,273.8 L592.8,273.8 L593.3,273.8 L593.9,273.8 L594.4,273.8 L595.0,273.8 L595.5,273.8 L596.0,273.8 L596.6,273.7 L597.1,273.7 L597.7,273.7 L598.2,273.7 L598.8,273.7 L599.3,273.7 L599.9,273.7 L600.4,273.6 L600.9,273.6 L601.5,273.6 L602.0,273.6 L602.6,273.6 L603.1,273.6 L603.7,273.6 L604.2,273.6 L604.8,273.5 L605.3,273.5 L605.8,273.5 L606.4,273.5 L606.9,273.5 L607.5,273.5 L608.0,273.5 L608.6,273.5 L609.1,273.4 L609.7,273.3 L610.2,273.1 L610.7,272.9 L611.3,272.7 L611.8,272.5 L612.4,272.3 L612.9,272.0 L613.5,271.8 L614.0,271.6 L614.5,271.4 L615.1,271.2 L615.6,271.0 L616.2,270.8 L616.7,270.6 L617.3,270.4 L617.8,270.2 L618.4,269.9 L618.9,269.5 L619.4,269.0 L620.0,268.6 L620.5,268.1 L621.1,267.6 L621.6,267.2 L622.2,266.7 L622.7,266.3 L623.3,266.6 L623.8,267.4 L624.3,268.2 L624.9,268.9 L625.4,269.7 L626.0,270.9 L626.5,272.4 L627.1,273.9 L627.6,275.3 L628.2,276.8 L628.7,278.2 L629.2,279.7 L629.8,281.1 L630.3,282.5 L630.9,283.9 L631.4,285.3 L632.0,286.7 L632.5,287.5 L633.1,288.4 L633.6,289.2 L634.1,290.0 L634.7,290.9 L635.2,291.0 L635.8,291.1 L636.3,291.2 L636.9,291.3 L637.4,291.4 L638.0,291.5 L638.5,291.6 L639.0,291.7 L639.6,291.8 L640.1,291.9 L640.7,292.1 L641.2,292.2 L641.8,292.4 L642.3,292.5 L642.9,292.7 L643.4,292.9 L643.9,293.0 L644.5,293.2 L645.0,293.4 L645.6,293.5 L646.1,293.7 L646.7,293.8 L647.2,294.0" fill="none" stroke="#3a3a3a" stroke-width="0.6"/>
<path d="M622.0,266.9 L622.4,266.6 L622.7,266.3 L623.1,266.4 L623.4,266.9 L623.8,267.4 L624.2,267.9 L624.5,268.4 L624.9,268.9 L625.3,269.4 L625.6,269.9 L626.0,270.9 L626.3,271.9 L626.7,272.9 L627.1,273.9 L627.4,274.8 L627.8,275.8 L628.2,276.8 L628.5,277.8 L628.9,278.7 L629.2,279.7 L629.6,280.6 L630.0,281.6 L630.3,282.5 L630.7,283.4 L631.1,284.4 L631.4,285.3 L631.8,286.2 L632.1,287.0 L632.5,287.5 L632.9,288.1 L633.2,288.6 L633.6,289.2 L634.0,289.7 L634.3,290.3 L634.7,290.9 L635.1,290.9 L635.4,291.0 L635.8,291.1 L636.1,291.1 L636.5,291.2 L636.9,291.3 L637.2,291.3 L637.6,291.4 L638.0,291.5 L638.3,291.6 L638.7,291.6 L639.0,291.7 L639.4,291.8 L639.8,291.8 L640.1,291.9 L640.5,292.0 L640.9,292.1 L641.2,292.2 L641.6,292.3 L641.9,292.4 L642.3,292.5 L642.7,292.7 L643.0,292.8 L643.4,292.9 L643.8,293.0 L644.1,293.1 L644.5,293.2 L644.8,293.3 L645.2,293.4 L645.6,293.5 L645.9,293.6 L646.3,293.7 L646.7,293.8 L647.0,293.9" fill="none" stroke="#222" stroke-width="0.75"/>
<rect x="461.2" y="249.9" width="40.6" height="54.2" fill="#87ceeb" opacity="0.35"/>
<rect x="382.5" y="249.5" width="277.0" height="55.0" fill="none" stroke="#5a5a5a" stroke-width="0.85"/>
<text x="378.30" y="306.70" font-size="4.7" text-anchor="end" fill="#222" textLength="7.31" lengthAdjust="spacingAndGlyphs">0.0</text>
<text x="378.30" y="292.76" font-size="4.7" text-anchor="end" fill="#222" textLength="7.31" lengthAdjust="spacingAndGlyphs">0.2</text>
<text x="378.30" y="278.82" font-size="4.7" text-anchor="end" fill="#222" textLength="7.31" lengthAdjust="spacingAndGlyphs">0.4</text>
<text x="378.30" y="264.88" font-size="4.7" text-anchor="end" fill="#222" textLength="7.31" lengthAdjust="spacingAndGlyphs">0.6</text>
<text x="395.20" y="312.50" font-size="4.7" text-anchor="middle" fill="#222" textLength="2.99" lengthAdjust="spacingAndGlyphs">0</text>
<text x="431.49" y="312.50" font-size="4.7" text-anchor="middle" fill="#222" textLength="8.97" lengthAdjust="spacingAndGlyphs">200</text>
<text x="467.77" y="312.50" font-size="4.7" text-anchor="middle" fill="#222" textLength="8.97" lengthAdjust="spacingAndGlyphs">400</text>
<text x="504.06" y="312.50" font-size="4.7" text-anchor="middle" fill="#222" textLength="8.97" lengthAdjust="spacingAndGlyphs">600</text>
<text x="540.34" y="312.50" font-size="4.7" text-anchor="middle" fill="#222" textLength="8.97" lengthAdjust="spacingAndGlyphs">800</text>
<text x="576.63" y="312.50" font-size="4.7" text-anchor="middle" fill="#222" textLength="11.96" lengthAdjust="spacingAndGlyphs">1000</text>
<text x="612.92" y="312.50" font-size="4.7" text-anchor="middle" fill="#222" textLength="11.96" lengthAdjust="spacingAndGlyphs">1200</text>
<text x="649.20" y="312.50" font-size="4.7" text-anchor="middle" fill="#222" textLength="11.96" lengthAdjust="spacingAndGlyphs">1400</text>
<text x="474.00" y="246.60" font-size="6.5" fill="#222" textLength="95.00" lengthAdjust="spacingAndGlyphs" stroke="#222" stroke-width="0.16">Heterozygosity (r: 0.21, p: 0.00)</text>
<path d="M395.2,376.8 L395.9,376.8 L396.7,376.8 L397.4,376.8 L398.1,376.8 L398.8,376.8 L399.6,376.8 L400.3,376.8 L401.0,376.8 L401.7,376.7 L402.5,376.7 L403.2,376.7 L403.9,376.7 L404.6,376.7 L405.4,376.7 L406.1,376.7 L406.8,376.7 L407.5,376.7 L408.3,376.7 L409.0,376.7 L409.7,376.7 L410.4,376.7 L411.2,376.7 L411.9,376.7 L412.6,376.7 L413.3,376.7 L414.1,376.7 L414.8,376.7 L415.5,376.7 L416.2,376.7 L417.0,376.7 L417.7,376.7 L418.4,376.7 L419.1,376.7 L419.9,376.7 L420.6,376.7 L421.3,376.7 L422.1,376.7 L422.8,376.6 L423.5,376.6 L424.2,376.6 L425.0,376.6 L425.7,376.6 L426.4,376.6 L427.1,376.6 L427.9,376.6 L428.6,376.6 L429.3,376.6 L430.0,376.6 L430.8,376.6 L431.5,376.6 L432.2,376.6 L432.9,376.6 L433.7,376.6 L434.4,376.6 L435.1,376.6 L435.8,376.6 L436.6,376.6 L437.3,376.6 L438.0,376.6 L438.7,376.6 L439.5,376.6 L440.2,376.6 L440.9,376.6 L441.6,376.6 L442.4,376.6 L443.1,376.5 L443.8,376.5 L444.5,376.5 L445.3,376.5 L446.0,376.5 L446.7,376.5 L447.5,376.5 L448.2,376.5 L448.9,376.5 L449.6,376.5 L450.4,376.5 L451.1,376.5 L451.8,376.5 L452.5,376.5 L453.3,376.5 L454.0,375.9 L454.7,375.4 L455.4,374.8 L456.2,374.2 L456.9,373.6 L457.6,372.9 L458.3,372.2 L459.1,371.5 L459.8,370.9 L460.5,370.2 L461.2,369.6 L462.0,369.1 L462.7,368.5 L463.4,368.0 L464.1,367.4 L464.9,366.8 L465.6,366.3 L466.3,365.7 L467.0,365.2 L467.8,364.6 L468.5,364.4 L469.2,364.2 L469.9,363.9 L470.7,363.7 L471.4,363.5 L472.1,363.3 L472.9,363.0 L473.6,362.8 L474.3,362.6 L475.0,362.4 L475.8,362.1 L476.5,361.9 L477.2,361.7 L477.9,361.5 L478.7,361.2 L479.4,361.0 L480.1,360.8 L480.8,360.6 L481.6,360.3 L482.3,360.1 L483.0,359.9 L483.7,359.7 L484.5,359.4 L485.2,359.2 L485.9,359.0 L486.6,358.7 L487.4,358.4 L488.1,358.2 L488.8,357.9 L489.5,357.6 L490.3,357.3 L491.0,357.0 L491.7,356.8 L492.4,356.5 L493.2,356.2 L493.9,355.9 L494.6,355.6 L495.3,355.4 L496.1,355.1 L496.8,354.8 L497.5,354.2 L498.3,353.7 L499.0,353.1 L499.7,352.6 L500.4,352.0 L501.2,351.4 L501.9,350.9 L502.6,350.3 L503.3,349.8 L504.1,349.2 L504.8,349.1 L505.5,349.0 L506.2,348.9 L507.0,348.8 L507.7,348.6 L508.4,348.5 L509.1,348.4 L509.9,348.3 L510.6,348.2 L511.3,348.1 L512.0,348.0 L512.8,347.9 L513.5,347.9 L514.2,348.0 L514.9,348.1 L515.7,348.2 L516.4,348.3 L517.1,348.4 L517.8,348.5 L518.6,348.6 L519.3,348.8 L520.0,348.9 L520.7,349.0 L521.5,349.1 L522.2,349.2 L522.9,349.3 L523.7,349.4 L524.4,349.5 L525.1,349.6 L525.8,349.8 L526.6,349.9 L527.3,350.0 L528.0,350.1 L528.7,350.2 L529.5,350.3 L530.2,350.4 L530.9,350.5 L531.6,350.7 L532.4,350.8 L533.1,350.9 L533.8,351.0 L534.5,351.1 L535.3,351.2 L536.0,351.3 L536.7,351.4 L537.4,351.6 L538.2,351.7 L538.9,351.8 L539.6,351.9 L540.3,352.0 L541.1,352.2 L541.8,352.3 L542.5,352.5 L543.2,352.6 L544.0,352.8 L544.7,353.0 L545.4,353.1 L546.1,353.3 L546.9,353.4 L547.6,353.6 L548.3,353.8 L549.1,353.9 L549.8,354.1 L550.5,354.2 L551.2,354.4 L552.0,354.6 L552.7,354.7 L553.4,354.8 L554.1,354.9 L554.9,355.0 L555.6,355.1 L556.3,355.2 L557.0,355.3 L557.8,355.4 L558.5,355.5 L559.2,355.3 L559.9,355.2 L560.7,355.0 L561.4,354.8 L562.1,354.7 L562.8,354.5 L563.6,354.3 L564.3,354.2 L565.0,354.0 L565.7,353.8 L566.5,353.7 L567.2,353.5 L567.9,353.3 L568.6,353.0 L569.4,352.7 L570.1,352.4 L570.8,352.1 L571.5,351.9 L572.3,351.6 L573.0,351.3 L573.7,351.0 L574.5,350.7 L575.2,350.5 L575.9,350.2 L576.6,349.9 L577.4,350.0 L578.1,350.0 L578.8,350.1 L579.5,350.1 L580.3,350.2 L581.0,350.2 L581.7,350.3 L582.4,350.3 L583.2,350.4 L583.9,350.5 L584.6,350.5 L585.3,350.6 L586.1,350.7 L586.8,350.9 L587.5,351.2 L588.2,351.4 L589.0,351.6 L589.7,351.8 L590.4,352.1 L591.1,352.3 L591.9,352.5 L592.6,352.7 L593.3,353.0 L594.0,353.2 L594.8,353.4 L595.5,353.6 L596.2,353.7 L597.0,353.9 L597.7,354.1 L598.4,354.2 L599.1,354.4 L599.9,354.6 L600.6,354.7 L601.3,354.9 L602.0,355.1 L602.8,355.2 L603.5,355.4 L604.2,355.6 L604.9,355.9 L605.7,356.2 L606.4,356.5 L607.1,356.8 L607.8,357.0 L608.6,357.3 L609.3,357.6 L610.0,357.9 L610.7,358.2 L611.5,358.4 L612.2,358.7 L612.9,359.0 L613.6,359.7 L614.4,360.3 L615.1,361.0 L615.8,361.7 L616.5,362.4 L617.3,363.0 L618.0,363.7 L618.7,364.4 L619.4,365.0 L620.2,365.7 L620.9,366.4 L621.6,367.1 L622.4,367.9 L623.1,368.8 L623.8,369.7 L624.5,370.7 L625.3,371.6 L626.0,372.5 L626.7,373.5 L627.4,374.4 L628.2,374.9 L628.9,375.4 L629.6,375.9 L630.3,376.4 L631.1,376.9 L631.8,376.9 L632.5,376.9 L633.2,377.0 L634.0,377.0 L634.7,377.0 L635.4,377.0 L636.1,377.0 L636.9,377.0 L637.6,377.0 L638.3,377.0 L639.0,377.1 L639.8,377.1 L640.5,377.1 L641.2,377.1 L641.9,377.1 L642.7,377.1 L643.4,377.1 L644.1,377.1 L644.8,377.2 L645.6,377.2 L646.3,377.2 L647.0,377.2 L647.2,380.0 L646.5,380.0 L645.8,380.0 L645.0,380.0 L644.3,379.9 L643.6,379.9 L642.9,379.9 L642.1,379.9 L641.4,379.9 L640.7,379.9 L639.9,379.9 L639.2,379.9 L638.5,379.8 L637.8,379.8 L637.0,379.8 L636.3,379.8 L635.6,379.8 L634.9,379.8 L634.1,379.8 L633.4,379.8 L632.7,379.7 L632.0,379.7 L631.2,379.7 L630.5,379.3 L629.8,378.8 L629.1,378.3 L628.3,377.8 L627.6,377.3 L626.9,376.5 L626.2,375.6 L625.4,374.6 L624.7,373.7 L624.0,372.8 L623.3,371.8 L622.5,370.9 L621.8,370.0 L621.1,369.4 L620.4,368.7 L619.6,368.0 L618.9,367.3 L618.2,366.7 L617.5,366.0 L616.7,365.3 L616.0,364.7 L615.3,364.0 L614.5,363.3 L613.8,362.6 L613.1,362.0 L612.4,361.6 L611.6,361.3 L610.9,361.0 L610.2,360.8 L609.5,360.5 L608.7,360.2 L608.0,359.9 L607.3,359.6 L606.6,359.4 L605.8,359.1 L605.1,358.8 L604.4,358.5 L603.7,358.3 L602.9,358.1 L602.2,357.9 L601.5,357.8 L600.8,357.6 L600.0,357.4 L599.3,357.2 L598.6,357.1 L597.9,356.9 L597.1,356.7 L596.4,356.6 L595.7,356.4 L595.0,356.2 L594.2,356.0 L593.5,355.8 L592.8,355.6 L592.1,355.4 L591.3,355.1 L590.6,354.9 L589.9,354.7 L589.1,354.5 L588.4,354.2 L587.7,354.0 L587.0,353.8 L586.2,353.6 L585.5,353.4 L584.8,353.3 L584.1,353.3 L583.3,353.2 L582.6,353.2 L581.9,353.1 L581.2,353.1 L580.4,353.0 L579.7,352.9 L579.0,352.9 L578.3,352.8 L577.5,352.8 L576.8,352.7 L576.1,352.9 L575.4,353.2 L574.6,353.5 L573.9,353.8 L573.2,354.0 L572.5,354.3 L571.7,354.6 L571.0,354.9 L570.3,355.2 L569.6,355.4 L568.8,355.7 L568.1,356.0 L567.4,356.2 L566.7,356.4 L565.9,356.6 L565.2,356.7 L564.5,356.9 L563.7,357.1 L563.0,357.2 L562.3,357.4 L561.6,357.6 L560.8,357.8 L560.1,357.9 L559.4,358.1 L558.7,358.3 L557.9,358.2 L557.2,358.1 L556.5,358.0 L555.8,358.0 L555.0,357.9 L554.3,357.8 L553.6,357.7 L552.9,357.6 L552.1,357.4 L551.4,357.2 L550.7,357.1 L550.0,356.9 L549.2,356.8 L548.5,356.6 L547.8,356.4 L547.1,356.3 L546.3,356.1 L545.6,356.0 L544.9,355.8 L544.2,355.6 L543.4,355.5 L542.7,355.3 L542.0,355.2 L541.3,355.0 L540.5,354.8 L539.8,354.7 L539.1,354.6 L538.3,354.5 L537.6,354.4 L536.9,354.3 L536.2,354.2 L535.4,354.0 L534.7,353.9 L534.0,353.8 L533.3,353.7 L532.5,353.6 L531.8,353.5 L531.1,353.4 L530.4,353.3 L529.6,353.1 L528.9,353.0 L528.2,352.9 L527.5,352.8 L526.7,352.7 L526.0,352.6 L525.3,352.5 L524.6,352.4 L523.8,352.3 L523.1,352.1 L522.4,352.0 L521.7,351.9 L520.9,351.8 L520.2,351.7 L519.5,351.6 L518.8,351.5 L518.0,351.4 L517.3,351.2 L516.6,351.1 L515.9,351.0 L515.1,350.9 L514.4,350.8 L513.7,350.7 L512.9,350.6 L512.2,350.7 L511.5,350.9 L510.8,351.0 L510.0,351.1 L509.3,351.2 L508.6,351.3 L507.9,351.4 L507.1,351.5 L506.4,351.6 L505.7,351.7 L505.0,351.9 L504.2,352.0 L503.5,352.4 L502.8,353.0 L502.1,353.5 L501.3,354.1 L500.6,354.7 L499.9,355.2 L499.2,355.8 L498.4,356.3 L497.7,356.9 L497.0,357.5 L496.3,357.8 L495.5,358.1 L494.8,358.4 L494.1,358.7 L493.4,358.9 L492.6,359.2 L491.9,359.5 L491.2,359.8 L490.5,360.1 L489.7,360.3 L489.0,360.6 L488.3,360.9 L487.5,361.2 L486.8,361.5 L486.1,361.7 L485.4,362.0 L484.6,362.2 L483.9,362.4 L483.2,362.6 L482.5,362.9 L481.7,363.1 L481.0,363.3 L480.3,363.5 L479.6,363.8 L478.8,364.0 L478.1,364.2 L477.4,364.4 L476.7,364.7 L475.9,364.9 L475.2,365.1 L474.5,365.3 L473.8,365.6 L473.0,365.8 L472.3,366.0 L471.6,366.2 L470.9,366.4 L470.1,366.7 L469.4,366.9 L468.7,367.1 L468.0,367.3 L467.2,367.8 L466.5,368.4 L465.8,368.9 L465.1,369.5 L464.3,370.1 L463.6,370.6 L462.9,371.2 L462.1,371.7 L461.4,372.3 L460.7,372.9 L460.0,373.5 L459.2,374.2 L458.5,374.8 L457.8,375.5 L457.1,376.2 L456.3,376.9 L455.6,377.5 L454.9,378.0 L454.2,378.6 L453.4,379.2 L452.7,379.3 L452.0,379.3 L451.3,379.3 L450.5,379.3 L449.8,379.3 L449.1,379.3 L448.4,379.3 L447.6,379.3 L446.9,379.3 L446.2,379.3 L445.5,379.3 L444.7,379.3 L444.0,379.3 L443.3,379.3 L442.6,379.4 L441.8,379.4 L441.1,379.4 L440.4,379.4 L439.7,379.4 L438.9,379.4 L438.2,379.4 L437.5,379.4 L436.7,379.4 L436.0,379.4 L435.3,379.4 L434.6,379.4 L433.8,379.4 L433.1,379.4 L432.4,379.4 L431.7,379.4 L430.9,379.4 L430.2,379.4 L429.5,379.4 L428.8,379.4 L428.0,379.4 L427.3,379.4 L426.6,379.4 L425.9,379.4 L425.1,379.4 L424.4,379.4 L423.7,379.4 L423.0,379.4 L422.2,379.4 L421.5,379.5 L420.8,379.5 L420.1,379.5 L419.3,379.5 L418.6,379.5 L417.9,379.5 L417.2,379.5 L416.4,379.5 L415.7,379.5 L415.0,379.5 L414.3,379.5 L413.5,379.5 L412.8,379.5 L412.1,379.5 L411.3,379.5 L410.6,379.5 L409.9,379.5 L409.2,379.5 L408.4,379.5 L407.7,379.5 L407.0,379.5 L406.3,379.5 L405.5,379.5 L404.8,379.5 L404.1,379.5 L403.4,379.5 L402.6,379.5 L401.9,379.5 L401.2,379.6 L400.5,379.6 L399.7,379.6 L399.0,379.6 L398.3,379.6 L397.6,379.6 L396.8,379.6 L396.1,379.6 L395.4,379.6Z" fill="#d0d0d0"/>
<path d="M455.3,377.2h0.8M455.4,378.1h0.8M456.0,378.6h0.8M456.2,378.6h0.8M456.3,378.6h0.8M456.5,376.6h0.8M457.1,377.1h0.8M457.4,376.5h0.8M457.6,377.3h0.8M457.8,376.6h0.8M458.0,376.9h0.8M458.2,376.1h0.8M458.3,373.9h0.8M458.7,368.9h0.8M458.9,371.2h0.8M459.1,372.7h0.8M459.2,367.1h0.8M459.6,361.7h0.8M459.8,363.1h0.8M460.0,366.9h0.8M460.2,364.0h0.8M460.3,364.2h0.8M460.5,367.1h0.8M460.7,366.3h0.8M461.2,356.3h0.8M461.4,354.3h0.8M461.6,354.6h0.8M461.8,356.2h0.8M462.0,356.0h0.8M462.1,353.9h0.8M462.5,351.6h0.8M462.7,352.7h0.8M462.9,352.1h0.8M463.1,350.3h0.8M463.4,357.8h0.8M463.6,354.0h0.8M463.8,353.7h0.8M464.0,356.3h0.8M464.1,356.8h0.8M464.3,358.6h0.8M464.5,364.2h0.8M464.7,365.0h0.8M464.9,369.2h0.8M465.2,368.5h0.8M465.4,365.2h0.8M465.6,365.6h0.8M465.8,364.6h0.8M466.0,365.6h0.8M466.1,366.7h0.8M466.3,370.6h0.8M466.5,367.3h0.8M466.7,366.6h0.8M467.0,367.3h0.8M467.2,368.2h0.8M467.4,369.9h0.8M467.8,364.9h0.8M468.0,365.7h0.8M468.1,369.7h0.8M468.3,371.0h0.8M468.7,367.6h0.8M468.9,364.1h0.8M469.0,364.8h0.8M469.2,362.8h0.8M469.6,367.9h0.8M469.8,368.7h0.8M469.9,362.4h0.8M470.1,363.0h0.8M470.3,361.6h0.8M470.5,362.9h0.8M470.7,363.4h0.8M470.9,362.6h0.8M471.0,361.5h0.8M471.2,355.6h0.8M471.6,357.8h0.8M472.1,368.8h0.8M472.3,366.5h0.8M472.7,366.8h0.8M473.2,368.0h0.8M473.4,367.5h0.8M473.6,367.0h0.8M473.9,365.6h0.8M474.1,366.5h0.8M474.3,366.3h0.8M474.5,366.8h0.8M474.7,368.2h0.8M474.8,372.5h0.8M475.2,376.7h0.8M475.4,376.0h0.8M475.8,364.5h0.8M475.9,359.6h0.8M476.1,358.8h0.8M476.3,353.9h0.8M476.5,355.1h0.8M476.7,357.4h0.8M476.8,351.4h0.8M477.0,355.5h0.8M477.2,357.4h0.8M477.4,358.6h0.8M477.6,354.9h0.8M477.9,355.6h0.8M478.1,357.4h0.8M478.3,361.3h0.8M478.5,360.7h0.8M478.8,363.8h0.8M479.0,366.0h0.8M479.2,367.8h0.8M479.6,362.9h0.8M479.7,362.2h0.8M479.9,360.7h0.8M480.1,362.1h0.8M480.3,360.7h0.8M480.8,367.6h0.8M481.0,366.4h0.8M481.2,365.6h0.8M481.6,366.8h0.8M481.7,366.9h0.8M482.1,367.4h0.8M482.3,366.1h0.8M482.5,366.7h0.8M482.6,369.3h0.8M482.8,365.3h0.8M483.0,368.7h0.8M483.2,365.1h0.8M483.6,367.9h0.8M483.7,369.6h0.8M483.9,370.7h0.8M484.5,374.4h0.8M484.6,369.5h0.8M484.8,366.2h0.8M485.0,361.7h0.8M485.2,364.2h0.8M485.6,371.0h0.8M485.7,370.3h0.8M485.9,368.4h0.8M486.1,369.0h0.8M486.3,368.3h0.8M486.5,367.1h0.8M486.6,370.8h0.8M486.8,364.9h0.8M487.0,368.1h0.8M487.2,367.3h0.8M487.4,364.8h0.8M487.5,368.2h0.8M487.7,369.6h0.8M487.9,366.6h0.8M488.1,369.6h0.8M488.3,368.4h0.8M488.5,369.0h0.8M488.6,369.1h0.8M488.8,367.0h0.8M489.0,366.9h0.8M489.2,366.1h0.8M489.4,361.6h0.8M489.9,358.9h0.8M490.1,357.9h0.8M490.5,351.4h0.8M490.6,350.8h0.8M491.0,354.9h0.8M491.4,350.2h0.8M491.7,347.8h0.8M492.1,346.9h0.8M492.3,350.7h0.8M492.4,350.8h0.8M492.6,354.4h0.8M492.8,352.8h0.8M493.0,351.6h0.8M493.2,354.7h0.8M493.4,357.0h0.8M493.5,358.2h0.8M493.7,362.1h0.8M493.9,364.1h0.8M494.1,365.8h0.8M494.3,362.6h0.8M494.4,358.0h0.8M494.6,359.0h0.8M494.8,359.3h0.8M495.0,358.0h0.8M495.2,358.7h0.8M495.3,358.3h0.8M495.5,354.3h0.8M495.7,352.0h0.8M495.9,350.3h0.8M496.1,349.7h0.8M496.3,343.2h0.8M496.4,343.3h0.8M496.6,341.7h0.8M496.8,344.1h0.8M497.2,346.3h0.8M497.3,348.7h0.8M497.5,348.8h0.8M497.7,350.3h0.8M497.9,355.7h0.8M498.1,363.0h0.8M498.3,360.1h0.8M498.4,361.7h0.8M498.6,357.1h0.8M498.8,356.8h0.8M499.3,357.0h0.8M499.5,356.5h0.8M499.7,358.7h0.8M499.9,356.3h0.8M500.1,352.8h0.8M500.2,354.2h0.8M500.6,350.8h0.8M501.0,354.9h0.8M501.2,359.9h0.8M501.5,348.9h0.8M501.7,345.9h0.8M501.9,351.1h0.8M502.1,350.4h0.8M502.2,349.2h0.8M502.4,349.1h0.8M502.8,351.1h0.8M503.2,354.4h0.8M503.3,354.9h0.8M503.5,353.3h0.8M503.7,355.1h0.8M503.9,355.3h0.8M504.1,355.9h0.8M504.4,352.1h0.8M504.8,350.0h0.8M505.0,354.0h0.8M505.1,354.6h0.8M505.5,354.1h0.8M505.7,354.8h0.8M505.9,357.0h0.8M506.2,353.6h0.8M506.4,355.2h0.8M506.6,352.9h0.8M506.8,349.5h0.8M507.0,348.2h0.8M507.1,345.5h0.8M507.3,345.4h0.8M507.5,346.1h0.8M508.0,351.0h0.8M508.4,350.1h0.8M508.6,349.8h0.8M508.8,348.0h0.8M509.0,348.2h0.8M509.1,352.1h0.8M509.3,353.8h0.8M509.5,356.1h0.8M509.9,357.6h0.8M510.0,358.5h0.8M510.2,359.0h0.8M510.4,358.2h0.8M510.6,351.6h0.8M510.8,348.7h0.8M511.1,340.5h0.8M511.3,340.4h0.8M511.7,337.8h0.8M511.9,339.2h0.8M512.0,344.3h0.8M512.2,347.6h0.8M512.4,352.5h0.8M512.8,354.5h0.8M512.9,350.7h0.8M513.1,347.4h0.8M513.3,346.7h0.8M513.5,345.5h0.8M513.7,346.9h0.8M513.9,341.6h0.8M514.0,340.9h0.8M514.2,337.7h0.8M514.4,341.3h0.8M514.6,344.4h0.8M514.8,344.9h0.8M514.9,347.0h0.8M515.1,347.6h0.8M515.3,350.7h0.8M515.5,347.3h0.8M515.7,346.0h0.8M515.9,342.6h0.8M516.0,342.5h0.8M516.2,346.9h0.8M516.4,344.8h0.8M516.6,341.3h0.8M516.8,345.3h0.8M516.9,348.2h0.8M517.1,349.1h0.8M517.3,349.8h0.8M517.8,346.4h0.8M518.0,348.5h0.8M518.2,353.8h0.8M518.4,352.4h0.8M518.6,346.6h0.8M518.8,344.7h0.8M518.9,342.0h0.8M519.1,345.5h0.8M519.5,350.0h0.8M519.7,344.5h0.8M519.8,343.5h0.8M520.0,350.1h0.8M520.2,355.3h0.8M520.6,352.8h0.8M520.9,351.5h0.8M521.5,350.9h0.8M521.7,351.3h0.8M521.8,354.9h0.8M522.0,356.8h0.8M522.2,355.3h0.8M522.4,355.3h0.8M522.6,357.9h0.8M522.7,357.2h0.8M523.1,356.6h0.8M523.5,355.0h0.8M523.8,352.5h0.8M524.0,352.2h0.8M524.2,351.3h0.8M524.6,348.9h0.8M524.9,340.1h0.8M525.1,338.8h0.8M525.5,333.5h0.8M525.6,332.8h0.8M525.8,330.7h0.8M526.0,332.7h0.8M526.2,335.6h0.8M526.4,341.9h0.8M526.7,352.9h0.8M526.9,349.7h0.8M527.1,355.3h0.8M527.5,359.0h0.8M527.8,359.8h0.8M528.0,363.6h0.8M528.6,363.5h0.8M528.7,367.4h0.8M528.9,368.6h0.8M529.1,364.9h0.8M529.3,363.7h0.8M529.5,360.5h0.8M529.8,359.4h0.8M530.0,357.0h0.8M530.2,356.9h0.8M530.4,355.8h0.8M530.5,358.0h0.8M530.9,357.2h0.8M531.3,359.1h0.8M531.5,356.6h0.8M531.8,354.5h0.8M532.0,356.5h0.8M532.2,353.6h0.8M532.4,346.6h0.8M532.5,349.5h0.8M532.7,354.2h0.8M532.9,356.3h0.8M533.1,358.6h0.8M533.4,364.0h0.8M533.6,360.6h0.8M533.8,357.4h0.8M534.0,352.9h0.8M534.2,350.8h0.8M534.4,352.4h0.8M534.5,349.5h0.8M534.9,352.8h0.8M535.1,356.1h0.8M535.3,352.4h0.8M535.4,349.7h0.8M535.6,351.4h0.8M535.8,352.5h0.8M536.0,352.5h0.8M536.2,352.1h0.8M536.4,350.0h0.8M536.7,349.8h0.8M536.9,354.9h0.8M537.3,362.2h0.8M537.4,357.8h0.8M537.6,355.4h0.8M537.8,355.4h0.8M538.0,354.5h0.8M538.3,350.8h0.8M538.5,357.0h0.8M538.7,358.1h0.8M538.9,364.4h0.8M539.1,365.2h0.8M539.3,366.8h0.8M539.4,364.6h0.8M539.6,361.5h0.8M539.8,362.5h0.8M540.0,361.9h0.8M540.2,359.9h0.8M540.3,359.5h0.8M540.5,359.3h0.8M540.7,365.5h0.8M540.9,365.6h0.8M541.1,362.3h0.8M541.3,360.8h0.8M541.6,364.2h0.8M541.8,362.5h0.8M542.0,364.5h0.8M542.2,361.7h0.8M542.3,363.3h0.8M542.5,363.4h0.8M542.7,362.9h0.8M542.9,355.9h0.8M543.1,356.7h0.8M543.8,356.5h0.8M544.0,362.7h0.8M544.2,361.2h0.8M544.5,363.8h0.8M544.7,359.2h0.8M544.9,359.5h0.8M545.1,359.7h0.8M545.2,363.0h0.8M545.4,366.8h0.8M545.6,367.3h0.8M545.8,370.5h0.8M546.0,367.7h0.8M546.3,365.0h0.8M546.5,368.7h0.8M546.9,370.3h0.8M547.1,368.4h0.8M547.2,366.7h0.8M547.4,366.9h0.8M547.8,361.8h0.8M548.0,356.5h0.8M548.1,358.0h0.8M548.5,356.6h0.8M548.7,359.5h0.8M549.2,354.5h0.8M549.4,353.8h0.8M549.8,357.7h0.8M550.0,352.7h0.8M550.1,350.6h0.8M550.3,350.5h0.8M550.9,347.5h0.8M551.0,346.8h0.8M551.2,348.8h0.8M551.4,347.8h0.8M551.6,349.5h0.8M551.8,343.5h0.8M552.0,345.9h0.8M552.1,345.6h0.8M552.3,345.5h0.8M552.5,347.7h0.8M552.7,346.2h0.8M552.9,347.7h0.8M553.0,350.2h0.8M553.2,351.5h0.8M553.4,355.1h0.8M553.6,353.3h0.8M553.8,353.8h0.8M554.0,353.8h0.8M554.1,360.7h0.8M554.3,362.6h0.8M554.5,367.1h0.8M554.7,368.4h0.8M554.9,365.5h0.8M555.0,365.0h0.8M555.4,360.5h0.8M555.6,356.4h0.8M555.8,350.2h0.8M555.9,354.9h0.8M556.3,354.1h0.8M556.5,356.3h0.8M556.7,355.8h0.8M557.0,365.2h0.8M557.2,367.0h0.8M557.4,367.1h0.8M557.6,361.5h0.8M557.9,368.0h0.8M558.1,374.6h0.8M558.3,376.7h0.8M558.8,378.6h0.8M559.0,378.6h0.8M559.2,378.6h0.8M559.4,378.6h0.8M559.6,378.6h0.8M559.8,378.6h0.8M560.1,378.6h0.8M560.3,378.6h0.8M560.5,375.3h0.8M560.8,368.8h0.8M561.2,362.5h0.8M561.6,365.5h0.8M561.8,362.1h0.8M561.9,356.0h0.8M562.3,353.8h0.8M562.5,354.7h0.8M562.7,356.6h0.8M562.8,363.9h0.8M563.0,359.7h0.8M563.2,360.6h0.8M563.4,359.1h0.8M563.6,362.0h0.8M563.7,364.0h0.8M563.9,360.1h0.8M564.3,361.5h0.8M564.5,364.5h0.8M564.7,363.1h0.8M564.8,360.2h0.8M565.0,361.1h0.8M565.2,361.1h0.8M565.4,364.0h0.8M565.6,359.3h0.8M565.9,360.6h0.8M566.5,360.4h0.8M566.7,362.5h0.8M566.8,362.9h0.8M567.0,357.1h0.8M567.2,356.3h0.8M567.6,354.4h0.8M567.7,350.8h0.8M567.9,353.4h0.8M568.1,349.5h0.8M568.5,347.1h0.8M568.6,354.5h0.8M568.8,353.9h0.8M569.0,350.1h0.8M569.2,351.3h0.8M569.4,345.1h0.8M569.6,345.8h0.8M569.7,349.5h0.8M569.9,348.3h0.8M570.3,346.3h0.8M570.5,347.6h0.8M570.8,346.9h0.8M571.0,347.0h0.8M571.4,352.8h0.8M571.5,351.4h0.8M571.7,352.1h0.8M571.9,351.7h0.8M572.1,350.1h0.8M572.3,347.0h0.8M572.5,342.5h0.8M572.8,334.6h0.8M573.2,336.5h0.8M573.4,342.4h0.8M573.5,345.0h0.8M573.9,355.7h0.8M574.1,351.9h0.8M574.3,358.2h0.8M574.5,357.4h0.8M574.6,355.9h0.8M574.8,356.6h0.8M575.0,349.0h0.8M575.2,349.4h0.8M575.4,351.9h0.8M575.7,349.7h0.8M575.9,353.9h0.8M576.1,356.5h0.8M576.3,357.8h0.8M576.4,357.1h0.8M576.6,355.5h0.8M576.8,359.5h0.8M577.0,357.8h0.8M577.2,350.9h0.8M577.5,353.3h0.8M577.7,351.2h0.8M577.9,347.9h0.8M578.1,350.2h0.8M578.3,353.1h0.8M578.4,355.9h0.8M578.6,352.4h0.8M578.8,349.8h0.8M579.0,356.2h0.8M579.2,361.9h0.8M579.4,364.5h0.8M579.5,367.5h0.8M579.7,364.8h0.8M579.9,362.9h0.8M580.1,356.3h0.8M580.3,353.7h0.8M580.4,353.2h0.8M580.6,349.7h0.8M580.8,352.5h0.8M581.0,356.5h0.8M581.2,356.0h0.8M581.3,353.0h0.8M581.5,357.5h0.8M581.7,354.5h0.8M582.1,353.3h0.8M582.3,352.7h0.8M582.4,353.5h0.8M582.6,353.2h0.8M582.8,350.8h0.8M583.0,353.3h0.8M583.2,350.2h0.8M583.3,348.0h0.8M583.5,345.9h0.8M583.7,352.1h0.8M584.1,355.0h0.8M584.3,356.5h0.8M584.4,358.0h0.8M584.6,359.7h0.8M584.8,362.8h0.8M585.0,362.6h0.8M585.2,363.7h0.8M585.5,361.9h0.8M585.9,360.0h0.8M586.1,365.7h0.8M586.2,357.3h0.8M586.4,360.8h0.8M586.6,358.4h0.8M587.0,355.1h0.8M587.2,352.9h0.8M587.3,353.2h0.8M587.5,358.3h0.8M587.7,356.9h0.8M588.1,354.9h0.8M588.6,359.2h0.8M588.8,357.8h0.8M589.1,352.7h0.8M589.3,351.4h0.8M589.5,357.4h0.8M589.7,350.8h0.8M589.9,351.0h0.8M590.1,348.9h0.8M590.2,350.4h0.8M590.4,351.3h0.8M590.6,351.5h0.8M591.0,343.7h0.8M591.1,343.0h0.8M591.3,338.6h0.8M591.5,341.3h0.8M591.7,341.2h0.8M591.9,343.9h0.8M592.2,342.6h0.8M592.4,341.0h0.8M592.8,345.2h0.8M593.0,340.0h0.8M593.3,343.0h0.8M593.7,351.1h0.8M593.9,358.2h0.8M594.0,357.6h0.8M594.2,357.9h0.8M594.4,352.5h0.8M594.6,353.7h0.8M595.0,348.0h0.8M595.1,342.8h0.8M595.3,344.8h0.8M595.7,349.3h0.8M595.9,353.1h0.8M596.0,354.2h0.8M596.2,354.4h0.8M596.4,358.0h0.8M596.6,359.0h0.8M596.8,356.7h0.8M597.1,358.2h0.8M597.3,360.5h0.8M597.5,356.1h0.8M597.7,351.0h0.8M597.9,350.9h0.8M598.0,351.6h0.8M598.2,347.1h0.8M598.4,346.3h0.8M598.8,352.4h0.8M599.1,345.4h0.8M599.3,345.9h0.8M599.5,335.9h0.8M599.7,335.1h0.8M599.9,335.0h0.8M600.2,332.4h0.8M600.4,332.7h0.8M600.6,338.0h0.8M600.9,348.4h0.8M601.1,349.8h0.8M601.5,360.7h0.8M601.7,359.8h0.8M601.8,360.5h0.8M602.0,361.4h0.8M602.2,362.9h0.8M602.4,369.0h0.8M602.6,363.3h0.8M602.8,364.1h0.8M602.9,361.9h0.8M603.1,357.4h0.8M603.3,354.2h0.8M603.5,353.9h0.8M603.7,354.2h0.8M603.8,353.6h0.8M604.0,351.4h0.8M604.2,350.4h0.8M604.4,352.4h0.8M604.6,351.7h0.8M604.8,351.2h0.8M604.9,349.9h0.8M605.1,350.1h0.8M605.5,347.5h0.8M605.7,346.1h0.8M605.8,347.2h0.8M606.0,349.9h0.8M606.2,353.5h0.8M606.4,354.5h0.8M606.6,353.3h0.8M606.7,350.2h0.8M606.9,351.3h0.8M607.1,353.6h0.8M607.5,352.2h0.8M607.7,352.6h0.8M608.0,353.0h0.8M608.2,357.4h0.8M608.4,357.3h0.8M608.6,357.6h0.8M608.9,361.4h0.8M609.1,358.2h0.8M609.3,353.1h0.8M609.5,356.9h0.8M609.7,355.8h0.8M609.8,352.8h0.8M610.0,344.8h0.8M610.2,344.7h0.8M610.6,343.7h0.8M610.7,336.1h0.8M611.1,335.0h0.8M611.3,331.3h0.8M611.5,340.2h0.8M611.8,348.9h0.8M612.0,349.3h0.8M612.2,355.9h0.8M612.4,356.2h0.8M612.6,357.5h0.8M612.7,358.0h0.8M612.9,361.0h0.8M613.3,365.4h0.8M613.5,365.0h0.8M613.6,365.5h0.8M613.8,360.4h0.8M614.2,363.8h0.8M614.5,358.5h0.8M614.9,355.7h0.8M615.1,356.6h0.8M615.3,355.3h0.8M615.5,358.9h0.8M615.6,357.2h0.8M615.8,361.9h0.8M616.2,363.5h0.8M616.4,369.7h0.8M616.7,368.0h0.8M616.9,367.4h0.8M617.1,366.0h0.8M617.3,366.1h0.8M617.6,367.8h0.8M617.8,366.7h0.8M618.0,365.3h0.8M618.2,359.7h0.8M618.4,362.5h0.8M618.5,362.8h0.8M618.7,361.6h0.8M618.9,363.5h0.8M619.1,367.4h0.8M619.3,369.0h0.8M619.4,365.9h0.8M619.6,366.9h0.8M619.8,365.3h0.8M620.0,367.7h0.8M620.2,366.5h0.8M620.4,368.7h0.8M620.5,371.1h0.8M620.7,370.6h0.8M620.9,370.3h0.8M621.1,366.0h0.8M621.3,371.0h0.8M621.4,369.4h0.8M622.0,363.5h0.8M622.2,366.2h0.8M622.4,368.1h0.8M622.5,367.6h0.8M622.9,366.9h0.8M623.1,365.8h0.8M623.4,373.1h0.8M623.6,376.6h0.8M623.8,378.6h0.8M624.0,378.6h0.8M624.3,370.5h0.8M624.5,369.4h0.8M624.9,372.0h0.8M625.1,372.6h0.8M625.6,373.1h0.8M625.8,373.4h0.8M626.5,374.0h0.8M626.7,374.4h0.8M627.1,375.3h0.8M627.2,374.9h0.8M627.4,374.8h0.8M627.8,375.9h0.8M628.2,374.3h0.8M628.3,375.4h0.8M629.1,376.8h0.8M629.6,377.2h0.8M629.8,377.0h0.8M630.5,377.2h0.8M630.7,377.0h0.8M631.1,377.8h0.8M631.8,377.8h0.8M632.0,377.3h0.8M632.1,378.3h0.8M632.5,377.9h0.8M632.7,378.2h0.8M632.9,377.3h0.8M633.1,378.3h0.8M633.2,377.6h0.8M633.4,377.8h0.8M634.0,377.4h0.8M634.1,377.4h0.8M634.5,377.6h0.8M634.7,378.2h0.8M634.9,377.7h0.8M635.1,378.0h0.8M635.2,378.2h0.8M635.8,376.7h0.8M636.0,377.9h0.8M636.1,378.0h0.8M636.3,377.1h0.8M637.0,378.2h0.8M637.2,377.6h0.8M637.4,378.3h0.8M637.8,377.7h0.8M638.0,378.2h0.8M638.1,378.2h0.8M638.3,377.9h0.8M638.7,378.4h0.8M639.0,378.4h0.8M639.4,378.2h0.8M639.6,378.2h0.8M640.1,377.8h0.8M640.5,378.5h0.8M640.9,377.8h0.8M641.0,378.2h0.8M641.4,378.3h0.8M641.8,378.2h0.8M642.5,377.8h0.8M642.7,378.3h0.8M643.0,378.5h0.8M643.4,378.0h0.8M643.8,378.5h0.8M643.9,378.4h0.8M644.1,378.2h0.8M644.5,377.0h0.8M644.8,377.8h0.8M645.0,378.4h0.8M645.2,377.4h0.8M645.4,377.9h0.8M645.6,378.2h0.8M645.9,378.2h0.8M646.1,378.4h0.8M646.3,377.3h0.8M647.2,378.6h0.8" stroke="#1a1a1a" stroke-width="0.9" fill="none"/>
<path d="M395.2,377.6 L395.4,377.9 L395.6,377.6 L395.7,377.4 L395.9,376.6 L396.1,377.5 L396.3,377.3 L396.5,377.1 L396.7,376.9 L396.8,377.4 L397.0,377.8 L397.2,377.5 L397.4,377.1 L397.6,377.7 L397.7,377.6 L397.9,377.7 L398.1,377.9 L398.3,377.6 L398.5,377.3 L398.6,377.6 L398.8,377.8 L399.0,377.6 L399.2,377.3 L399.4,377.3 L399.6,377.4 L399.7,377.2 L399.9,377.1 L400.1,377.3 L400.3,377.6 L400.5,377.6 L400.6,376.9 L400.8,377.4 L401.0,377.9 L401.2,377.9 L401.4,377.8 L401.6,377.3 L401.7,376.7 L401.9,377.5 L402.1,377.5 L402.3,377.5 L402.5,377.4 L402.6,377.8 L402.8,377.6 L403.0,377.7 L403.2,377.2 L403.4,377.6 L403.5,377.7 L403.7,377.5 L403.9,377.3 L404.1,377.9 L404.3,377.3 L404.5,377.5 L404.6,377.6 L404.8,377.6 L405.0,377.0 L405.2,377.7 L405.4,377.3 L405.5,377.4 L405.7,377.5 L405.9,377.8 L406.1,377.8 L406.3,377.9 L406.4,377.7 L406.6,377.6 L406.8,377.4 L407.0,377.7 L407.2,377.0 L407.4,377.6 L407.5,377.6 L407.7,377.8 L407.9,377.7 L408.1,377.9 L408.3,377.7 L408.4,377.7 L408.6,377.8 L408.8,377.5 L409.0,377.1 L409.2,377.8 L409.4,377.4 L409.5,377.8 L409.7,377.7 L409.9,377.7 L410.1,377.2 L410.3,377.9 L410.4,377.3 L410.6,377.4 L410.8,377.6 L411.0,377.9 L411.2,377.7 L411.3,377.8 L411.5,377.9 L411.7,377.7 L411.9,377.5 L412.1,377.7 L412.3,377.8 L412.4,377.5 L412.6,377.2 L412.8,377.6 L413.0,377.9 L413.2,377.2 L413.3,376.5 L413.5,377.2 L413.7,377.8 L413.9,377.5 L414.1,377.2 L414.3,377.3 L414.4,377.4 L414.6,377.4 L414.8,377.5 L415.0,377.8 L415.2,377.7 L415.3,377.9 L415.5,377.6 L415.7,377.9 L415.9,377.7 L416.1,377.8 L416.2,377.8 L416.4,377.8 L416.6,377.8 L416.8,377.0 L417.0,376.1 L417.2,377.2 L417.3,377.4 L417.5,377.5 L417.7,377.7 L417.9,377.6 L418.1,377.5 L418.2,377.9 L418.4,377.4 L418.6,377.8 L418.8,377.5 L419.0,377.6 L419.1,377.7 L419.3,377.4 L419.5,376.7 L419.7,376.8 L419.9,376.9 L420.1,377.4 L420.2,377.9 L420.4,377.7 L420.6,377.5 L420.8,377.7 L421.0,377.9 L421.1,377.7 L421.3,377.5 L421.5,377.7 L421.7,377.1 L421.9,377.8 L422.1,376.9 L422.2,377.0 L422.4,377.2 L422.6,376.0 L422.8,376.1 L423.0,376.0 L423.1,375.9 L423.3,376.1 L423.5,377.6 L423.7,377.7 L423.9,377.9 L424.0,377.5 L424.2,377.2 L424.4,377.6 L424.6,377.7 L424.8,377.5 L425.0,377.2 L425.1,377.3 L425.3,377.3 L425.5,377.1 L425.7,376.8 L425.9,377.1 L426.0,377.3 L426.2,377.6 L426.4,377.9 L426.6,377.4 L426.8,376.9 L427.0,377.2 L427.1,377.5 L427.3,377.2 L427.5,376.9 L427.7,377.5 L427.9,377.8 L428.0,377.3 L428.2,376.8 L428.4,377.0 L428.6,377.3 L428.8,377.6 L428.9,377.8 L429.1,377.7 L429.3,377.6 L429.5,377.8 L429.7,377.8 L429.9,377.7 L430.0,377.4 L430.2,377.9 L430.4,377.3 L430.6,377.4 L430.8,377.5 L430.9,377.8 L431.1,377.4 L431.3,377.6 L431.5,377.9 L431.7,377.9 L431.8,376.6 L432.0,376.2 L432.2,375.9 L432.4,376.0 L432.6,376.1 L432.8,377.8 L432.9,377.5 L433.1,377.7 L433.3,377.8 L433.5,377.5 L433.7,377.0 L433.8,377.4 L434.0,377.9 L434.2,377.8 L434.4,377.7 L434.6,377.5 L434.8,377.0 L434.9,377.8 L435.1,377.1 L435.3,375.7 L435.5,375.6 L435.7,376.0 L435.8,376.4 L436.0,376.3 L436.2,376.1 L436.4,376.0 L436.6,377.1 L436.7,377.5 L436.9,377.8 L437.1,377.7 L437.3,377.3 L437.5,377.5 L437.7,377.7 L437.8,377.6 L438.0,377.1 L438.2,377.2 L438.4,377.4 L438.6,377.5 L438.7,377.6 L438.9,377.8 L439.1,377.3 L439.3,377.6 L439.5,377.8 L439.7,377.6 L439.8,376.1 L440.0,377.8 L440.2,377.6 L440.4,377.4 L440.6,377.2 L440.7,377.7 L440.9,376.8 L441.1,376.6 L441.3,376.4 L441.5,377.1 L441.6,377.7 L441.8,377.8 L442.0,377.8 L442.2,377.6 L442.4,377.3 L442.6,376.6 L442.7,376.0 L442.9,376.3 L443.1,376.5 L443.3,376.2 L443.5,375.9 L443.6,376.4 L443.8,376.4 L444.0,376.4 L444.2,377.8 L444.4,377.9 L444.5,377.7 L444.7,377.6 L444.9,377.6 L445.1,377.3 L445.3,377.1 L445.5,377.3 L445.6,377.5 L445.8,377.8 L446.0,377.2 L446.2,377.7 L446.4,377.7 L446.5,377.7 L446.7,377.2 L446.9,377.8 L447.1,377.4 L447.3,377.6 L447.5,377.9 L447.6,377.8 L447.8,377.7 L448.0,377.7 L448.2,377.8 L448.4,377.8 L448.5,377.5 L448.7,377.6 L448.9,376.8 L449.1,377.5 L449.3,377.5 L449.4,377.5 L449.6,377.5 L449.8,377.7 L450.0,377.9 L450.2,377.9 L450.4,377.9 L450.5,377.9 L450.7,377.8 L450.9,377.8 L451.1,377.5 L451.3,377.7 L451.4,377.9 L451.6,377.7 L451.8,377.4 L452.0,377.7 L452.2,377.8 L452.4,377.6 L452.5,377.4 L452.7,377.5 L452.9,377.7 L453.1,377.8 L453.3,377.9 L453.4,377.8 L453.6,377.8 L453.8,377.8 L454.0,377.6 L454.2,377.6 L454.3,377.7 L454.5,377.3 L454.7,376.9 L454.9,377.3 L455.1,377.8 L455.3,377.7 L455.4,377.4 L455.6,377.7 L455.8,377.7 L456.0,377.6 L456.2,377.4 L456.3,377.9 L456.5,377.4 L456.7,377.6" fill="none" stroke="#111" stroke-width="0.9"/>
<path d="M395.2,378.2 L395.7,378.2 L396.3,378.2 L396.8,378.2 L397.4,378.2 L397.9,378.2 L398.5,378.2 L399.0,378.2 L399.6,378.2 L400.1,378.2 L400.6,378.2 L401.2,378.2 L401.7,378.1 L402.3,378.1 L402.8,378.1 L403.4,378.1 L403.9,378.1 L404.5,378.1 L405.0,378.1 L405.5,378.1 L406.1,378.1 L406.6,378.1 L407.2,378.1 L407.7,378.1 L408.3,378.1 L408.8,378.1 L409.4,378.1 L409.9,378.1 L410.4,378.1 L411.0,378.1 L411.5,378.1 L412.1,378.1 L412.6,378.1 L413.2,378.1 L413.7,378.1 L414.3,378.1 L414.8,378.1 L415.3,378.1 L415.9,378.1 L416.4,378.1 L417.0,378.1 L417.5,378.1 L418.1,378.1 L418.6,378.1 L419.1,378.1 L419.7,378.1 L420.2,378.1 L420.8,378.1 L421.3,378.1 L421.9,378.1 L422.4,378.0 L423.0,378.0 L423.5,378.0 L424.0,378.0 L424.6,378.0 L425.1,378.0 L425.7,378.0 L426.2,378.0 L426.8,378.0 L427.3,378.0 L427.9,378.0 L428.4,378.0 L428.9,378.0 L429.5,378.0 L430.0,378.0 L430.6,378.0 L431.1,378.0 L431.7,378.0 L432.2,378.0 L432.8,378.0 L433.3,378.0 L433.8,378.0 L434.4,378.0 L434.9,378.0 L435.5,378.0 L436.0,378.0 L436.6,378.0 L437.1,378.0 L437.7,378.0 L438.2,378.0 L438.7,378.0 L439.3,378.0 L439.8,378.0 L440.4,378.0 L440.9,378.0 L441.5,378.0 L442.0,378.0 L442.6,378.0 L443.1,377.9 L443.6,377.9 L444.2,377.9 L444.7,377.9 L445.3,377.9 L445.8,377.9 L446.4,377.9 L446.9,377.9 L447.5,377.9 L448.0,377.9 L448.5,377.9 L449.1,377.9 L449.6,377.9 L450.2,377.9 L450.7,377.9 L451.3,377.9 L451.8,377.9 L452.4,377.9 L452.9,377.9 L453.4,377.8 L454.0,377.3 L454.5,376.9 L455.1,376.5 L455.6,376.1 L456.2,375.6 L456.7,375.1 L457.2,374.6 L457.8,374.1 L458.3,373.6 L458.9,373.1 L459.4,372.6 L460.0,372.1 L460.5,371.6 L461.1,371.2 L461.6,370.8 L462.1,370.3 L462.7,369.9 L463.2,369.5 L463.8,369.1 L464.3,368.7 L464.9,368.2 L465.4,367.8 L466.0,367.4 L466.5,367.0 L467.0,366.6 L467.6,366.1 L468.1,365.9 L468.7,365.7 L469.2,365.6 L469.8,365.4 L470.3,365.2 L470.9,365.0 L471.4,364.9 L471.9,364.7 L472.5,364.5 L473.0,364.4 L473.6,364.2 L474.1,364.0 L474.7,363.9 L475.2,363.7 L475.8,363.5 L476.3,363.4 L476.8,363.2 L477.4,363.0 L477.9,362.9 L478.5,362.7 L479.0,362.5 L479.6,362.4 L480.1,362.2 L480.7,362.0 L481.2,361.9 L481.7,361.7 L482.3,361.5 L482.8,361.4 L483.4,361.2 L483.9,361.0 L484.5,360.8 L485.0,360.7 L485.6,360.5 L486.1,360.3 L486.6,360.1 L487.2,359.9 L487.7,359.7 L488.3,359.5 L488.8,359.3 L489.4,359.1 L489.9,358.9 L490.5,358.7 L491.0,358.4 L491.5,358.2 L492.1,358.0 L492.6,357.8 L493.2,357.6 L493.7,357.4 L494.3,357.2 L494.8,357.0 L495.3,356.8 L495.9,356.6 L496.4,356.3 L497.0,356.1 L497.5,355.6 L498.1,355.2 L498.6,354.8 L499.2,354.4 L499.7,354.0 L500.2,353.5 L500.8,353.1 L501.3,352.7 L501.9,352.3 L502.4,351.9 L503.0,351.4 L503.5,351.0 L504.1,350.6 L504.6,350.5 L505.1,350.4 L505.7,350.3 L506.2,350.3 L506.8,350.2 L507.3,350.1 L507.9,350.0 L508.4,349.9 L509.0,349.8 L509.5,349.8 L510.0,349.7 L510.6,349.6 L511.1,349.5 L511.7,349.4 L512.2,349.3 L512.8,349.3 L513.3,349.2 L513.9,349.3 L514.4,349.4 L514.9,349.5 L515.5,349.6 L516.0,349.6 L516.6,349.7 L517.1,349.8 L517.7,349.9 L518.2,350.0 L518.8,350.1 L519.3,350.2 L519.8,350.2 L520.4,350.3 L520.9,350.4 L521.5,350.5 L522.0,350.6 L522.6,350.7 L523.1,350.7 L523.7,350.8 L524.2,350.9 L524.7,351.0 L525.3,351.1 L525.8,351.2 L526.4,351.2 L526.9,351.3 L527.5,351.4 L528.0,351.5 L528.6,351.6 L529.1,351.7 L529.6,351.7 L530.2,351.8 L530.7,351.9 L531.3,352.0 L531.8,352.1 L532.4,352.2 L532.9,352.3 L533.4,352.3 L534.0,352.4 L534.5,352.5 L535.1,352.6 L535.6,352.7 L536.2,352.8 L536.7,352.8 L537.3,352.9 L537.8,353.0 L538.3,353.1 L538.9,353.2 L539.4,353.3 L540.0,353.3 L540.5,353.4 L541.1,353.6 L541.6,353.7 L542.2,353.8 L542.7,353.9 L543.2,354.0 L543.8,354.2 L544.3,354.3 L544.9,354.4 L545.4,354.5 L546.0,354.6 L546.5,354.8 L547.1,354.9 L547.6,355.0 L548.1,355.1 L548.7,355.2 L549.2,355.4 L549.8,355.5 L550.3,355.6 L550.9,355.7 L551.4,355.8 L552.0,356.0 L552.5,356.1 L553.0,356.2 L553.6,356.3 L554.1,356.3 L554.7,356.4 L555.2,356.5 L555.8,356.6 L556.3,356.6 L556.9,356.7 L557.4,356.8 L557.9,356.8 L558.5,356.9 L559.0,356.8 L559.6,356.6 L560.1,356.5 L560.7,356.4 L561.2,356.3 L561.8,356.1 L562.3,356.0 L562.8,355.9 L563.4,355.8 L563.9,355.6 L564.5,355.5 L565.0,355.4 L565.6,355.3 L566.1,355.1 L566.7,355.0 L567.2,354.9 L567.7,354.7 L568.3,354.5 L568.8,354.3 L569.4,354.1 L569.9,353.9 L570.5,353.7 L571.0,353.5 L571.5,353.3 L572.1,353.1 L572.6,352.8 L573.2,352.6 L573.7,352.4 L574.3,352.2 L574.8,352.0 L575.4,351.8 L575.9,351.6 L576.4,351.4 L577.0,351.3 L577.5,351.4 L578.1,351.4 L578.6,351.5 L579.2,351.5 L579.7,351.5 L580.3,351.6 L580.8,351.6 L581.3,351.7 L581.9,351.7 L582.4,351.7 L583.0,351.8 L583.5,351.8 L584.1,351.9 L584.6,351.9 L585.2,352.0 L585.7,352.0 L586.2,352.2 L586.8,352.3 L587.3,352.5 L587.9,352.7 L588.4,352.8 L589.0,353.0 L589.5,353.2 L590.1,353.3 L590.6,353.5 L591.1,353.7 L591.7,353.8 L592.2,354.0 L592.8,354.2 L593.3,354.4 L593.9,354.5 L594.4,354.7 L595.0,354.8 L595.5,355.0 L596.0,355.1 L596.6,355.2 L597.1,355.3 L597.7,355.5 L598.2,355.6 L598.8,355.7 L599.3,355.9 L599.9,356.0 L600.4,356.1 L600.9,356.2 L601.5,356.4 L602.0,356.5 L602.6,356.6 L603.1,356.7 L603.7,356.9 L604.2,357.0 L604.8,357.2 L605.3,357.5 L605.8,357.7 L606.4,357.9 L606.9,358.1 L607.5,358.3 L608.0,358.5 L608.6,358.7 L609.1,358.9 L609.7,359.1 L610.2,359.4 L610.7,359.6 L611.3,359.8 L611.8,360.0 L612.4,360.2 L612.9,360.4 L613.5,360.9 L614.0,361.4 L614.5,361.9 L615.1,362.4 L615.6,362.9 L616.2,363.4 L616.7,363.9 L617.3,364.4 L617.8,364.9 L618.4,365.4 L618.9,365.9 L619.4,366.4 L620.0,367.0 L620.5,367.5 L621.1,368.0 L621.6,368.5 L622.2,369.0 L622.7,369.7 L623.3,370.4 L623.8,371.1 L624.3,371.8 L624.9,372.5 L625.4,373.2 L626.0,373.9 L626.5,374.6 L627.1,375.3 L627.6,375.9 L628.2,376.3 L628.7,376.7 L629.2,377.1 L629.8,377.4 L630.3,377.8 L630.9,378.2 L631.4,378.3 L632.0,378.3 L632.5,378.3 L633.1,378.4 L633.6,378.4 L634.1,378.4 L634.7,378.4 L635.2,378.4 L635.8,378.4 L636.3,378.4 L636.9,378.4 L637.4,378.4 L638.0,378.4 L638.5,378.4 L639.0,378.5 L639.6,378.5 L640.1,378.5 L640.7,378.5 L641.2,378.5 L641.8,378.5 L642.3,378.5 L642.9,378.5 L643.4,378.5 L643.9,378.5 L644.5,378.6 L645.0,378.6 L645.6,378.6 L646.1,378.6 L646.7,378.6 L647.2,378.6" fill="none" stroke="#3a3a3a" stroke-width="0.6"/>
<path d="M612.9,360.4 L613.3,360.7 L613.6,361.1 L614.0,361.4 L614.4,361.7 L614.7,362.1 L615.1,362.4 L615.5,362.8 L615.8,363.1 L616.2,363.4 L616.5,363.8 L616.9,364.1 L617.3,364.4 L617.6,364.8 L618.0,365.1 L618.4,365.4 L618.7,365.8 L619.1,366.1 L619.4,366.4 L619.8,366.8 L620.2,367.1 L620.5,367.5 L620.9,367.8 L621.3,368.1 L621.6,368.5 L622.0,368.8 L622.4,369.3 L622.7,369.7 L623.1,370.2 L623.4,370.7 L623.8,371.1 L624.2,371.6 L624.5,372.1 L624.9,372.5 L625.3,373.0 L625.6,373.5 L626.0,373.9 L626.3,374.4 L626.7,374.9 L627.1,375.3 L627.4,375.8 L627.8,376.1 L628.2,376.3 L628.5,376.6 L628.9,376.8 L629.2,377.1 L629.6,377.3 L630.0,377.6 L630.3,377.8 L630.7,378.1 L631.1,378.3 L631.4,378.3 L631.8,378.3 L632.1,378.3 L632.5,378.3 L632.9,378.4 L633.2,378.4 L633.6,378.4 L634.0,378.4 L634.3,378.4 L634.7,378.4 L635.1,378.4 L635.4,378.4 L635.8,378.4 L636.1,378.4 L636.5,378.4 L636.9,378.4 L637.2,378.4 L637.6,378.4 L638.0,378.4 L638.3,378.4 L638.7,378.5 L639.0,378.5 L639.4,378.5 L639.8,378.5 L640.1,378.5 L640.5,378.5 L640.9,378.5 L641.2,378.5 L641.6,378.5 L641.9,378.5 L642.3,378.5 L642.7,378.5 L643.0,378.5 L643.4,378.5 L643.8,378.5 L644.1,378.5 L644.5,378.6 L644.8,378.6 L645.2,378.6 L645.6,378.6 L645.9,378.6 L646.3,378.6 L646.7,378.6 L647.0,378.6" fill="none" stroke="#111" stroke-width="0.8"/>
<rect x="461.2" y="323.9" width="40.6" height="54.2" fill="#87ceeb" opacity="0.35"/>
<rect x="382.5" y="323.5" width="277.0" height="55.0" fill="none" stroke="#5a5a5a" stroke-width="0.85"/>
<text x="378.30" y="380.50" font-size="4.7" text-anchor="end" fill="#222" textLength="7.31" lengthAdjust="spacingAndGlyphs">0.0</text>
<text x="378.30" y="366.50" font-size="4.7" text-anchor="end" fill="#222" textLength="7.31" lengthAdjust="spacingAndGlyphs">0.1</text>
<text x="378.30" y="352.50" font-size="4.7" text-anchor="end" fill="#222" textLength="7.31" lengthAdjust="spacingAndGlyphs">0.2</text>
<text x="378.30" y="338.50" font-size="4.7" text-anchor="end" fill="#222" textLength="7.31" lengthAdjust="spacingAndGlyphs">0.3</text>
<text x="395.20" y="386.50" font-size="4.7" text-anchor="middle" fill="#222" textLength="2.99" lengthAdjust="spacingAndGlyphs">0</text>
<text x="431.49" y="386.50" font-size="4.7" text-anchor="middle" fill="#222" textLength="8.97" lengthAdjust="spacingAndGlyphs">200</text>
<text x="467.77" y="386.50" font-size="4.7" text-anchor="middle" fill="#222" textLength="8.97" lengthAdjust="spacingAndGlyphs">400</text>
<text x="504.06" y="386.50" font-size="4.7" text-anchor="middle" fill="#222" textLength="8.97" lengthAdjust="spacingAndGlyphs">600</text>
<text x="540.34" y="386.50" font-size="4.7" text-anchor="middle" fill="#222" textLength="8.97" lengthAdjust="spacingAndGlyphs">800</text>
<text x="576.63" y="386.50" font-size="4.7" text-anchor="middle" fill="#222" textLength="11.96" lengthAdjust="spacingAndGlyphs">1000</text>
<text x="612.92" y="386.50" font-size="4.7" text-anchor="middle" fill="#222" textLength="11.96" lengthAdjust="spacingAndGlyphs">1200</text>
<text x="649.20" y="386.50" font-size="4.7" text-anchor="middle" fill="#222" textLength="11.96" lengthAdjust="spacingAndGlyphs">1400</text>
<text x="470.90" y="320.60" font-size="6.5" fill="#222" textLength="100.40" lengthAdjust="spacingAndGlyphs" stroke="#222" stroke-width="0.16">Substitution rate (r: 0.28, p: 0.00)</text>
<path d="M395.2,452.2 L395.4,452.0 L395.6,451.7 L395.7,452.0 L395.9,452.3 L396.1,452.4 L396.3,452.4 L396.5,452.2 L396.7,451.7 L396.8,451.8 L397.0,451.9 L397.2,452.2 L397.4,452.4 L397.6,452.2 L397.7,451.8 L397.9,452.1 L398.1,452.4 L398.3,452.4 L398.5,452.4 L398.6,452.4 L398.8,452.1 L399.0,452.2 L399.2,452.3 L399.4,452.4 L399.6,452.4 L399.7,452.4 L399.9,452.2 L400.1,452.4 L400.3,452.4 L400.5,452.3 L400.6,452.0 L400.8,452.0 L401.0,452.0 L401.2,451.8 L401.4,451.6 L401.6,451.9 L401.7,452.3 L401.9,452.4 L402.1,452.4 L402.3,452.4 L402.5,452.4 L402.6,452.4 L402.8,452.1 L403.0,451.5 L403.2,450.9 L403.4,451.1 L403.5,451.0 L403.7,451.2 L403.9,451.4 L404.1,451.1 L404.3,450.8 L404.5,451.8 L404.6,452.4 L404.8,452.0 L405.0,451.1 L405.2,451.6 L405.4,452.0 L405.5,451.6 L405.7,451.1 L405.9,451.1 L406.1,451.1 L406.3,451.4 L406.4,451.7 L406.6,450.5 L406.8,449.2 L407.0,448.8 L407.2,448.4 L407.4,447.7 L407.5,447.1 L407.7,446.4 L407.9,445.7 L408.1,444.3 L408.3,442.8 L408.4,444.1 L408.6,445.4 L408.8,445.5 L409.0,445.7 L409.2,446.1 L409.4,446.4 L409.5,445.5 L409.7,444.6 L409.9,445.6 L410.1,446.7 L410.3,446.2 L410.4,445.8 L410.6,445.3 L410.8,444.8 L411.0,445.5 L411.2,446.2 L411.3,445.1 L411.5,444.0 L411.7,444.2 L411.9,444.4 L412.1,445.1 L412.3,445.9 L412.4,445.9 L412.6,445.9 L412.8,446.3 L413.0,446.6 L413.2,446.7 L413.3,446.8 L413.5,447.3 L413.7,447.9 L413.9,449.2 L414.1,450.4 L414.3,450.5 L414.4,450.7 L414.6,450.7 L414.8,450.8 L415.0,451.1 L415.2,451.5 L415.3,451.1 L415.5,450.7 L415.7,451.5 L415.9,452.3 L416.1,451.7 L416.2,451.0 L416.4,450.4 L416.6,449.7 L416.8,449.8 L417.0,449.8 L417.2,450.7 L417.3,451.5 L417.5,451.4 L417.7,451.4 L417.9,450.6 L418.1,449.8 L418.2,449.6 L418.4,449.4 L418.6,451.0 L418.8,452.4 L419.0,452.0 L419.1,451.5 L419.3,451.2 L419.5,450.9 L419.7,450.4 L419.9,450.0 L420.1,451.0 L420.2,452.0 L420.4,451.3 L420.6,450.5 L420.8,451.0 L421.0,451.5 L421.1,450.2 L421.3,448.9 L421.5,449.8 L421.7,450.8 L421.9,451.1 L422.1,451.3 L422.2,451.4 L422.4,451.6 L422.6,449.8 L422.8,448.1 L423.0,447.3 L423.1,446.5 L423.3,446.3 L423.5,446.2 L423.7,445.3 L423.9,444.4 L424.0,445.0 L424.2,445.6 L424.4,445.1 L424.6,444.6 L424.8,444.6 L425.0,444.7 L425.1,444.5 L425.3,444.5 L425.5,444.2 L425.7,443.9 L425.9,444.1 L426.0,444.3 L426.2,443.5 L426.4,442.7 L426.6,442.6 L426.8,442.5 L427.0,443.0 L427.1,443.6 L427.3,444.1 L427.5,444.6 L427.7,443.6 L427.9,442.6 L428.0,444.1 L428.2,445.6 L428.4,445.6 L428.6,445.6 L428.8,444.2 L428.9,442.8 L429.1,442.8 L429.3,442.9 L429.5,442.7 L429.7,442.6 L429.9,445.5 L430.0,448.4 L430.2,451.3 L430.4,451.9 L430.6,451.5 L430.8,451.1 L430.9,450.5 L431.1,449.9 L431.3,450.6 L431.5,451.3 L431.7,451.3 L431.8,451.3 L432.0,451.7 L432.2,452.1 L432.4,451.9 L432.6,451.8 L432.8,450.7 L432.9,449.5 L433.1,449.7 L433.3,450.0 L433.5,450.9 L433.7,451.8 L433.8,451.8 L434.0,451.7 L434.2,451.4 L434.4,451.1 L434.6,450.5 L434.8,449.9 L434.9,450.9 L435.1,451.9 L435.3,451.3 L435.5,450.7 L435.7,451.9 L435.8,452.4 L436.0,452.4 L436.2,452.0 L436.4,451.0 L436.6,450.0 L436.7,447.5 L436.9,445.0 L437.1,444.0 L437.3,445.2 L437.5,444.9 L437.7,444.5 L437.8,443.5 L438.0,442.5 L438.2,443.1 L438.4,443.7 L438.6,443.7 L438.7,443.8 L438.9,443.0 L439.1,442.3 L439.3,442.4 L439.5,442.5 L439.7,441.8 L439.8,441.3 L440.0,441.6 L440.2,441.8 L440.4,442.7 L440.6,443.6 L440.7,443.3 L440.9,443.1 L441.1,443.1 L441.3,443.1 L441.5,444.0 L441.6,444.8 L441.8,444.6 L442.0,446.8 L442.2,448.0 L442.4,449.3 L442.6,450.9 L442.7,452.4 L442.9,450.9 L443.1,449.2 L443.3,449.7 L443.5,450.1 L443.6,450.4 L443.8,450.7 L444.0,450.2 L444.2,449.8 L444.4,449.8 L444.5,449.9 L444.7,449.4 L444.9,448.9 L445.1,450.0 L445.3,451.0 L445.5,450.9 L445.6,450.8 L445.8,450.8 L446.0,450.8 L446.2,449.4 L446.4,448.0 L446.5,448.6 L446.7,445.8 L446.9,443.6 L447.1,441.4 L447.3,441.0 L447.5,440.7 L447.6,440.9 L447.8,441.2 L448.0,440.7 L448.2,440.2 L448.4,440.1 L448.5,439.9 L448.7,438.5 L448.9,437.1 L449.1,443.0 L449.3,448.9 L449.4,450.1 L449.6,448.1 L449.8,448.5 L450.0,448.9 L450.2,449.6 L450.4,450.4 L450.5,450.0 L450.7,449.6 L450.9,449.8 L451.1,450.0 L451.3,449.6 L451.4,449.2 L451.6,448.5 L451.8,447.9 L452.0,449.6 L452.2,451.4 L452.4,449.4 L452.5,447.3 L452.7,448.5 L452.9,449.7 L453.1,448.3 L453.3,447.0 L453.4,447.7 L453.6,448.5 L453.8,447.9 L454.0,447.3 L454.2,447.7 L454.3,446.4 L454.5,444.3 L454.7,442.2 L454.9,441.1 L455.1,440.1 L455.3,440.5 L455.4,440.9 L455.6,439.6 L455.8,438.2 L456.0,438.0 L456.2,437.7 L456.3,436.4 L456.5,435.2 L456.7,437.9 L456.9,440.7 L457.1,440.5 L457.2,440.1 L457.4,440.1 L457.6,440.0 L457.8,443.0 L458.0,446.2 L458.2,443.6 L458.3,441.1 L458.5,437.1 L458.7,433.0 L458.9,432.0 L459.1,431.0 L459.2,433.8 L459.4,436.7 L459.6,434.4 L459.8,431.9 L460.0,432.4 L460.2,433.0 L460.3,433.7 L460.5,434.5 L460.7,434.5 L460.9,434.5 L461.1,434.2 L461.2,433.9 L461.4,435.0 L461.6,436.2 L461.8,435.2 L462.0,434.2 L462.1,431.8 L462.3,429.3 L462.5,430.0 L462.7,430.6 L462.9,427.6 L463.1,424.6 L463.2,427.8 L463.4,430.9 L463.6,433.8 L463.8,436.6 L464.0,433.1 L464.1,429.6 L464.3,428.4 L464.5,427.1 L464.7,427.2 L464.9,427.2 L465.1,427.9 L465.2,428.5 L465.4,430.1 L465.6,431.6 L465.8,428.3 L466.0,425.1 L466.1,428.5 L466.3,431.8 L466.5,430.0 L466.7,428.2 L466.9,429.8 L467.0,431.4 L467.2,432.9 L467.4,434.3 L467.6,430.8 L467.8,427.3 L468.0,432.9 L468.1,438.6 L468.3,436.4 L468.5,434.3 L468.7,432.6 L468.9,431.0 L469.0,432.3 L469.2,433.5 L469.4,432.2 L469.6,430.8 L469.8,432.8 L469.9,434.7 L470.1,435.9 L470.3,437.1 L470.5,434.4 L470.7,431.8 L470.9,435.7 L471.0,439.6 L471.2,439.8 L471.4,440.0 L471.6,441.4 L471.8,442.9 L471.9,442.7 L472.1,442.5 L472.3,441.1 L472.5,439.6 L472.7,440.0 L472.9,440.4 L473.0,441.3 L473.2,442.3 L473.4,443.4 L473.6,444.6 L473.8,443.2 L473.9,441.8 L474.1,444.9 L474.3,448.0 L474.5,446.7 L474.7,445.3 L474.8,445.5 L475.0,445.7 L475.2,446.5 L475.4,447.4 L475.6,446.4 L475.8,445.5 L475.9,446.6 L476.1,447.7 L476.3,448.0 L476.5,448.3 L476.7,445.7 L476.8,443.1 L477.0,444.4 L477.2,445.7 L477.4,445.5 L477.6,445.2 L477.8,446.6 L477.9,447.9 L478.1,447.2 L478.3,446.5 L478.5,446.8 L478.7,447.2 L478.8,446.8 L479.0,446.4 L479.2,445.3 L479.4,444.1 L479.6,446.7 L479.7,449.2 L479.9,448.8 L480.1,448.3 L480.3,448.6 L480.5,448.9 L480.7,452.3 L480.8,452.4 L481.0,452.4 L481.2,451.6 L481.4,450.2 L481.6,448.8 L481.7,448.2 L481.9,447.6 L482.1,448.8 L482.3,450.0 L482.5,448.3 L482.6,446.6 L482.8,446.5 L483.0,446.3 L483.2,448.0 L483.4,449.7 L483.6,447.9 L483.7,446.1 L483.9,445.8 L484.1,445.5 L484.3,446.7 L484.5,448.0 L484.6,449.4 L484.8,450.8 L485.0,448.4 L485.2,446.0 L485.4,447.6 L485.6,449.3 L485.7,449.5 L485.9,449.7 L486.1,449.2 L486.3,448.7 L486.5,449.4 L486.6,450.0 L486.8,448.4 L487.0,446.9 L487.2,447.2 L487.4,447.5 L487.5,447.0 L487.7,446.6 L487.9,447.2 L488.1,447.9 L488.3,449.2 L488.5,450.6 L488.6,449.9 L488.8,449.3 L489.0,448.3 L489.2,447.3 L489.4,448.6 L489.5,449.8 L489.7,446.6 L489.9,443.3 L490.1,446.4 L490.3,449.5 L490.5,449.9 L490.6,450.2 L490.8,448.5 L491.0,446.8 L491.2,447.2 L491.4,447.6 L491.5,448.4 L491.7,449.2 L491.9,449.4 L492.1,449.6 L492.3,448.9 L492.4,448.3 L492.6,447.9 L492.8,447.5 L493.0,447.6 L493.2,447.7 L493.4,448.7 L493.5,449.7 L493.7,449.0 L493.9,448.3 L494.1,447.9 L494.3,447.5 L494.4,447.6 L494.6,447.7 L494.8,451.5 L495.0,452.4 L495.2,452.4 L495.3,451.0 L495.5,450.8 L495.7,450.7 L495.9,450.2 L496.1,449.7 L496.3,449.3 L496.4,448.9 L496.6,448.2 L496.8,447.4 L497.0,447.7 L497.2,448.0 L497.3,448.8 L497.5,449.5 L497.7,449.4 L497.9,449.2 L498.1,447.5 L498.3,445.8 L498.4,448.2 L498.6,450.5 L498.8,449.6 L499.0,448.7 L499.2,447.5 L499.3,446.3 L499.5,447.5 L499.7,448.7 L499.9,451.0 L500.1,452.4 L500.2,451.0 L500.4,448.6 L500.6,449.4 L500.8,450.1 L501.0,449.9 L501.2,449.6 L501.3,448.5 L501.5,447.3 L501.7,447.9 L501.9,448.5 L502.1,449.2 L502.2,449.9 L502.4,448.8 L502.6,447.7 L502.8,448.1 L503.0,448.6 L503.2,448.9 L503.3,449.2 L503.5,449.0 L503.7,448.9 L503.9,448.9 L504.1,449.0 L504.2,449.5 L504.4,450.1 L504.6,450.2 L504.8,450.4 L505.0,449.9 L505.1,449.4 L505.3,450.4 L505.5,451.3 L505.7,451.6 L505.9,451.9 L506.1,449.4 L506.2,446.9 L506.4,448.4 L506.6,449.9 L506.8,449.7 L507.0,449.5 L507.1,449.6 L507.3,449.7 L507.5,449.5 L507.7,449.4 L507.9,449.4 L508.0,449.4 L508.2,449.3 L508.4,449.3 L508.6,450.2 L508.8,451.0 L509.0,449.3 L509.1,447.6 L509.3,449.2 L509.5,450.8 L509.7,449.1 L509.9,447.4 L510.0,450.3 L510.2,452.4 L510.4,452.3 L510.6,451.5 L510.8,449.5 L511.0,447.5 L511.1,448.6 L511.3,449.7 L511.5,450.2 L511.7,450.7 L511.9,449.7 L512.0,448.7 L512.2,450.1 L512.4,451.4 L512.6,450.3 L512.8,449.2 L512.9,451.5 L513.1,452.4 L513.3,452.0 L513.5,450.3 L513.7,450.5 L513.9,450.7 L514.0,449.5 L514.2,448.3 L514.4,448.0 L514.6,447.7 L514.8,449.4 L514.9,451.1 L515.1,448.6 L515.3,446.2 L515.5,448.4 L515.7,450.5 L515.9,452.0 L516.0,452.4 L516.2,452.4 L516.4,452.4 L516.6,450.2 L516.8,446.3 L516.9,447.9 L517.1,449.5 L517.3,450.1 L517.5,450.6 L517.7,450.7 L517.8,450.8 L518.0,451.2 L518.2,451.5 L518.4,449.1 L518.6,446.7 L518.8,448.1 L518.9,449.5 L519.1,447.7 L519.3,445.8 L519.5,447.8 L519.7,449.7 L519.8,451.8 L520.0,452.4 L520.2,450.8 L520.4,447.7 L520.6,448.9 L520.7,450.1 L520.9,449.9 L521.1,449.8 L521.3,448.0 L521.5,446.3 L521.7,448.0 L521.8,449.8 L522.0,448.4 L522.2,447.0 L522.4,448.2 L522.6,449.3 L522.7,450.1 L522.9,450.8 L523.1,449.6 L523.3,448.3 L523.5,449.4 L523.7,450.5 L523.8,448.7 L524.0,446.9 L524.2,447.2 L524.4,447.4 L524.6,448.3 L524.7,449.2 L524.9,448.6 L525.1,448.1 L525.3,448.1 L525.5,448.2 L525.6,449.0 L525.8,449.8 L526.0,448.7 L526.2,447.5 L526.4,448.6 L526.6,449.7 L526.7,448.9 L526.9,448.1 L527.1,449.6 L527.3,451.1 L527.5,450.1 L527.6,449.1 L527.8,448.8 L528.0,448.5 L528.2,449.6 L528.4,450.8 L528.6,450.4 L528.7,450.1 L528.9,450.2 L529.1,450.3 L529.3,449.1 L529.5,447.8 L529.6,449.2 L529.8,450.7 L530.0,449.5 L530.2,448.4 L530.4,447.3 L530.5,446.3 L530.7,447.4 L530.9,448.5 L531.1,450.5 L531.3,452.4 L531.5,450.7 L531.6,449.0 L531.8,448.1 L532.0,447.2 L532.2,448.5 L532.4,449.8 L532.5,448.4 L532.7,447.1 L532.9,447.5 L533.1,448.0 L533.3,448.2 L533.4,448.4 L533.6,449.1 L533.8,449.7 L534.0,450.0 L534.2,450.2 L534.4,450.0 L534.5,449.7 L534.7,449.4 L534.9,449.1 L535.1,448.6 L535.3,448.2 L535.4,448.3 L535.6,448.4 L535.8,449.1 L536.0,449.8 L536.2,449.4 L536.4,449.1 L536.5,448.7 L536.7,448.4 L536.9,450.4 L537.1,452.4 L537.3,451.5 L537.4,450.7 L537.6,450.7 L537.8,450.7 L538.0,450.2 L538.2,449.6 L538.3,449.6 L538.5,449.7 L538.7,449.7 L538.9,449.7 L539.1,450.3 L539.3,450.9 L539.4,449.4 L539.6,447.8 L539.8,448.2 L540.0,448.6 L540.2,450.5 L540.3,452.4 L540.5,450.7 L540.7,449.1 L540.9,450.2 L541.1,451.4 L541.3,448.6 L541.4,445.8 L541.6,447.9 L541.8,450.0 L542.0,450.0 L542.2,449.9 L542.3,449.4 L542.5,449.0 L542.7,449.2 L542.9,449.5 L543.1,449.4 L543.2,449.2 L543.4,447.7 L543.6,446.1 L543.8,447.4 L544.0,448.7 L544.2,448.1 L544.3,447.5 L544.5,447.2 L544.7,446.9 L544.9,449.0 L545.1,451.0 L545.2,448.4 L545.4,445.8 L545.6,446.8 L545.8,447.8 L546.0,447.5 L546.1,447.2 L546.3,449.0 L546.5,450.8 L546.7,449.1 L546.9,447.5 L547.1,447.9 L547.2,448.3 L547.4,449.2 L547.6,450.1 L547.8,447.4 L548.0,444.6 L548.1,446.3 L548.3,448.0 L548.5,448.8 L548.7,449.5 L548.9,449.1 L549.1,448.7 L549.2,448.0 L549.4,447.3 L549.6,447.1 L549.8,446.9 L550.0,447.4 L550.1,447.9 L550.3,447.3 L550.5,446.7 L550.7,446.4 L550.9,446.2 L551.0,448.8 L551.2,451.5 L551.4,450.7 L551.6,450.0 L551.8,450.5 L552.0,450.9 L552.1,449.9 L552.3,448.9 L552.5,447.5 L552.7,446.2 L552.9,447.0 L553.0,447.8 L553.2,449.4 L553.4,451.1 L553.6,450.4 L553.8,449.6 L554.0,448.3 L554.1,447.0 L554.3,448.5 L554.5,450.1 L554.7,449.6 L554.9,449.2 L555.0,448.8 L555.2,448.4 L555.4,450.5 L555.6,452.4 L555.8,450.0 L555.9,447.5 L556.1,447.9 L556.3,448.3 L556.5,448.1 L556.7,447.9 L556.9,449.4 L557.0,450.9 L557.2,450.7 L557.4,450.5 L557.6,450.3 L557.8,450.2 L557.9,449.3 L558.1,448.5 L558.3,448.7 L558.5,448.9 L558.7,448.8 L558.8,448.7 L559.0,447.1 L559.2,445.5 L559.4,446.0 L559.6,446.4 L559.8,448.4 L559.9,450.4 L560.1,450.3 L560.3,450.3 L560.5,447.9 L560.7,445.6 L560.8,447.6 L561.0,449.6 L561.2,447.9 L561.4,446.3 L561.6,446.1 L561.8,445.8 L561.9,447.9 L562.1,450.0 L562.3,449.8 L562.5,449.5 L562.7,449.2 L562.8,448.8 L563.0,449.7 L563.2,450.7 L563.4,450.8 L563.6,450.9 L563.7,450.3 L563.9,449.7 L564.1,448.5 L564.3,447.3 L564.5,448.6 L564.7,449.8 L564.8,449.6 L565.0,449.4 L565.2,449.6 L565.4,449.9 L565.6,450.7 L565.7,451.6 L565.9,448.8 L566.1,446.0 L566.3,449.8 L566.5,452.4 L566.7,451.9 L566.8,450.2 L567.0,449.0 L567.2,447.8 L567.4,449.8 L567.6,451.7 L567.7,449.7 L567.9,447.7 L568.1,447.0 L568.3,446.4 L568.5,448.4 L568.6,450.5 L568.8,449.4 L569.0,448.3 L569.2,449.6 L569.4,450.9 L569.6,449.3 L569.7,447.6 L569.9,448.0 L570.1,448.4 L570.3,448.3 L570.5,448.1 L570.6,447.0 L570.8,445.8 L571.0,446.7 L571.2,447.5 L571.4,446.6 L571.5,445.8 L571.7,446.4 L571.9,447.1 L572.1,448.9 L572.3,450.6 L572.5,449.2 L572.6,447.7 L572.8,447.5 L573.0,447.2 L573.2,449.1 L573.4,451.0 L573.5,448.2 L573.7,445.5 L573.9,446.7 L574.1,447.9 L574.3,447.6 L574.5,447.3 L574.6,448.5 L574.8,449.7 L575.0,448.7 L575.2,447.8 L575.4,447.5 L575.5,447.3 L575.7,447.9 L575.9,448.4 L576.1,448.0 L576.3,447.6 L576.4,449.7 L576.6,451.9 L576.8,448.4 L577.0,445.0 L577.2,447.4 L577.4,449.8 L577.5,450.8 L577.7,451.8 L577.9,450.6 L578.1,449.4 L578.3,449.2 L578.4,449.1 L578.6,447.7 L578.8,446.3 L579.0,447.8 L579.2,449.2 L579.4,448.0 L579.5,446.8 L579.7,448.0 L579.9,449.1 L580.1,446.0 L580.3,442.9 L580.4,444.5 L580.6,446.1 L580.8,444.7 L581.0,443.3 L581.2,446.2 L581.3,449.1 L581.5,447.4 L581.7,445.7 L581.9,447.3 L582.1,448.8 L582.3,447.3 L582.4,445.8 L582.6,445.7 L582.8,445.6 L583.0,447.8 L583.2,450.0 L583.3,449.5 L583.5,449.0 L583.7,449.1 L583.9,449.1 L584.1,449.4 L584.3,449.7 L584.4,448.9 L584.6,448.1 L584.8,448.3 L585.0,448.5 L585.2,449.0 L585.3,449.5 L585.5,447.9 L585.7,446.4 L585.9,445.9 L586.1,445.5 L586.2,447.3 L586.4,449.1 L586.6,448.3 L586.8,447.6 L587.0,447.0 L587.2,446.4 L587.3,446.6 L587.5,446.8 L587.7,447.3 L587.9,447.7 L588.1,446.2 L588.2,444.7 L588.4,444.7 L588.6,444.6 L588.8,444.8 L589.0,444.9 L589.1,445.8 L589.3,446.6 L589.5,444.4 L589.7,442.3 L589.9,442.5 L590.1,442.7 L590.2,444.8 L590.4,446.9 L590.6,446.6 L590.8,446.3 L591.0,445.0 L591.1,443.7 L591.3,445.6 L591.5,447.6 L591.7,446.5 L591.9,445.3 L592.1,445.7 L592.2,446.0 L592.4,446.8 L592.6,447.5 L592.8,447.1 L593.0,446.7 L593.1,448.0 L593.3,449.3 L593.5,448.3 L593.7,447.3 L593.9,448.8 L594.0,450.2 L594.2,446.1 L594.4,441.9 L594.6,442.7 L594.8,443.5 L595.0,443.7 L595.1,444.0 L595.3,445.0 L595.5,445.9 L595.7,445.2 L595.9,444.6 L596.0,444.3 L596.2,444.1 L596.4,444.3 L596.6,444.6 L596.8,444.7 L597.0,444.8 L597.1,446.7 L597.3,448.5 L597.5,447.2 L597.7,445.9 L597.9,446.8 L598.0,447.8 L598.2,448.5 L598.4,449.1 L598.6,449.1 L598.8,449.1 L598.9,447.6 L599.1,446.0 L599.3,445.4 L599.5,444.9 L599.7,447.2 L599.9,449.6 L600.0,446.6 L600.2,443.6 L600.4,443.9 L600.6,444.2 L600.8,446.1 L600.9,448.0 L601.1,448.1 L601.3,448.3 L601.5,448.0 L601.7,447.6 L601.8,446.7 L602.0,445.7 L602.2,447.1 L602.4,448.5 L602.6,449.3 L602.8,450.0 L602.9,448.7 L603.1,447.3 L603.3,449.7 L603.5,452.2 L603.7,450.1 L603.8,448.0 L604.0,447.0 L604.2,446.1 L604.4,447.0 L604.6,447.9 L604.8,447.5 L604.9,447.1 L605.1,447.4 L605.3,447.8 L605.5,447.6 L605.7,447.4 L605.8,448.1 L606.0,448.7 L606.2,449.7 L606.4,450.7 L606.6,450.2 L606.7,449.7 L606.9,449.6 L607.1,449.5 L607.3,448.2 L607.5,447.0 L607.7,446.6 L607.8,446.3 L608.0,447.5 L608.2,448.7 L608.4,449.8 L608.6,451.0 L608.7,451.0 L608.9,450.9 L609.1,450.4 L609.3,449.9 L609.5,448.4 L609.7,446.8 L609.8,447.9 L610.0,448.9 L610.2,449.3 L610.4,449.7 L610.6,450.4 L610.7,451.1 L610.9,449.5 L611.1,447.9 L611.3,448.4 L611.5,449.0 L611.6,449.4 L611.8,449.7 L612.0,449.6 L612.2,449.4 L612.4,447.9 L612.6,446.3 L612.7,448.1 L612.9,450.0 L613.1,448.2 L613.3,446.3 L613.5,446.8 L613.6,447.2 L613.8,448.4 L614.0,449.6 L614.2,448.8 L614.4,448.0 L614.5,449.0 L614.7,449.9 L614.9,450.6 L615.1,451.3 L615.3,450.8 L615.5,450.3 L615.6,450.9 L615.8,451.5 L616.0,450.1 L616.2,448.8 L616.4,449.2 L616.5,449.7 L616.7,449.2 L616.9,448.7 L617.1,448.4 L617.3,448.2 L617.5,452.0 L617.6,452.4 L617.8,452.4 L618.0,449.2 L618.2,451.3 L618.4,452.4 L618.5,451.4 L618.7,449.5 L618.9,450.5 L619.1,451.6 L619.3,450.6 L619.4,449.7 L619.6,448.4 L619.8,447.2 L620.0,450.2 L620.2,452.4 L620.4,451.3 L620.5,449.6 L620.7,449.8 L620.9,450.0 L621.1,451.5 L621.3,452.4 L621.4,450.8 L621.6,449.1 L621.8,449.5 L622.0,449.9 L622.2,450.4 L622.4,450.8 L622.5,451.0 L622.7,451.2 L622.9,449.8 L623.1,448.6 L623.3,450.2 L623.4,451.5 L623.6,451.9 L623.8,452.3 L624.0,452.2 L624.2,452.1 L624.3,452.1 L624.5,452.0 L624.7,452.0 L624.9,452.0 L625.1,452.0 L625.3,451.9 L625.4,452.1 L625.6,452.2 L625.8,452.0 L626.0,451.8 L626.2,451.9 L626.3,452.1 L626.5,452.2 L626.7,452.3 L626.9,452.2 L627.1,452.1 L627.2,452.1 L627.4,452.0 L627.6,451.9 L627.8,451.7 L628.0,451.8 L628.2,451.8 L628.3,451.9 L628.5,452.0 L628.7,452.0 L628.9,452.0 L629.1,451.9 L629.2,451.9 L629.4,451.7 L629.6,451.5 L629.8,451.8 L630.0,452.1 L630.2,452.0 L630.3,451.9 L630.5,451.8 L630.7,451.8 L630.9,452.0 L631.1,452.2 L631.2,452.1 L631.4,451.9 L631.6,451.9 L631.8,452.0 L632.0,452.0 L632.1,452.1 L632.3,452.0 L632.5,451.9 L632.7,451.8 L632.9,451.8 L633.1,451.7 L633.2,451.7 L633.4,451.9 L633.6,452.1 L633.8,452.0 L634.0,452.0 L634.1,451.7 L634.3,451.4 L634.5,451.9 L634.7,452.3 L634.9,452.1 L635.1,452.0 L635.2,451.9 L635.4,451.8 L635.6,451.9 L635.8,452.0 L636.0,451.9 L636.1,451.9 L636.3,451.9 L636.5,452.0 L636.7,451.9 L636.9,451.9 L637.0,451.8 L637.2,451.7 L637.4,451.9 L637.6,452.1 L637.8,452.1 L638.0,452.0 L638.1,452.0 L638.3,452.1 L638.5,452.1 L638.7,452.2 L638.9,452.1 L639.0,452.1 L639.2,452.2 L639.4,452.3 L639.6,452.1 L639.8,451.9 L639.9,451.8 L640.1,451.7 L640.3,451.7 L640.5,451.7 L640.7,451.7 L640.9,451.8 L641.0,452.1 L641.2,452.3 L641.4,452.0 L641.6,451.7 L641.8,452.0 L641.9,452.3 L642.1,452.2 L642.3,452.1 L642.5,451.9 L642.7,451.7 L642.9,452.0 L643.0,452.4 L643.2,452.1 L643.4,451.9 L643.6,452.0 L643.8,452.0 L643.9,452.1 L644.1,452.2 L644.3,452.3 L644.5,452.3 L644.7,452.2 L644.8,452.0 L645.0,452.1 L645.2,452.2 L645.4,452.1 L645.6,451.9 L645.8,451.9 L645.9,451.8 L646.1,452.2 L646.3,452.4 L646.5,452.4 L646.7,452.3 L646.8,452.3 L647.0,452.2 L647.2,452.3" fill="none" stroke="#111" stroke-width="0.85" stroke-linejoin="round"/>
<rect x="461.2" y="397.9" width="40.6" height="54.2" fill="#87ceeb" opacity="0.35"/>
<rect x="382.5" y="397.5" width="277.0" height="55.0" fill="none" stroke="#5a5a5a" stroke-width="0.85"/>
<text x="378.30" y="454.30" font-size="4.7" text-anchor="end" fill="#222" textLength="10.24" lengthAdjust="spacingAndGlyphs">0.00</text>
<text x="378.30" y="442.05" font-size="4.7" text-anchor="end" fill="#222" textLength="10.24" lengthAdjust="spacingAndGlyphs">0.05</text>
<text x="378.30" y="429.80" font-size="4.7" text-anchor="end" fill="#222" textLength="10.24" lengthAdjust="spacingAndGlyphs">0.10</text>
<text x="378.30" y="417.55" font-size="4.7" text-anchor="end" fill="#222" textLength="10.24" lengthAdjust="spacingAndGlyphs">0.15</text>
<text x="378.30" y="405.30" font-size="4.7" text-anchor="end" fill="#222" textLength="10.24" lengthAdjust="spacingAndGlyphs">0.20</text>
<text x="395.20" y="460.50" font-size="4.7" text-anchor="middle" fill="#222" textLength="2.99" lengthAdjust="spacingAndGlyphs">0</text>
<text x="431.49" y="460.50" font-size="4.7" text-anchor="middle" fill="#222" textLength="8.97" lengthAdjust="spacingAndGlyphs">200</text>
<text x="467.77" y="460.50" font-size="4.7" text-anchor="middle" fill="#222" textLength="8.97" lengthAdjust="spacingAndGlyphs">400</text>
<text x="504.06" y="460.50" font-size="4.7" text-anchor="middle" fill="#222" textLength="8.97" lengthAdjust="spacingAndGlyphs">600</text>
<text x="540.34" y="460.50" font-size="4.7" text-anchor="middle" fill="#222" textLength="8.97" lengthAdjust="spacingAndGlyphs">800</text>
<text x="576.63" y="460.50" font-size="4.7" text-anchor="middle" fill="#222" textLength="11.96" lengthAdjust="spacingAndGlyphs">1000</text>
<text x="612.92" y="460.50" font-size="4.7" text-anchor="middle" fill="#222" textLength="11.96" lengthAdjust="spacingAndGlyphs">1200</text>
<text x="649.20" y="460.50" font-size="4.7" text-anchor="middle" fill="#222" textLength="11.96" lengthAdjust="spacingAndGlyphs">1400</text>
<text x="485.80" y="394.60" font-size="6.6" fill="#222" textLength="3.30" lengthAdjust="spacingAndGlyphs" stroke="#222" stroke-width="0.16">F</text>
<text x="489.50" y="395.90" font-size="4.8" fill="#222" textLength="7.00" lengthAdjust="spacingAndGlyphs" stroke="#222" stroke-width="0.16">ST</text>
<text x="499.00" y="394.60" font-size="6.6" fill="#222" textLength="58.30" lengthAdjust="spacingAndGlyphs" stroke="#222" stroke-width="0.16">(r: 0.07, p: 0.01)</text>
<path d="M395.2,517.6 L395.4,519.4 L395.6,521.2 L395.7,520.1 L395.9,519.0 L396.1,519.2 L396.3,519.5 L396.5,519.5 L396.7,519.6 L396.8,519.7 L397.0,519.8 L397.2,519.8 L397.4,519.7 L397.6,519.0 L397.7,518.2 L397.9,518.4 L398.1,518.6 L398.3,519.5 L398.5,520.3 L398.6,518.9 L398.8,517.5 L399.0,519.0 L399.2,520.5 L399.4,519.4 L399.6,518.4 L399.7,518.6 L399.9,518.8 L400.1,518.3 L400.3,517.7 L400.5,518.1 L400.6,518.6 L400.8,518.2 L401.0,517.8 L401.2,518.3 L401.4,518.9 L401.6,518.3 L401.7,517.8 L401.9,518.1 L402.1,518.4 L402.3,517.4 L402.5,516.4 L402.6,517.9 L402.8,519.4 L403.0,518.4 L403.2,517.3 L403.4,517.7 L403.5,518.1 L403.7,518.2 L403.9,518.3 L404.1,518.7 L404.3,519.1 L404.5,518.5 L404.6,517.9 L404.8,518.9 L405.0,519.9 L405.2,519.8 L405.4,519.8 L405.5,518.6 L405.7,517.5 L405.9,518.7 L406.1,519.9 L406.3,518.3 L406.4,516.7 L406.6,516.4 L406.8,516.8 L407.0,515.6 L407.2,511.9 L407.4,512.0 L407.5,513.0 L407.7,512.8 L407.9,511.9 L408.1,512.2 L408.3,518.2 L408.4,518.2 L408.6,518.3 L408.8,518.1 L409.0,513.1 L409.2,512.4 L409.4,512.9 L409.5,512.9 L409.7,513.5 L409.9,513.4 L410.1,514.4 L410.3,514.9 L410.4,517.3 L410.6,517.5 L410.8,515.1 L411.0,515.8 L411.2,519.3 L411.3,518.1 L411.5,512.3 L411.7,512.2 L411.9,516.6 L412.1,517.2 L412.3,516.5 L412.4,515.9 L412.6,514.2 L412.8,513.9 L413.0,515.1 L413.2,515.7 L413.3,515.9 L413.5,515.7 L413.7,514.4 L413.9,515.6 L414.1,516.8 L414.3,517.9 L414.4,518.9 L414.6,518.3 L414.8,517.6 L415.0,517.5 L415.2,517.5 L415.3,516.9 L415.5,516.4 L415.7,517.1 L415.9,517.8 L416.1,517.6 L416.2,517.3 L416.4,517.6 L416.6,517.9 L416.8,517.3 L417.0,516.8 L417.2,516.7 L417.3,516.7 L417.5,516.2 L417.7,515.7 L417.9,515.7 L418.1,515.8 L418.2,516.1 L418.4,516.4 L418.6,516.4 L418.8,516.3 L419.0,516.3 L419.1,516.4 L419.3,516.4 L419.5,516.3 L419.7,515.6 L419.9,514.8 L420.1,516.9 L420.2,519.0 L420.4,517.7 L420.6,516.5 L420.8,516.2 L421.0,515.9 L421.1,515.5 L421.3,515.0 L421.5,516.2 L421.7,517.3 L421.9,516.5 L422.1,515.8 L422.2,515.5 L422.4,515.2 L422.6,515.8 L422.8,516.5 L423.0,516.0 L423.1,514.1 L423.3,511.4 L423.5,511.8 L423.7,512.2 L423.9,511.7 L424.0,510.7 L424.2,511.9 L424.4,512.7 L424.6,513.0 L424.8,511.6 L425.0,513.9 L425.1,514.7 L425.3,515.5 L425.5,516.0 L425.7,516.5 L425.9,516.3 L426.0,512.0 L426.2,512.3 L426.4,511.0 L426.6,510.2 L426.8,514.1 L427.0,513.5 L427.1,513.9 L427.3,514.8 L427.5,513.8 L427.7,513.2 L427.9,509.3 L428.0,510.3 L428.2,508.5 L428.4,507.8 L428.6,514.9 L428.8,513.9 L428.9,511.1 L429.1,513.1 L429.3,511.1 L429.5,509.7 L429.7,507.6 L429.9,507.6 L430.0,509.0 L430.2,511.8 L430.4,517.0 L430.6,516.8 L430.8,516.5 L430.9,516.2 L431.1,516.0 L431.3,514.9 L431.5,513.9 L431.7,514.6 L431.8,515.3 L432.0,515.1 L432.2,515.0 L432.4,514.5 L432.6,514.0 L432.8,514.3 L432.9,514.6 L433.1,514.5 L433.3,514.4 L433.5,514.7 L433.7,514.9 L433.8,514.2 L434.0,513.4 L434.2,514.4 L434.4,515.3 L434.6,514.0 L434.8,512.7 L434.9,513.7 L435.1,514.8 L435.3,515.0 L435.5,515.2 L435.7,514.4 L435.8,513.6 L436.0,513.7 L436.2,513.8 L436.4,515.1 L436.6,516.3 L436.7,513.0 L436.9,510.7 L437.1,509.9 L437.3,512.1 L437.5,511.8 L437.7,508.8 L437.8,507.9 L438.0,506.8 L438.2,507.7 L438.4,509.9 L438.6,509.3 L438.7,506.8 L438.9,507.2 L439.1,514.3 L439.3,513.1 L439.5,511.8 L439.7,512.9 L439.8,513.9 L440.0,514.5 L440.2,508.2 L440.4,508.1 L440.6,514.9 L440.7,514.7 L440.9,507.8 L441.1,507.2 L441.3,509.3 L441.5,509.4 L441.6,508.3 L441.8,507.8 L442.0,505.9 L442.2,507.9 L442.4,510.4 L442.6,511.9 L442.7,513.3 L442.9,513.2 L443.1,513.0 L443.3,513.3 L443.5,513.5 L443.6,513.2 L443.8,513.0 L444.0,512.7 L444.2,512.4 L444.4,512.4 L444.5,512.4 L444.7,513.0 L444.9,513.7 L445.1,514.3 L445.3,515.0 L445.5,514.4 L445.6,513.9 L445.8,513.3 L446.0,512.7 L446.2,514.1 L446.4,515.6 L446.5,514.5 L446.7,512.4 L446.9,510.8 L447.1,506.6 L447.3,507.1 L447.5,513.4 L447.6,513.7 L447.8,514.0 L448.0,512.4 L448.2,510.9 L448.4,511.0 L448.5,511.2 L448.7,512.1 L448.9,508.7 L449.1,508.7 L449.3,507.9 L449.4,509.1 L449.6,510.8 L449.8,512.0 L450.0,513.6 L450.2,511.6 L450.4,508.8 L450.5,510.7 L450.7,512.7 L450.9,512.3 L451.1,512.1 L451.3,512.5 L451.4,513.5 L451.6,512.8 L451.8,511.9 L452.0,512.6 L452.2,513.6 L452.4,512.9 L452.5,511.5 L452.7,510.9 L452.9,510.2 L453.1,510.6 L453.3,511.4 L453.4,511.6 L453.6,512.1 L453.8,511.1 L454.0,510.1 L454.2,511.3 L454.3,512.4 L454.5,509.4 L454.7,504.6 L454.9,502.5 L455.1,512.2 L455.3,511.9 L455.4,499.0 L455.6,498.9 L455.8,511.7 L456.0,511.6 L456.2,498.7 L456.3,498.7 L456.5,498.8 L456.7,499.1 L456.9,500.1 L457.1,499.9 L457.2,512.2 L457.4,511.6 L457.6,497.1 L457.8,497.3 L458.0,511.6 L458.2,512.1 L458.3,505.5 L458.5,505.2 L458.7,498.5 L458.9,498.4 L459.1,506.0 L459.2,505.6 L459.4,503.5 L459.6,503.3 L459.8,494.2 L460.0,494.1 L460.2,511.1 L460.3,511.5 L460.5,498.3 L460.7,497.9 L460.9,504.1 L461.1,505.2 L461.2,506.3 L461.4,505.2 L461.6,504.1 L461.8,508.3 L462.0,512.1 L462.1,508.4 L462.3,504.2 L462.5,503.9 L462.7,503.7 L462.9,504.7 L463.1,505.6 L463.2,505.9 L463.4,506.3 L463.6,504.1 L463.8,501.7 L464.0,497.7 L464.1,492.5 L464.3,501.3 L464.5,507.9 L464.7,501.7 L464.9,494.4 L465.1,502.2 L465.2,509.2 L465.4,503.8 L465.6,497.8 L465.8,498.0 L466.0,498.3 L466.1,501.5 L466.3,504.5 L466.5,508.2 L466.7,511.7 L466.9,507.1 L467.0,502.1 L467.2,503.3 L467.4,504.5 L467.6,504.1 L467.8,503.6 L468.0,500.6 L468.1,497.1 L468.3,499.6 L468.5,501.8 L468.7,508.4 L468.9,514.4 L469.0,514.9 L469.2,515.3 L469.4,509.3 L469.6,502.4 L469.8,509.6 L469.9,515.9 L470.1,507.7 L470.3,496.8 L470.5,506.0 L470.7,513.2 L470.9,506.6 L471.0,498.1 L471.2,503.8 L471.4,508.4 L471.6,508.3 L471.8,508.2 L471.9,508.4 L472.1,508.7 L472.3,513.7 L472.5,518.4 L472.7,513.0 L472.9,507.0 L473.0,503.2 L473.2,498.3 L473.4,499.9 L473.6,501.3 L473.8,508.7 L473.9,515.1 L474.1,509.0 L474.3,501.8 L474.5,500.8 L474.7,499.8 L474.8,501.8 L475.0,503.6 L475.2,512.1 L475.4,519.4 L475.6,514.5 L475.8,509.3 L475.9,506.0 L476.1,502.5 L476.3,508.4 L476.5,513.6 L476.7,510.9 L476.8,507.9 L477.0,509.8 L477.2,511.6 L477.4,516.0 L477.6,520.1 L477.8,517.4 L477.9,514.6 L478.1,513.0 L478.3,511.4 L478.5,516.0 L478.7,520.3 L478.8,515.7 L479.0,510.9 L479.2,510.3 L479.4,509.8 L479.6,513.9 L479.7,517.7 L479.9,518.7 L480.1,519.7 L480.3,517.6 L480.5,515.3 L480.7,511.8 L480.8,508.0 L481.0,508.5 L481.2,508.9 L481.4,504.4 L481.6,498.5 L481.7,502.2 L481.9,505.2 L482.1,511.3 L482.3,516.6 L482.5,513.8 L482.6,510.9 L482.8,514.7 L483.0,518.2 L483.2,516.5 L483.4,514.7 L483.6,513.7 L483.7,512.6 L483.9,515.1 L484.1,517.4 L484.3,514.4 L484.5,511.3 L484.6,513.1 L484.8,514.8 L485.0,513.0 L485.2,511.2 L485.4,509.7 L485.6,508.2 L485.7,512.7 L485.9,516.9 L486.1,509.7 L486.3,501.0 L486.5,512.0 L486.6,520.9 L486.8,520.8 L487.0,520.7 L487.2,519.4 L487.4,518.2 L487.5,514.6 L487.7,510.8 L487.9,510.6 L488.1,510.4 L488.3,509.9 L488.5,509.4 L488.6,510.0 L488.8,510.7 L489.0,508.0 L489.2,505.1 L489.4,511.8 L489.5,517.7 L489.7,518.5 L489.9,519.3 L490.1,515.6 L490.3,511.6 L490.5,515.3 L490.6,518.8 L490.8,513.1 L491.0,506.9 L491.2,513.2 L491.4,518.9 L491.5,520.1 L491.7,521.1 L491.9,518.2 L492.1,515.2 L492.3,518.1 L492.4,521.0 L492.6,518.7 L492.8,516.4 L493.0,516.0 L493.2,515.7 L493.4,513.4 L493.5,511.1 L493.7,506.3 L493.9,500.5 L494.1,501.5 L494.3,502.5 L494.4,511.2 L494.6,518.5 L494.8,511.8 L495.0,504.1 L495.2,510.2 L495.3,515.6 L495.5,510.0 L495.7,503.5 L495.9,510.8 L496.1,517.1 L496.3,519.1 L496.4,521.1 L496.6,517.7 L496.8,514.3 L497.0,507.8 L497.2,499.7 L497.3,509.2 L497.5,516.8 L497.7,514.1 L497.9,511.2 L498.1,515.4 L498.3,519.4 L498.4,511.9 L498.6,503.2 L498.8,505.0 L499.0,506.6 L499.2,514.0 L499.3,520.5 L499.5,519.7 L499.7,518.9 L499.9,519.6 L500.1,520.3 L500.2,516.4 L500.4,512.3 L500.6,513.9 L500.8,515.6 L501.0,518.3 L501.2,520.9 L501.3,518.1 L501.5,515.3 L501.7,508.9 L501.9,501.3 L502.1,502.3 L502.2,503.3 L502.4,501.0 L502.6,498.0 L502.8,500.3 L503.0,502.0 L503.2,500.7 L503.3,499.2 L503.5,504.7 L503.7,509.2 L503.9,511.9 L504.1,514.5 L504.2,517.1 L504.4,519.6 L504.6,514.9 L504.8,509.8 L505.0,506.8 L505.1,503.5 L505.3,512.7 L505.5,520.5 L505.7,520.6 L505.9,520.7 L506.1,521.3 L506.2,521.9 L506.4,511.9 L506.6,499.0 L506.8,507.3 L507.0,513.9 L507.1,514.3 L507.3,514.7 L507.5,513.7 L507.7,512.6 L507.9,508.6 L508.0,504.2 L508.2,513.1 L508.4,520.7 L508.6,516.8 L508.8,512.7 L509.0,506.8 L509.1,499.5 L509.3,504.3 L509.5,508.2 L509.7,512.7 L509.9,516.8 L510.0,511.0 L510.2,504.6 L510.4,511.6 L510.6,517.8 L510.8,511.7 L511.0,504.8 L511.1,507.6 L511.3,510.3 L511.5,508.6 L511.7,506.9 L511.9,504.8 L512.0,502.5 L512.2,511.9 L512.4,519.9 L512.6,514.3 L512.8,508.1 L512.9,512.8 L513.1,517.2 L513.3,518.7 L513.5,520.1 L513.7,513.7 L513.9,506.6 L514.0,502.9 L514.2,498.1 L514.4,506.2 L514.6,512.3 L514.8,509.0 L514.9,505.4 L515.1,513.0 L515.3,519.7 L515.5,512.2 L515.7,503.5 L515.9,510.5 L516.0,516.6 L516.2,508.8 L516.4,499.0 L516.6,503.0 L516.8,506.3 L516.9,505.4 L517.1,504.4 L517.3,512.3 L517.5,519.2 L517.7,516.6 L517.8,513.9 L518.0,514.6 L518.2,515.2 L518.4,508.8 L518.6,501.0 L518.8,504.3 L518.9,507.2 L519.1,514.0 L519.3,520.0 L519.5,517.2 L519.7,514.2 L519.8,515.8 L520.0,517.3 L520.2,514.6 L520.4,511.8 L520.6,508.3 L520.7,504.6 L520.9,513.0 L521.1,520.4 L521.3,513.7 L521.5,506.1 L521.7,504.9 L521.8,503.6 L522.0,509.6 L522.2,515.0 L522.4,508.6 L522.6,501.1 L522.7,510.0 L522.9,517.4 L523.1,516.8 L523.3,516.3 L523.5,512.7 L523.7,509.0 L523.8,510.5 L524.0,512.0 L524.2,511.7 L524.4,511.4 L524.6,506.5 L524.7,500.7 L524.9,500.8 L525.1,500.9 L525.3,504.8 L525.5,508.3 L525.6,503.8 L525.8,498.1 L526.0,501.4 L526.2,504.0 L526.4,506.4 L526.6,508.6 L526.7,511.6 L526.9,514.4 L527.1,513.2 L527.3,512.0 L527.5,508.1 L527.6,503.7 L527.8,510.9 L528.0,517.2 L528.2,517.6 L528.4,517.9 L528.6,516.6 L528.7,515.2 L528.9,515.4 L529.1,515.7 L529.3,511.0 L529.5,505.8 L529.6,512.6 L529.8,518.8 L530.0,516.2 L530.2,513.5 L530.4,508.9 L530.5,503.7 L530.7,510.1 L530.9,515.6 L531.1,515.0 L531.3,514.4 L531.5,513.8 L531.6,513.1 L531.8,512.0 L532.0,511.0 L532.2,514.2 L532.4,517.3 L532.5,516.9 L532.7,516.5 L532.9,515.1 L533.1,513.6 L533.3,507.6 L533.4,500.4 L533.6,502.9 L533.8,505.2 L534.0,513.9 L534.2,521.5 L534.4,515.7 L534.5,509.4 L534.7,512.0 L534.9,514.5 L535.1,508.9 L535.3,502.4 L535.4,508.1 L535.6,513.1 L535.8,513.5 L536.0,513.9 L536.2,515.6 L536.4,517.2 L536.5,519.2 L536.7,521.3 L536.9,516.1 L537.1,510.6 L537.3,508.9 L537.4,507.2 L537.6,505.3 L537.8,503.2 L538.0,505.5 L538.2,507.7 L538.3,509.0 L538.5,510.3 L538.7,515.9 L538.9,521.2 L539.1,516.6 L539.3,511.8 L539.4,513.6 L539.6,515.3 L539.8,515.9 L540.0,516.5 L540.2,508.6 L540.3,498.4 L540.5,502.1 L540.7,505.2 L540.9,508.9 L541.1,512.4 L541.3,506.8 L541.4,500.1 L541.6,501.6 L541.8,502.9 L542.0,510.4 L542.2,516.9 L542.3,516.1 L542.5,515.3 L542.7,509.4 L542.9,502.6 L543.1,502.3 L543.2,502.0 L543.4,511.1 L543.6,518.7 L543.8,514.9 L544.0,510.9 L544.2,509.1 L544.3,507.2 L544.5,511.9 L544.7,516.2 L544.9,515.6 L545.1,515.1 L545.2,518.5 L545.4,521.7 L545.6,512.5 L545.8,501.5 L546.0,510.0 L546.1,517.2 L546.3,514.0 L546.5,510.6 L546.7,508.1 L546.9,505.5 L547.1,508.6 L547.2,511.4 L547.4,505.8 L547.6,498.6 L547.8,500.5 L548.0,502.1 L548.1,501.9 L548.3,501.7 L548.5,509.2 L548.7,515.6 L548.9,515.7 L549.1,515.9 L549.2,510.9 L549.4,505.4 L549.6,506.2 L549.8,507.0 L550.0,512.3 L550.1,517.2 L550.3,513.2 L550.5,508.9 L550.7,508.4 L550.9,507.9 L551.0,514.6 L551.2,520.6 L551.4,516.6 L551.6,512.4 L551.8,512.3 L552.0,512.2 L552.1,513.0 L552.3,513.8 L552.5,507.4 L552.7,499.4 L552.9,504.7 L553.0,509.1 L553.2,513.4 L553.4,517.5 L553.6,516.1 L553.8,514.6 L554.0,517.1 L554.1,519.5 L554.3,513.6 L554.5,507.0 L554.7,509.0 L554.9,510.8 L555.0,508.1 L555.2,505.1 L555.4,504.5 L555.6,503.8 L555.8,502.5 L555.9,501.1 L556.1,502.7 L556.3,504.1 L556.5,503.7 L556.7,503.2 L556.9,506.8 L557.0,510.0 L557.2,509.7 L557.4,509.3 L557.6,513.3 L557.8,516.9 L557.9,517.1 L558.1,517.2 L558.3,514.8 L558.5,512.2 L558.7,513.5 L558.8,514.7 L559.0,512.7 L559.2,510.6 L559.4,508.8 L559.6,507.0 L559.8,509.2 L559.9,511.4 L560.1,512.8 L560.3,514.1 L560.5,517.5 L560.7,520.7 L560.8,519.3 L561.0,518.0 L561.2,510.0 L561.4,500.3 L561.6,508.0 L561.8,514.3 L561.9,508.2 L562.1,501.0 L562.3,508.0 L562.5,513.9 L562.7,516.3 L562.8,518.6 L563.0,517.1 L563.2,515.5 L563.4,509.3 L563.6,501.9 L563.7,506.0 L563.9,509.6 L564.1,506.9 L564.3,504.0 L564.5,509.7 L564.7,514.7 L564.8,515.2 L565.0,515.8 L565.2,516.0 L565.4,516.3 L565.6,512.3 L565.7,508.0 L565.9,510.8 L566.1,513.4 L566.3,509.1 L566.5,504.3 L566.7,512.8 L566.8,520.1 L567.0,520.2 L567.2,520.3 L567.4,510.9 L567.6,498.9 L567.7,506.6 L567.9,512.6 L568.1,514.3 L568.3,515.9 L568.5,510.7 L568.6,504.9 L568.8,502.2 L569.0,499.0 L569.2,498.4 L569.4,497.7 L569.6,507.9 L569.7,515.6 L569.9,508.0 L570.1,498.2 L570.3,504.1 L570.5,508.7 L570.6,513.2 L570.8,517.5 L571.0,509.6 L571.2,499.7 L571.4,508.5 L571.5,515.6 L571.7,512.7 L571.9,509.7 L572.1,509.2 L572.3,508.7 L572.5,509.8 L572.6,510.8 L572.8,509.4 L573.0,507.8 L573.2,513.5 L573.4,518.7 L573.5,516.8 L573.7,514.8 L573.9,511.8 L574.1,508.7 L574.3,505.4 L574.5,501.8 L574.6,506.9 L574.8,511.3 L575.0,516.5 L575.2,521.3 L575.4,520.3 L575.5,519.2 L575.7,510.7 L575.9,500.2 L576.1,504.4 L576.3,507.9 L576.4,509.2 L576.6,510.5 L576.8,509.8 L577.0,509.0 L577.2,505.5 L577.4,501.6 L577.5,502.7 L577.7,503.7 L577.9,508.0 L578.1,511.9 L578.3,513.9 L578.4,515.8 L578.6,515.8 L578.8,515.7 L579.0,515.3 L579.2,514.8 L579.4,514.8 L579.5,514.8 L579.7,507.5 L579.9,498.0 L580.1,501.6 L580.3,504.5 L580.4,506.0 L580.6,507.4 L580.8,506.4 L581.0,505.4 L581.2,507.1 L581.3,508.6 L581.5,508.7 L581.7,508.9 L581.9,508.2 L582.1,507.5 L582.3,503.3 L582.4,498.0 L582.6,509.7 L582.8,518.6 L583.0,519.5 L583.2,520.4 L583.3,517.1 L583.5,513.6 L583.7,509.9 L583.9,505.8 L584.1,508.0 L584.3,510.0 L584.4,514.9 L584.6,519.5 L584.8,516.4 L585.0,513.2 L585.2,514.2 L585.3,515.2 L585.5,515.3 L585.7,515.3 L585.9,518.1 L586.1,520.8 L586.2,517.7 L586.4,514.4 L586.6,508.4 L586.8,501.4 L587.0,506.6 L587.2,511.2 L587.3,515.6 L587.5,519.7 L587.7,511.6 L587.9,502.0 L588.1,500.9 L588.2,499.6 L588.4,499.6 L588.6,499.6 L588.8,499.9 L589.0,500.2 L589.1,501.7 L589.3,503.0 L589.5,510.3 L589.7,516.7 L589.9,514.9 L590.1,513.2 L590.2,514.5 L590.4,515.9 L590.6,514.1 L590.8,512.2 L591.0,510.0 L591.1,507.7 L591.3,512.5 L591.5,517.0 L591.7,510.5 L591.9,503.1 L592.1,505.6 L592.2,507.9 L592.4,508.5 L592.6,509.1 L592.8,512.0 L593.0,514.8 L593.1,515.6 L593.3,516.4 L593.5,514.5 L593.7,512.4 L593.9,512.9 L594.0,513.3 L594.2,509.8 L594.4,506.0 L594.6,509.6 L594.8,513.0 L595.0,515.5 L595.1,517.8 L595.3,513.7 L595.5,509.4 L595.7,512.6 L595.9,515.6 L596.0,513.1 L596.2,510.6 L596.4,510.6 L596.6,510.5 L596.8,511.4 L597.0,512.3 L597.1,507.4 L597.3,501.9 L597.5,502.8 L597.7,503.7 L597.9,503.2 L598.0,502.7 L598.2,506.7 L598.4,510.2 L598.6,511.4 L598.8,512.6 L598.9,512.8 L599.1,513.1 L599.3,508.4 L599.5,503.2 L599.7,504.5 L599.9,505.8 L600.0,503.8 L600.2,501.6 L600.4,506.9 L600.6,511.4 L600.8,509.3 L600.9,507.1 L601.1,505.7 L601.3,504.2 L601.5,503.6 L601.7,503.1 L601.8,509.7 L602.0,515.4 L602.2,511.6 L602.4,507.7 L602.6,511.8 L602.8,515.5 L602.9,510.3 L603.1,504.6 L603.3,503.6 L603.5,502.5 L603.7,506.9 L603.8,510.8 L604.0,512.0 L604.2,513.2 L604.4,507.6 L604.6,501.3 L604.8,507.0 L604.9,511.7 L605.1,509.7 L605.3,507.7 L605.5,509.7 L605.7,511.5 L605.8,511.6 L606.0,511.6 L606.2,508.2 L606.4,504.7 L606.6,507.9 L606.7,510.7 L606.9,506.0 L607.1,500.8 L607.3,502.6 L607.5,504.2 L607.7,504.1 L607.8,504.0 L608.0,502.7 L608.2,501.3 L608.4,502.7 L608.6,504.0 L608.7,505.2 L608.9,506.4 L609.1,503.0 L609.3,499.2 L609.5,501.4 L609.7,503.2 L609.8,503.3 L610.0,503.4 L610.2,501.7 L610.4,500.0 L610.6,502.0 L610.7,503.8 L610.9,502.1 L611.1,500.2 L611.3,501.5 L611.5,502.7 L611.6,502.5 L611.8,502.4 L612.0,502.9 L612.2,503.3 L612.4,503.7 L612.6,504.0 L612.7,503.8 L612.9,503.6 L613.1,502.3 L613.3,500.9 L613.5,500.1 L613.6,499.3 L613.8,499.2 L614.0,499.1 L614.2,500.4 L614.4,501.4 L614.5,501.2 L614.7,501.0 L614.9,500.9 L615.1,500.8 L615.3,500.7 L615.5,500.5 L615.6,500.0 L615.8,499.5 L616.0,500.0 L616.2,500.5 L616.4,500.1 L616.5,499.7 L616.7,499.7 L616.9,499.6 L617.1,499.9 L617.3,500.2 L617.5,499.9 L617.6,499.6 L617.8,499.8 L618.0,499.9 L618.2,500.1 L618.4,500.3 L618.5,499.6 L618.7,498.9 L618.9,499.5 L619.1,500.0 L619.3,499.4 L619.4,498.8 L619.6,499.1 L619.8,499.4 L620.0,500.0 L620.2,500.5 L620.4,500.6 L620.5,500.8 L620.7,500.8 L620.9,500.8 L621.1,500.6 L621.3,500.4 L621.4,500.5 L621.6,500.7 L621.8,500.7 L622.0,500.8 L622.2,500.6 L622.4,500.3 L622.5,499.9 L622.7,499.5 L622.9,499.2 L623.1,498.9 L623.3,500.0 L623.4,501.0 L623.6,501.0 L623.8,501.1 L624.0,501.1 L624.2,501.1 L624.3,501.6 L624.5,502.0 L624.7,502.7 L624.9,503.4 L625.1,504.1 L625.3,504.8 L625.4,505.2 L625.6,505.6 L625.8,506.3 L626.0,507.1 L626.2,507.2 L626.3,507.2 L626.5,508.2 L626.7,509.2 L626.9,510.0 L627.1,510.7 L627.2,511.2 L627.4,511.8 L627.6,512.0 L627.8,512.2 L628.0,512.6 L628.2,513.0 L628.3,514.4 L628.5,515.2 L628.7,514.8 L628.9,514.3 L629.1,515.5 L629.2,516.5 L629.4,516.0 L629.6,515.4 L629.8,516.5 L630.0,517.4 L630.2,517.1 L630.3,516.9 L630.5,517.8 L630.7,518.6 L630.9,518.1 L631.1,517.4 L631.2,517.4 L631.4,517.3 L631.6,518.1 L631.8,518.7 L632.0,518.9 L632.1,519.0 L632.3,518.6 L632.5,518.1 L632.7,518.3 L632.9,518.5 L633.1,518.7 L633.2,519.0 L633.4,518.6 L633.6,518.2 L633.8,518.3 L634.0,518.5 L634.1,518.7 L634.3,519.0 L634.5,518.7 L634.7,518.4 L634.9,518.2 L635.1,518.1 L635.2,519.1 L635.4,519.9 L635.6,519.1 L635.8,518.1 L636.0,519.3 L636.1,520.2 L636.3,520.1 L636.5,520.0 L636.7,519.6 L636.9,519.2 L637.0,519.7 L637.2,520.2 L637.4,519.4 L637.6,518.3 L637.8,519.1 L638.0,519.7 L638.1,519.5 L638.3,519.3 L638.5,519.3 L638.7,519.2 L638.9,519.9 L639.0,520.6 L639.2,519.7 L639.4,518.6 L639.6,519.8 L639.8,520.7 L639.9,519.9 L640.1,518.9 L640.3,519.7 L640.5,520.4 L640.7,520.1 L640.9,519.6 L641.0,520.0 L641.2,520.3 L641.4,520.7 L641.6,521.1 L641.8,521.0 L641.9,521.0 L642.1,520.3 L642.3,519.5 L642.5,519.8 L642.7,520.1 L642.9,520.3 L643.0,520.5 L643.2,520.8 L643.4,521.1 L643.6,520.4 L643.8,519.4 L643.9,520.6 L644.1,521.5 L644.3,521.5 L644.5,521.5 L644.7,521.7 L644.8,521.8 L645.0,521.1 L645.2,520.3 L645.4,520.4 L645.6,520.4 L645.8,521.2 L645.9,521.8 L646.1,521.5 L646.3,521.3 L646.5,521.0 L646.7,520.8 L646.8,520.5 L647.0,520.2 L647.2,520.5" fill="none" stroke="#111" stroke-width="0.85" stroke-linejoin="round"/>
<rect x="461.2" y="471.9" width="40.6" height="54.2" fill="#87ceeb" opacity="0.35"/>
<rect x="382.5" y="471.5" width="277.0" height="55.0" fill="none" stroke="#5a5a5a" stroke-width="0.85"/>
<text x="378.30" y="528.20" font-size="4.7" text-anchor="end" fill="#222" textLength="7.31" lengthAdjust="spacingAndGlyphs">0.0</text>
<text x="378.30" y="510.64" font-size="4.7" text-anchor="end" fill="#222" textLength="7.31" lengthAdjust="spacingAndGlyphs">0.2</text>
<text x="378.30" y="493.08" font-size="4.7" text-anchor="end" fill="#222" textLength="7.31" lengthAdjust="spacingAndGlyphs">0.4</text>
<text x="378.30" y="475.52" font-size="4.7" text-anchor="end" fill="#222" textLength="7.31" lengthAdjust="spacingAndGlyphs">0.6</text>
<text x="395.20" y="534.50" font-size="4.7" text-anchor="middle" fill="#222" textLength="2.99" lengthAdjust="spacingAndGlyphs">0</text>
<text x="431.49" y="534.50" font-size="4.7" text-anchor="middle" fill="#222" textLength="8.97" lengthAdjust="spacingAndGlyphs">200</text>
<text x="467.77" y="534.50" font-size="4.7" text-anchor="middle" fill="#222" textLength="8.97" lengthAdjust="spacingAndGlyphs">400</text>
<text x="504.06" y="534.50" font-size="4.7" text-anchor="middle" fill="#222" textLength="8.97" lengthAdjust="spacingAndGlyphs">600</text>
<text x="540.34" y="534.50" font-size="4.7" text-anchor="middle" fill="#222" textLength="8.97" lengthAdjust="spacingAndGlyphs">800</text>
<text x="576.63" y="534.50" font-size="4.7" text-anchor="middle" fill="#222" textLength="11.96" lengthAdjust="spacingAndGlyphs">1000</text>
<text x="612.92" y="534.50" font-size="4.7" text-anchor="middle" fill="#222" textLength="11.96" lengthAdjust="spacingAndGlyphs">1200</text>
<text x="649.20" y="534.50" font-size="4.7" text-anchor="middle" fill="#222" textLength="11.96" lengthAdjust="spacingAndGlyphs">1400</text>
<text x="491.60" y="468.60" font-size="5.4" fill="#222" textLength="3.10" lengthAdjust="spacingAndGlyphs" stroke="#222" stroke-width="0.16">D</text>
<text x="494.80" y="469.70" font-size="4.2" fill="#222" textLength="6.20" lengthAdjust="spacingAndGlyphs">XY</text>
<text x="503.30" y="468.60" font-size="5.6" fill="#222" textLength="48.50" lengthAdjust="spacingAndGlyphs" stroke="#222" stroke-width="0.16">(r: 0.23, p: 0.00)</text>
<rect x="501.1" y="539.9" width="55.8" height="14.9" fill="#c0c0c0"/>
<text x="527.2" y="551.2" font-size="9.8" text-anchor="middle" fill="#111" stroke="#111" stroke-width="0.16"><tspan font-style="italic">mat</tspan>K</text>
</svg></body></html>
